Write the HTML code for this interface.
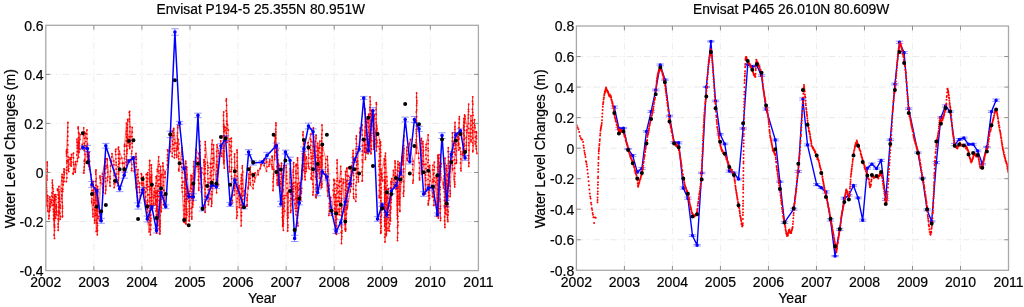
<!DOCTYPE html>
<html><head><meta charset="utf-8"><title>Envisat water level changes</title>
<style>html,body{margin:0;padding:0;background:#fff;overflow:hidden}svg{display:block}text{stroke:#000;stroke-width:0.2px}</style>
</head><body>
<svg width="1024" height="307" viewBox="0 0 1024 307" font-family='"Liberation Sans", Arial, Helvetica, sans-serif' font-size="14" fill="#000">
<rect width="1024" height="307" fill="#fff"/>
<clipPath id="c1"><rect x="45.80" y="25.30" width="432.60" height="245.30"/></clipPath>
<path d="M93.87 25.30V270.60M141.93 25.30V270.60M190.00 25.30V270.60M238.07 25.30V270.60M286.13 25.30V270.60M334.20 25.30V270.60M382.27 25.30V270.60M430.33 25.30V270.60" stroke="#ececec" stroke-width="0.9" stroke-dasharray="6.8 3.5 1.2 1.6 1.2 2.5" fill="none"/>
<path d="M45.80 221.54H478.40M45.80 172.48H478.40M45.80 123.42H478.40M45.80 74.36H478.40" stroke="#e6e6e6" stroke-width="0.9" stroke-dasharray="6.8 3.5 1.2 1.6 1.2 2.5" fill="none"/>
<g clip-path="url(#c1)"><path d="M45.7 195.6 L46.0 192.5 L46.0 190.4 L46.4 187.4 L46.4 185.0 L46.3 205.5 L46.5 200.5 L46.4 198.4 L46.7 194.9 L46.7 191.7 L46.4 187.8 L46.4 182.8 L46.6 177.9 L46.7 175.9 L47.3 171.3 L47.0 169.2 L47.3 165.5 L47.1 162.9 L47.1 162.0 L47.0 179.9 L46.4 182.9 L46.5 187.4 L46.6 189.8 L46.6 192.0 L46.5 196.5 L46.3 198.0 L47.8 211.2 L47.5 206.1 L47.4 201.0 L47.6 198.3 L47.7 195.7 L49.4 209.0 L49.0 211.8 L49.1 215.7 L48.9 218.7 L49.8 196.9 L50.1 199.4 L50.0 203.8 L49.7 206.4 L49.7 210.7 L50.8 201.5 L50.0 206.6 L50.1 207.0 L52.2 205.3 L51.8 202.8 L51.9 199.9 L51.9 196.1 L52.0 192.9 L52.4 187.5 L52.6 185.2 L52.2 182.8 L52.4 180.1 L53.0 188.8 L53.2 191.4 L52.9 193.8 L52.9 197.2 L53.4 200.6 L53.3 205.0 L53.3 209.2 L53.5 211.7 L53.6 215.1 L53.5 218.8 L54.5 238.4 L54.1 234.9 L54.6 230.4 L54.5 225.7 L54.5 220.7 L54.3 216.5 L54.5 213.4 L54.3 211.0 L54.5 206.3 L54.2 202.1 L54.4 198.6 L54.4 195.4 L54.6 227.4 L54.4 224.8 L54.3 220.1 L54.7 216.4 L54.5 214.2 L54.7 211.7 L54.5 206.4 L54.6 204.0 L54.7 200.1 L54.7 196.3 L54.6 194.9 L56.2 206.0 L56.0 208.7 L56.0 212.1 L56.1 214.5 L55.4 217.8 L55.7 218.2 L56.5 214.4 L56.5 211.0 L56.1 207.7 L56.3 204.9 L55.9 199.6 L56.0 196.9 L55.6 194.6 L58.3 195.0 L57.6 190.2 L57.4 189.1 L59.0 186.5 L58.8 189.7 L58.8 194.6 L58.4 198.2 L58.3 202.2 L58.4 207.1 L58.2 212.1 L58.2 215.4 L58.1 218.9 L58.5 220.9 L58.1 223.9 L58.2 226.9 L58.2 230.3 L59.1 191.8 L59.5 197.1 L59.6 199.3 L59.6 204.4 L59.7 206.9 L59.1 211.1 L59.8 213.2 L59.5 213.6 L60.1 219.2 L60.4 216.4 L59.9 213.2 L60.1 208.0 L60.1 205.5 L59.9 201.3 L59.6 198.1 L62.1 174.3 L62.1 177.0 L62.1 180.9 L62.3 184.4 L61.9 188.3 L61.8 191.2 L61.8 194.9 L61.9 198.5 L62.2 202.2 L62.5 206.1 L62.5 208.2 L62.4 211.8 L62.6 216.1 L62.4 216.9 L62.1 195.7 L62.7 191.4 L62.8 189.3 L63.2 184.9 L63.4 181.8 L63.2 178.0 L63.2 177.6 L63.7 178.0 L64.0 174.8 L63.9 171.5 L64.0 168.9 L64.5 169.2 L64.4 172.7 L64.1 177.6 L64.0 181.5 L66.4 181.6 L66.9 177.8 L66.8 173.5 L66.5 170.4 L66.7 167.3 L66.8 163.1 L66.8 161.0 L66.6 155.9 L66.5 153.7 L66.4 151.7 L66.6 150.0 L67.9 122.4 L67.8 127.6 L67.8 131.7 L67.8 136.2 L67.6 140.6 L67.8 144.9 L67.6 149.6 L67.6 152.2 L68.2 156.9 L67.8 161.2 L68.2 166.1 L68.0 169.9 L68.8 171.6 L68.7 168.5 L69.0 164.2 L68.6 162.0 L68.3 159.9 L68.5 159.6 L70.1 157.7 L70.2 159.8 L71.0 163.8 L70.8 165.6 L71.3 166.1 L71.3 161.9 L71.1 159.3 L71.6 157.3 L71.8 154.9 L71.4 154.5 L73.5 153.2 L73.5 157.7 L73.4 162.3 L73.7 164.5 L73.6 169.0 L72.9 173.5 L73.2 174.1 L75.6 161.6 L75.6 164.5 L74.9 169.0 L75.3 171.1 L75.2 172.2 L77.4 161.2 L77.5 158.6 L76.9 154.9 L77.2 151.6 L77.2 148.1 L77.2 145.6 L77.1 142.3 L76.9 139.4 L78.6 157.2 L78.6 151.9 L78.2 147.9 L78.7 145.7 L78.5 141.2 L78.3 138.1 L78.5 132.7 L78.1 128.6 L78.2 127.0 L78.9 133.2 L79.0 137.3 L78.5 142.1 L78.4 144.1 L78.6 147.6 L78.5 152.4 L80.1 134.6 L79.9 139.4 L79.3 143.4 L79.4 148.4 L79.0 152.5 L82.3 144.3 L82.5 148.2 L82.3 148.3 L83.7 127.8 L84.1 131.9 L83.9 135.6 L84.3 138.4 L84.2 143.2 L84.5 145.5 L84.2 150.2 L84.8 154.3 L84.7 159.4 L84.7 160.5 L84.2 161.0 L84.5 163.6 L84.2 166.9 L84.0 170.3 L83.6 172.8 L83.9 173.1 L86.4 146.4 L85.9 141.6 L85.8 137.5 L85.3 133.7 L85.6 133.1 L87.0 130.0 L86.9 134.0 L87.1 138.7 L87.5 144.0 L87.7 148.9 L87.1 151.8 L87.3 154.5 L87.2 156.8 L87.9 160.7 L87.7 163.3 L87.8 155.0 L88.3 159.1 L88.8 161.5 L88.8 164.4 L88.8 166.0 L89.2 152.4 L89.1 155.9 L89.7 161.3 L89.1 164.1 L89.4 167.0 L89.5 169.3 L90.9 174.5 L91.5 179.3 L91.8 183.5 L91.2 185.7 L91.9 190.4 L91.5 194.7 L91.9 198.8 L91.7 201.2 L91.8 202.8 L93.0 216.7 L93.0 213.8 L92.9 209.5 L93.1 205.0 L93.6 202.8 L93.6 200.1 L93.5 195.0 L93.2 192.5 L93.6 190.2 L93.3 185.2 L93.1 181.7 L93.2 181.5 L94.6 222.9 L94.5 220.1 L94.9 215.6 L95.1 213.1 L94.8 210.2 L94.8 207.6 L94.8 202.7 L95.0 200.1 L95.3 197.0 L95.3 194.6 L95.3 192.4 L94.8 188.1 L95.0 188.0 L96.2 231.5 L96.8 228.2 L96.7 222.7 L96.2 220.4 L96.0 215.3 L96.2 210.7 L95.9 205.3 L96.1 200.5 L95.9 198.0 L96.2 193.1 L96.1 190.4 L95.9 185.2 L95.8 181.2 L96.3 178.6 L95.8 174.1 L95.7 171.8 L96.0 170.0 L97.3 234.7 L97.6 230.6 L97.5 225.7 L97.1 223.0 L97.3 218.4 L97.0 213.9 L97.2 209.1 L97.5 204.1 L96.9 200.4 L97.1 195.2 L96.9 190.2 L97.1 188.9 L97.6 186.4 L97.8 189.7 L97.8 191.7 L97.7 195.2 L97.9 197.7 L97.9 202.5 L97.8 205.6 L97.8 209.0 L97.9 211.2 L97.6 215.8 L99.4 220.5 L99.0 216.6 L99.4 212.8 L100.3 182.8 L100.5 179.9 L99.9 177.8 L100.0 175.9 L103.3 192.2 L103.0 188.2 L102.5 183.8 L102.7 178.7 L102.2 176.6 L102.4 174.0 L105.5 158.7 L105.5 162.1 L105.9 166.2 L105.7 168.7 L105.4 173.3 L105.8 178.2 L105.4 181.6 L105.5 186.5 L105.7 189.9 L105.4 193.5 L107.4 180.5 L107.7 176.9 L107.6 172.1 L107.4 167.3 L107.2 165.1 L107.3 159.7 L107.0 158.7 L110.1 186.0 L109.9 182.2 L110.3 178.7 L110.0 176.6 L110.5 171.2 L110.5 165.9 L110.7 161.1 L110.4 160.3 L111.6 161.4 L111.8 157.0 L112.0 153.6 L113.8 160.9 L113.9 164.7 L113.9 170.0 L114.1 173.1 L114.1 175.5 L114.1 180.8 L114.1 183.8 L114.1 187.6 L116.1 182.4 L116.2 179.3 L116.1 176.3 L116.2 174.0 L116.2 169.1 L116.1 165.1 L116.1 162.4 L115.9 158.8 L115.8 154.6 L115.6 151.5 L115.7 149.4 L118.6 147.2 L118.4 149.2 L118.3 154.2 L118.5 158.2 L118.8 161.2 L118.6 164.2 L118.1 166.8 L118.4 171.8 L118.3 174.0 L118.5 177.6 L118.2 180.0 L118.5 185.3 L118.3 185.7 L119.8 163.1 L119.9 158.9 L119.5 154.1 L119.4 151.2 L121.9 158.1 L122.5 162.8 L122.4 163.4 L123.5 175.6 L124.1 171.0 L124.4 167.2 L124.1 163.2 L124.5 158.5 L124.3 154.3 L124.4 150.8 L124.4 146.2 L124.6 144.5 L126.4 123.1 L126.8 127.9 L126.5 131.6 L126.4 134.3 L126.6 136.8 L126.2 140.8 L126.3 146.0 L126.7 151.0 L126.2 156.4 L126.7 159.8 L126.1 161.9 L126.4 165.2 L127.0 153.3 L127.2 149.4 L127.0 145.6 L127.0 141.2 L127.2 137.9 L127.5 134.7 L127.3 130.3 L127.3 128.0 L127.5 124.6 L127.8 120.6 L127.6 119.3 L128.0 143.1 L127.8 138.7 L129.7 148.5 L129.4 145.9 L129.7 140.5 L129.2 136.7 L129.7 131.6 L129.9 126.7 L129.5 121.6 L129.4 119.0 L129.6 115.2 L129.3 112.6 L129.6 111.5 L130.4 136.6 L129.7 140.8 L130.1 144.3 L129.8 147.1 L132.2 127.3 L132.3 132.2 L132.0 136.6 L132.1 140.3 L132.1 143.2 L132.3 147.1 L131.8 151.1 L131.6 153.5 L131.5 158.2 L131.4 160.6 L131.8 164.4 L131.7 168.5 L131.5 170.6 L134.3 171.2 L134.6 166.7 L134.6 164.1 L134.9 162.4 L136.0 153.5 L136.0 157.0 L136.4 159.2 L136.4 163.3 L136.2 166.8 L135.8 169.7 L136.4 174.9 L136.5 178.0 L136.1 182.9 L136.5 187.0 L136.2 187.8 L138.0 169.6 L137.8 174.1 L138.2 177.2 L138.1 180.9 L137.6 183.8 L137.6 187.0 L137.5 192.4 L137.4 196.4 L137.5 200.3 L137.6 200.3 L140.3 195.6 L139.7 192.4 L139.6 189.7 L139.2 186.9 L139.4 182.7 L142.1 185.5 L141.6 183.2 L141.3 178.2 L141.6 174.7 L141.3 173.7 L143.8 193.3 L143.9 190.0 L143.8 187.3 L143.3 183.5 L143.1 179.9 L143.3 176.7 L145.8 204.3 L145.7 201.0 L145.7 196.9 L145.8 191.9 L146.2 188.1 L146.4 185.1 L146.4 181.8 L146.3 177.8 L146.2 174.4 L146.5 174.2 L147.8 172.6 L147.7 175.0 L147.6 178.3 L147.3 181.3 L147.4 184.4 L147.7 186.8 L147.5 189.8 L147.7 195.0 L147.7 200.1 L147.3 202.5 L147.6 204.7 L147.3 209.0 L147.5 212.4 L147.2 216.9 L147.4 219.5 L149.1 231.9 L149.6 229.5 L149.5 225.0 L149.0 222.8 L149.2 220.2 L149.3 217.2 L149.3 215.0 L149.2 210.8 L149.5 205.9 L149.3 201.4 L149.6 197.8 L149.1 194.6 L149.7 189.7 L149.2 186.7 L149.6 181.7 L149.3 179.5 L149.7 177.2 L149.8 174.4 L149.2 169.8 L149.5 165.4 L149.8 160.7 L149.6 160.5 L150.4 234.7 L150.7 229.4 L150.9 224.9 L150.7 220.7 L150.9 218.5 L150.8 215.0 L150.6 209.7 L150.6 205.1 L151.2 200.6 L151.1 197.7 L151.2 192.3 L151.0 188.4 L151.1 186.2 L151.1 182.7 L151.3 180.3 L151.0 184.9 L150.8 182.1 L151.1 178.3 L151.2 176.5 L152.0 206.4 L151.8 203.9 L151.9 200.7 L151.9 196.8 L151.8 194.2 L151.6 190.1 L151.8 185.5 L151.4 183.1 L151.3 179.8 L151.4 177.6 L151.6 174.9 L151.2 171.3 L151.4 168.2 L151.2 164.9 L151.4 164.8 L153.7 205.4 L153.8 203.1 L153.9 197.7 L154.0 195.3 L154.0 191.8 L154.4 188.1 L155.5 204.2 L155.8 200.0 L155.4 195.7 L155.4 192.9 L155.9 190.8 L155.7 185.8 L156.1 183.2 L156.4 178.2 L156.1 176.6 L156.2 193.5 L155.8 196.6 L156.0 201.5 L156.2 204.8 L156.5 208.1 L155.9 210.9 L156.4 214.9 L156.5 219.8 L156.8 225.0 L156.5 228.7 L156.4 231.2 L156.6 233.0 L156.6 215.1 L157.2 211.5 L156.6 209.2 L156.8 205.7 L156.7 201.2 L157.4 196.2 L157.2 192.5 L157.8 225.7 L157.6 221.9 L157.6 218.7 L157.8 214.4 L157.3 209.2 L157.5 206.2 L157.4 202.2 L157.2 199.6 L157.5 196.4 L157.7 191.0 L157.7 186.0 L157.5 180.6 L157.0 175.8 L157.4 171.4 L157.3 169.4 L158.7 156.8 L158.6 161.1 L159.1 164.3 L158.6 166.4 L158.8 170.8 L159.0 173.1 L159.0 176.4 L159.0 179.8 L158.9 183.8 L158.8 186.2 L159.1 191.3 L159.4 193.7 L158.9 196.6 L159.0 200.4 L159.3 204.2 L159.3 206.9 L159.3 209.3 L159.1 213.4 L159.1 216.8 L159.7 220.4 L159.6 224.3 L159.3 228.9 L159.5 229.6 L160.8 175.2 L160.3 178.5 L160.5 183.9 L160.2 188.6 L160.1 193.3 L160.3 196.1 L160.4 198.2 L160.1 200.9 L160.2 205.4 L160.3 210.5 L160.2 215.6 L160.3 220.8 L160.2 223.4 L160.2 226.6 L160.1 231.0 L159.8 233.4 L159.9 234.0 L160.6 166.4 L160.6 170.5 L161.2 174.4 L161.3 176.8 L160.8 181.1 L161.0 183.8 L161.1 188.8 L160.8 191.2 L161.3 193.5 L161.2 196.2 L161.3 199.2 L160.9 202.5 L161.3 207.6 L161.3 211.7 L162.9 163.0 L163.0 166.2 L163.6 169.9 L163.1 174.7 L163.7 177.4 L163.5 181.8 L163.4 185.4 L163.7 190.4 L163.9 195.4 L163.8 197.7 L164.2 200.5 L163.7 204.5 L164.0 205.2 L165.2 177.4 L165.0 174.0 L165.1 172.0 L165.0 171.9 L167.9 167.1 L167.3 165.0 L167.4 160.6 L167.5 157.7 L167.6 154.7 L167.8 150.9 L167.5 149.8 L170.5 151.6 L170.6 146.6 L170.4 146.3 L172.3 131.1 L172.7 135.9 L172.5 141.2 L172.5 144.3 L172.3 148.9 L172.2 153.1 L172.2 156.4 L174.4 157.8 L174.8 154.7 L174.2 151.0 L174.1 148.2 L173.9 144.9 L174.4 142.9 L174.0 139.3 L173.8 135.3 L173.5 132.8 L173.6 129.7 L173.7 128.4 L175.8 143.3 L176.2 148.5 L176.1 150.8 L176.8 154.8 L176.7 157.4 L178.0 125.5 L177.7 127.7 L177.5 132.9 L177.3 135.8 L177.5 138.4 L177.4 142.8 L177.4 146.2 L177.6 149.6 L178.4 139.5 L179.0 144.1 L178.4 148.2 L179.0 153.0 L178.5 156.2 L178.8 158.9 L178.9 164.0 L178.7 169.2 L178.9 170.9 L182.0 147.6 L182.0 151.9 L182.0 154.1 L182.2 156.3 L182.1 159.5 L182.0 163.6 L181.8 167.2 L182.2 172.4 L181.9 177.9 L182.4 182.0 L182.0 185.2 L182.0 187.7 L182.3 191.9 L183.9 222.0 L184.1 218.1 L184.2 214.2 L184.0 210.1 L184.0 205.5 L184.4 201.0 L184.2 196.3 L184.7 191.6 L184.2 188.0 L184.7 184.1 L184.1 181.7 L184.6 178.0 L184.4 173.3 L184.6 171.6 L184.9 222.5 L185.0 220.4 L185.2 218.2 L185.0 214.2 L185.2 208.9 L185.1 206.4 L185.6 201.8 L185.0 199.3 L185.2 194.5 L185.4 189.1 L185.4 184.9 L185.5 180.1 L185.8 176.9 L185.7 174.6 L185.7 172.3 L185.9 168.9 L185.7 166.7 L185.9 163.3 L185.7 161.2 L186.3 182.8 L186.4 185.7 L186.2 188.5 L186.5 193.2 L186.7 196.2 L186.4 199.0 L186.5 201.5 L186.1 206.6 L186.4 211.2 L186.0 214.2 L186.4 217.9 L186.2 220.5 L186.0 224.0 L186.9 215.0 L186.9 212.3 L186.8 209.0 L186.4 204.0 L187.0 199.0 L186.3 195.9 L187.0 193.5 L187.0 191.5 L186.9 189.0 L186.5 186.6 L186.4 182.3 L187.0 179.1 L187.0 174.6 L186.4 169.1 L186.8 167.3 L188.7 194.0 L188.9 197.8 L188.8 201.3 L189.5 203.4 L189.4 206.5 L189.2 208.9 L189.2 211.4 L189.4 214.0 L189.5 216.5 L189.1 220.3 L189.3 221.0 L189.2 216.5 L189.7 213.7 L189.7 208.7 L189.4 205.7 L189.4 202.8 L189.8 200.6 L189.9 197.2 L189.6 193.9 L190.0 191.2 L190.9 175.2 L191.2 179.6 L191.1 184.7 L190.8 188.1 L190.9 188.7 L191.9 176.0 L191.7 179.4 L191.6 184.9 L192.2 189.0 L192.0 191.9 L191.7 195.2 L191.6 197.9 L192.1 202.9 L191.5 208.1 L191.7 212.5 L191.8 216.8 L191.8 219.0 L193.8 161.6 L193.5 166.6 L193.8 170.6 L193.4 173.5 L193.2 178.1 L193.1 182.6 L193.2 186.4 L192.9 190.8 L193.0 195.0 L193.0 197.7 L193.1 200.7 L192.9 204.3 L192.7 207.1 L196.2 166.6 L196.3 161.4 L196.2 157.5 L195.9 152.7 L196.2 150.1 L196.0 149.5 L198.5 153.5 L198.0 158.5 L198.6 161.8 L198.1 166.7 L198.3 169.2 L198.4 171.6 L198.6 176.4 L198.3 180.0 L199.0 183.4 L198.7 187.8 L198.8 190.2 L199.8 141.2 L200.0 145.6 L199.9 149.4 L200.0 152.7 L199.9 156.1 L200.3 158.8 L200.0 161.0 L200.2 165.5 L200.2 168.6 L200.1 173.5 L200.5 177.0 L201.8 167.9 L201.8 172.7 L201.3 176.0 L201.5 179.5 L201.3 184.0 L201.5 187.5 L201.3 191.9 L204.3 179.4 L204.0 174.2 L204.3 168.8 L204.2 165.5 L203.8 162.3 L204.0 159.7 L205.1 212.3 L205.3 207.2 L205.2 205.1 L205.1 201.4 L205.1 196.5 L205.4 192.9 L205.1 189.3 L205.4 185.5 L205.3 181.2 L204.8 177.8 L205.2 173.4 L205.3 168.7 L204.9 166.3 L205.4 164.0 L204.9 161.7 L205.2 157.0 L205.3 154.8 L205.1 150.3 L205.3 148.1 L205.2 144.7 L205.2 141.7 L207.5 162.5 L207.8 165.6 L208.1 167.7 L207.7 170.6 L207.7 173.7 L208.0 178.7 L208.0 182.5 L207.9 184.7 L208.3 189.7 L208.0 194.7 L207.9 197.4 L208.2 201.3 L208.4 204.7 L210.0 198.4 L209.9 193.6 L210.2 188.4 L210.1 186.2 L210.1 182.4 L210.1 178.4 L210.4 175.4 L210.4 172.4 L210.3 167.6 L210.6 164.0 L210.3 163.5 L212.3 140.1 L211.9 144.3 L211.9 149.4 L211.9 153.4 L212.1 158.7 L212.0 163.5 L212.1 167.8 L211.7 170.9 L211.6 175.8 L211.6 181.0 L211.5 183.4 L212.1 188.1 L211.8 191.6 L211.9 194.5 L211.4 198.9 L211.7 201.1 L211.8 203.2 L211.3 206.2 L211.5 206.3 L213.2 184.7 L213.4 179.5 L213.3 174.6 L213.9 169.8 L213.2 166.4 L213.6 163.1 L213.6 160.3 L213.5 158.0 L213.5 153.4 L213.3 149.0 L213.6 144.9 L216.6 192.7 L216.4 187.4 L216.3 184.4 L216.5 179.8 L216.3 174.5 L216.9 170.9 L216.7 166.8 L216.5 164.5 L217.0 161.5 L216.6 156.5 L216.6 151.3 L217.3 147.2 L217.0 144.8 L217.2 164.9 L217.5 168.1 L217.7 171.0 L217.8 173.6 L217.3 176.6 L217.4 180.6 L217.9 184.5 L217.8 185.9 L219.3 161.3 L219.2 159.0 L219.0 156.5 L218.6 153.3 L218.4 150.3 L221.6 156.3 L221.4 153.1 L221.0 148.1 L220.6 145.5 L220.7 140.9 L223.7 162.2 L223.7 159.8 L223.7 157.2 L223.6 153.4 L223.6 150.7 L223.4 148.0 L224.0 145.2 L224.0 141.4 L224.0 139.4 L223.9 135.7 L223.8 131.7 L223.9 128.9 L223.5 126.3 L223.6 124.2 L223.5 120.4 L223.4 115.3 L223.7 112.0 L224.3 168.1 L223.8 163.6 L224.2 160.8 L223.8 155.3 L224.3 151.2 L224.1 146.3 L224.2 141.5 L223.9 136.3 L224.2 131.0 L224.0 127.5 L224.2 126.1 L225.6 127.3 L225.8 130.5 L226.2 132.8 L227.0 142.4 L226.9 136.9 L226.6 133.3 L226.9 128.5 L226.7 123.9 L226.6 121.2 L226.7 116.2 L226.7 113.9 L226.2 110.7 L226.6 105.3 L226.2 100.7 L226.4 99.0 L227.6 125.0 L228.3 129.9 L228.2 130.3 L229.6 171.7 L229.4 166.7 L229.6 161.3 L229.5 156.0 L230.0 150.6 L230.1 147.7 L229.7 144.9 L229.8 141.3 L230.0 138.9 L231.4 138.1 L231.5 141.5 L231.4 146.2 L231.6 151.5 L231.1 154.9 L231.6 159.2 L231.5 162.4 L231.7 167.3 L231.5 169.4 L231.2 171.4 L231.5 176.3 L231.6 178.8 L232.0 203.8 L232.3 200.6 L231.8 196.4 L231.9 196.1 L234.2 194.9 L234.5 190.6 L234.5 188.2 L234.6 186.1 L234.2 183.4 L234.3 178.1 L234.7 175.3 L234.8 171.1 L234.5 167.8 L234.6 162.4 L234.4 157.0 L234.6 154.0 L236.6 218.2 L237.3 215.6 L237.2 212.0 L236.9 209.1 L237.0 206.8 L237.0 201.8 L237.3 198.4 L237.1 193.3 L237.1 191.0 L237.3 187.5 L237.1 184.2 L236.9 180.0 L237.1 176.2 L237.0 171.0 L237.3 167.7 L237.2 165.5 L237.0 161.1 L237.2 157.6 L237.2 152.5 L237.0 150.0 L239.2 207.6 L239.6 202.3 L239.4 199.8 L239.0 195.8 L239.4 192.4 L239.0 188.1 L239.1 185.7 L241.2 225.9 L241.4 220.5 L241.4 215.7 L241.6 212.3 L241.5 207.8 L241.1 204.9 L241.6 200.9 L241.2 196.1 L241.4 193.6 L241.1 188.5 L241.1 183.9 L241.1 180.8 L241.3 177.8 L241.4 174.5 L241.4 189.1 L241.0 194.4 L241.0 197.5 L241.0 198.3 L242.5 207.4 L242.4 202.1 L242.8 199.3 L242.7 195.8 L242.7 191.5 L242.2 188.4 L242.4 183.8 L242.5 179.8 L242.3 175.2 L242.7 171.9 L242.2 168.1 L242.4 165.8 L243.9 195.4 L244.7 190.6 L247.5 195.0 L246.9 197.9 L247.1 200.2 L247.1 204.8 L246.9 206.3 L248.8 174.1 L249.0 178.3 L248.6 182.6 L248.2 187.3 L248.2 188.7 L250.4 167.1 L250.3 171.9 L250.6 174.6 L250.3 178.4 L250.5 182.8 L250.2 184.8 L253.1 188.5 L253.2 184.7 L252.7 180.4 L252.6 177.0 L252.6 174.0 L252.3 173.7 L255.2 172.9 L254.8 177.6 L254.5 181.9 L257.9 170.5 L258.1 174.7 L261.0 164.4 L260.2 168.7 L264.2 159.2 L264.5 163.3 L264.1 165.4 L266.5 171.1 L267.0 166.8 L266.3 162.0 L266.3 159.1 L269.0 166.3 L269.4 164.3 L269.4 161.8 L269.8 159.8 L272.3 169.1 L272.3 167.0 L271.9 164.6 L272.0 160.4 L272.2 157.2 L272.1 156.2 L273.8 169.3 L273.5 174.2 L273.6 176.3 L273.3 178.4 L273.0 181.9 L273.3 186.1 L273.0 190.1 L273.0 190.5 L275.1 136.6 L274.8 142.1 L274.4 146.2 L274.7 159.5 L274.8 155.8 L275.3 152.2 L275.2 147.7 L275.1 144.5 L275.3 141.1 L275.7 138.5 L275.6 134.7 L275.8 132.0 L275.6 129.3 L276.0 125.3 L275.9 123.0 L276.8 166.6 L276.8 171.1 L276.6 173.3 L277.1 175.4 L277.1 179.9 L277.1 182.8 L277.3 185.1 L277.4 144.8 L277.4 146.9 L277.9 150.1 L277.7 155.0 L277.5 157.3 L278.1 159.9 L278.3 163.5 L278.3 168.7 L278.4 172.4 L277.9 174.8 L278.3 178.8 L278.2 181.5 L278.7 183.6 L278.4 185.4 L279.1 165.2 L279.2 169.7 L279.7 174.6 L279.2 177.1 L279.7 179.8 L279.4 183.1 L280.1 188.0 L280.0 191.6 L280.8 183.9 L280.8 181.6 L281.3 177.4 L281.3 173.7 L281.1 171.0 L281.3 165.8 L281.6 163.5 L281.5 163.1 L282.7 225.1 L282.8 220.9 L282.3 217.3 L282.3 212.8 L282.5 209.1 L282.7 204.8 L282.7 201.9 L282.6 201.3 L283.4 230.3 L282.7 226.2 L283.4 223.4 L282.9 220.6 L283.2 215.8 L283.0 211.6 L282.6 209.5 L283.0 204.0 L282.4 201.9 L283.0 199.1 L282.8 196.3 L282.7 191.0 L282.4 185.8 L282.2 183.3 L282.2 178.6 L282.5 175.9 L283.7 165.6 L283.4 168.2 L283.6 170.5 L283.7 175.6 L283.6 177.7 L283.5 181.6 L283.4 185.4 L283.4 189.4 L282.9 191.7 L283.0 195.6 L282.8 199.0 L282.8 203.6 L283.3 208.5 L282.8 212.1 L282.8 216.4 L282.7 219.9 L282.9 225.3 L282.9 226.3 L284.8 211.1 L284.4 206.1 L284.6 202.9 L284.7 198.2 L285.0 195.6 L286.1 165.3 L286.2 167.6 L286.6 172.0 L286.6 175.8 L286.7 179.2 L287.0 183.5 L287.0 188.1 L287.1 193.3 L286.9 195.5 L287.7 231.0 L287.8 227.5 L287.9 224.9 L287.7 221.3 L287.5 218.4 L287.5 215.2 L287.6 212.9 L287.8 207.4 L287.9 202.2 L288.1 197.3 L287.7 192.6 L287.8 192.5 L288.1 217.7 L288.1 212.6 L287.7 209.4 L287.5 209.2 L290.0 168.8 L290.3 171.1 L290.2 174.2 L290.2 177.5 L290.0 182.9 L290.4 186.8 L290.6 190.6 L290.6 194.1 L290.7 198.5 L290.2 200.8 L290.7 203.8 L290.3 205.8 L290.9 210.4 L290.6 212.5 L292.2 199.0 L292.4 194.4 L292.1 191.5 L292.5 189.4 L292.2 186.7 L292.4 184.0 L293.7 162.6 L293.8 166.7 L293.3 169.8 L293.3 172.0 L293.4 175.3 L293.7 177.6 L293.8 183.0 L293.9 186.0 L293.5 188.6 L293.7 191.7 L293.7 196.1 L293.8 200.0 L295.3 208.6 L295.1 203.7 L295.4 198.8 L295.8 193.8 L295.6 189.4 L295.5 187.4 L295.6 182.2 L296.0 177.9 L295.8 173.6 L295.8 171.1 L296.0 165.7 L296.2 164.2 L296.2 198.0 L296.7 200.1 L296.7 202.5 L296.4 205.8 L296.4 208.3 L296.0 211.2 L296.0 214.6 L298.0 225.9 L297.7 222.9 L297.5 218.2 L297.5 215.5 L297.6 212.2 L297.6 208.0 L297.2 202.9 L297.7 198.6 L297.1 195.8 L297.2 192.2 L297.5 188.6 L297.1 186.3 L297.3 183.9 L298.1 201.2 L297.8 198.8 L298.0 195.6 L298.0 190.3 L297.8 188.0 L298.0 183.4 L298.2 178.4 L297.5 173.4 L297.8 168.1 L297.5 165.2 L297.5 160.2 L297.5 157.9 L297.6 157.9 L299.4 189.5 L299.8 185.9 L300.2 183.2 L300.1 182.6 L300.8 200.1 L300.7 197.4 L301.4 193.2 L301.5 191.1 L301.7 188.3 L302.4 153.6 L302.5 157.7 L302.5 160.2 L302.4 165.5 L302.0 170.5 L301.8 175.7 L302.0 178.5 L302.0 179.4 L303.3 170.0 L303.3 166.5 L303.7 163.8 L303.8 159.8 L303.5 156.4 L303.7 154.3 L303.3 151.5 L303.6 147.7 L303.6 144.0 L303.0 139.8 L302.9 134.9 L303.1 131.8 L305.2 179.7 L304.8 176.5 L305.0 173.3 L304.7 171.3 L305.0 168.7 L304.8 166.7 L304.7 163.8 L304.8 159.8 L304.4 157.3 L304.9 154.9 L304.3 152.4 L304.6 148.6 L304.1 143.5 L304.4 143.1 L306.2 171.6 L306.5 168.2 L306.6 163.8 L306.2 158.5 L306.4 156.8 L309.2 168.8 L308.5 166.5 L308.6 163.5 L308.8 158.1 L308.5 154.6 L308.5 149.6 L308.2 145.3 L307.9 142.9 L308.1 142.6 L311.0 133.8 L310.6 139.2 L311.1 141.5 L310.7 145.4 L310.8 149.9 L310.9 152.7 L311.2 156.5 L311.2 158.8 L311.1 163.0 L311.4 167.3 L311.2 169.4 L311.4 173.7 L311.1 178.0 L311.3 179.3 L313.4 128.0 L313.2 133.4 L313.7 136.8 L313.1 141.9 L313.2 146.5 L313.5 150.8 L313.1 153.3 L313.1 156.0 L313.0 158.2 L313.1 161.6 L313.2 163.8 L313.2 169.1 L313.3 172.4 L312.9 175.9 L312.7 179.6 L312.8 184.0 L313.3 187.3 L313.2 192.0 L312.9 195.0 L316.1 135.5 L316.0 138.2 L315.6 141.2 L315.9 146.1 L316.1 151.1 L315.7 155.1 L315.9 157.2 L315.8 161.7 L315.6 164.0 L316.1 166.6 L315.8 168.6 L316.1 171.5 L315.7 177.0 L316.3 179.4 L315.8 184.8 L316.1 187.9 L316.1 191.1 L316.0 194.7 L315.9 196.9 L316.1 197.8 L317.5 192.6 L317.6 189.7 L317.3 185.1 L317.2 181.4 L317.5 176.1 L317.2 174.0 L317.4 169.5 L317.3 165.0 L317.8 160.2 L317.6 157.9 L317.7 155.2 L317.8 150.4 L317.3 147.6 L317.7 143.3 L317.6 143.1 L318.0 171.2 L318.1 167.0 L318.3 164.1 L318.5 160.2 L318.5 158.1 L318.3 155.3 L318.6 151.1 L318.4 148.1 L319.8 141.1 L319.7 145.5 L319.7 148.0 L320.0 152.7 L320.1 157.2 L319.5 162.0 L319.8 165.1 L319.7 167.3 L319.3 169.6 L319.3 173.4 L319.4 178.3 L321.1 156.3 L321.3 158.7 L321.2 162.6 L321.3 167.1 L321.0 171.8 L321.2 174.0 L321.1 177.7 L321.0 182.1 L321.2 185.2 L321.2 187.8 L322.0 125.0 L322.3 130.2 L321.7 134.4 L322.0 138.0 L321.6 141.0 L322.2 146.4 L321.9 148.9 L321.8 153.0 L322.1 155.3 L321.8 160.0 L321.8 162.3 L322.2 164.6 L321.7 166.8 L321.6 171.5 L321.5 173.8 L321.8 176.4 L321.6 181.3 L322.0 183.9 L321.8 187.2 L322.7 155.8 L322.3 150.4 L322.5 147.5 L322.2 145.3 L325.9 159.4 L325.5 163.6 L325.7 167.2 L325.3 171.8 L325.9 174.4 L325.8 176.8 L325.6 177.9 L327.9 196.2 L327.6 190.7 L327.6 185.7 L327.9 183.1 L327.5 179.9 L327.9 176.5 L327.7 171.4 L327.8 169.4 L327.8 165.3 L327.4 159.9 L327.4 156.3 L329.3 185.5 L329.2 188.8 L329.0 192.1 L329.5 194.9 L329.3 198.4 L329.3 203.5 L329.4 206.3 L329.3 211.1 L328.9 215.4 L330.8 197.3 L331.0 201.6 L331.0 206.6 L331.3 210.5 L331.5 215.2 L333.5 195.3 L333.2 190.2 L333.8 184.9 L333.9 180.5 L333.8 179.3 L334.6 180.5 L334.8 183.7 L334.9 188.5 L334.5 191.2 L334.3 194.1 L334.3 197.2 L334.5 202.0 L334.4 204.3 L334.5 208.9 L334.7 211.5 L335.5 233.3 L335.3 230.2 L335.3 225.1 L335.6 219.9 L335.7 216.8 L335.2 212.8 L335.8 208.8 L335.6 205.0 L335.9 201.5 L335.5 197.2 L335.7 194.7 L336.4 234.2 L336.6 231.7 L336.4 229.6 L336.5 226.1 L336.1 222.6 L336.7 218.8 L336.4 214.0 L336.7 211.2 L336.4 206.4 L337.0 201.3 L336.6 197.8 L337.0 193.3 L336.6 190.6 L337.0 187.5 L336.9 184.8 L337.0 181.0 L337.2 178.5 L337.0 173.0 L336.8 168.3 L337.1 163.1 L337.1 160.0 L338.4 185.6 L337.7 188.3 L338.3 192.0 L338.3 197.2 L338.3 201.0 L337.7 204.9 L338.1 209.2 L337.9 212.6 L337.8 214.5 L339.7 214.8 L339.4 211.2 L339.6 209.1 L339.8 204.6 L339.5 201.8 L339.4 198.0 L339.9 193.9 L339.7 191.2 L339.8 186.7 L339.7 182.2 L339.6 180.9 L340.7 166.3 L341.1 171.6 L340.8 173.9 L341.3 178.7 L341.2 181.2 L341.6 185.4 L341.5 188.6 L341.1 191.4 L341.3 194.0 L341.3 198.2 L341.3 200.7 L341.3 203.0 L341.5 206.1 L341.5 208.8 L341.9 212.3 L341.9 216.0 L341.5 219.7 L341.5 223.7 L341.4 226.3 L342.1 230.8 L341.8 233.2 L341.5 243.5 L341.5 239.1 L341.8 236.5 L341.2 232.5 L341.7 227.6 L341.6 224.3 L341.5 219.1 L341.4 215.6 L341.6 211.7 L341.8 207.1 L341.4 204.6 L341.5 200.4 L343.2 179.1 L343.5 182.3 L343.2 183.3 L345.0 229.4 L345.3 224.3 L344.9 222.2 L344.9 218.5 L345.1 215.2 L344.8 212.0 L344.7 209.6 L345.5 171.4 L345.7 174.8 L345.4 179.6 L345.5 182.8 L345.9 186.1 L345.4 190.0 L345.8 193.2 L345.7 195.7 L345.4 197.8 L345.8 200.0 L345.4 202.5 L345.4 204.7 L345.7 209.3 L345.9 214.5 L345.9 218.4 L345.9 220.7 L345.3 224.2 L345.8 228.9 L345.6 231.0 L346.5 213.6 L346.7 209.5 L346.1 207.3 L346.1 204.9 L346.6 200.4 L346.3 198.0 L346.6 195.4 L346.9 191.0 L347.0 187.8 L346.6 184.3 L346.6 181.4 L347.2 176.0 L346.7 171.5 L346.7 168.9 L347.0 167.9 L348.1 176.0 L347.6 180.4 L348.1 183.9 L347.8 187.9 L347.7 193.0 L347.5 196.2 L347.7 201.5 L347.4 206.7 L347.3 208.0 L350.2 191.7 L350.2 189.7 L349.9 184.9 L350.1 182.9 L350.0 179.4 L349.8 177.3 L351.6 165.7 L351.5 171.0 L351.1 175.2 L351.0 178.5 L351.3 183.7 L351.1 186.5 L353.1 150.3 L353.2 153.4 L353.1 156.4 L353.4 158.9 L353.0 162.6 L353.0 167.8 L353.5 173.1 L353.6 175.6 L353.8 179.6 L353.5 183.7 L353.4 189.0 L353.5 193.7 L353.5 196.6 L353.8 198.2 L355.8 201.3 L356.1 196.8 L356.0 194.4 L355.9 189.9 L355.9 185.6 L356.4 182.3 L356.5 177.0 L356.2 173.5 L356.4 168.7 L356.5 165.1 L356.5 161.7 L356.0 158.0 L356.0 153.4 L356.0 149.0 L356.4 143.6 L356.1 139.0 L356.4 136.0 L358.5 181.8 L358.2 179.6 L358.4 177.3 L357.7 172.2 L357.9 168.6 L358.0 164.1 L357.8 161.0 L360.2 127.9 L359.7 132.8 L359.9 132.9 L362.2 124.9 L362.4 130.2 L362.2 134.9 L362.2 140.1 L362.4 145.3 L362.5 150.7 L362.3 154.9 L362.2 159.9 L362.5 162.2 L362.3 167.1 L362.0 171.7 L362.4 175.3 L362.4 180.7 L362.1 181.1 L364.3 138.9 L364.2 141.5 L364.4 145.1 L364.4 148.1 L364.5 152.0 L365.0 108.6 L365.2 113.7 L365.7 119.0 L365.4 121.5 L365.3 126.9 L365.2 130.8 L365.2 132.9 L365.2 135.4 L365.4 139.6 L365.5 144.9 L365.7 148.2 L365.5 152.4 L365.6 157.4 L365.4 159.4 L367.4 116.8 L367.4 119.6 L366.7 121.9 L366.8 125.8 L366.7 129.6 L367.1 134.5 L367.2 138.9 L367.0 144.4 L366.4 148.9 L366.7 151.0 L366.8 152.9 L368.1 153.8 L368.7 150.3 L368.7 146.3 L368.3 144.2 L368.7 141.6 L368.8 139.2 L368.8 136.3 L368.4 132.5 L368.5 127.1 L368.2 122.7 L368.9 117.8 L368.7 115.4 L368.6 114.2 L369.9 151.3 L370.0 145.9 L369.6 144.7 L370.0 96.8 L370.3 101.3 L370.5 104.6 L370.0 107.5 L370.0 110.0 L370.5 114.1 L370.3 116.7 L370.4 120.7 L370.4 124.1 L370.1 126.2 L370.2 129.7 L370.2 134.3 L370.3 139.2 L370.5 141.5 L370.5 142.5 L371.0 153.7 L371.5 149.3 L371.3 145.7 L371.5 140.5 L371.1 137.9 L371.3 135.6 L371.6 133.3 L371.4 129.8 L371.8 126.0 L371.3 123.1 L371.5 120.1 L371.8 114.9 L371.5 111.4 L371.7 110.3 L373.7 149.1 L373.8 146.6 L373.7 144.4 L373.5 141.2 L374.0 136.6 L373.7 132.8 L374.0 128.5 L373.8 124.2 L373.8 119.0 L374.2 116.2 L374.3 115.0 L376.3 147.0 L375.9 143.8 L375.9 139.5 L376.2 136.1 L375.9 132.5 L376.2 130.3 L376.5 124.8 L376.2 122.5 L376.0 118.8 L376.2 114.4 L376.1 109.6 L376.5 104.3 L376.3 102.7 L376.4 150.9 L376.8 146.5 L377.0 142.5 L376.8 140.3 L376.4 135.5 L376.4 132.4 L376.8 128.4 L376.7 125.8 L379.6 140.0 L379.7 143.0 L379.0 146.5 L379.5 148.9 L379.4 153.9 L379.6 156.4 L379.0 160.9 L379.4 164.3 L379.0 166.3 L379.5 169.5 L379.1 175.0 L379.4 180.2 L379.3 185.2 L379.3 190.6 L379.2 195.9 L379.2 197.8 L380.6 142.0 L380.7 145.3 L380.5 149.4 L380.7 152.3 L380.7 156.1 L380.5 160.4 L380.6 164.3 L380.9 169.0 L380.7 173.7 L381.0 176.6 L380.6 180.4 L380.7 183.4 L380.9 187.9 L380.9 191.5 L380.7 194.3 L380.6 197.5 L380.9 200.8 L380.5 205.4 L380.9 208.2 L380.8 212.5 L380.8 216.7 L380.4 219.7 L380.4 222.9 L380.7 228.3 L381.0 232.6 L380.7 233.2 L380.9 231.0 L381.3 226.2 L381.1 222.5 L381.1 219.6 L381.4 215.1 L381.4 210.1 L381.0 206.6 L381.4 203.5 L380.8 200.8 L381.3 197.8 L380.9 192.9 L381.3 187.9 L380.8 184.4 L380.9 179.7 L381.2 177.3 L380.9 173.7 L380.9 170.1 L382.5 181.1 L381.9 177.7 L382.0 174.4 L381.7 173.4 L384.3 158.7 L384.6 160.8 L384.3 164.9 L384.8 167.6 L384.3 172.8 L384.6 176.8 L384.2 180.0 L384.7 183.1 L384.6 187.2 L384.4 189.6 L384.5 192.7 L384.9 196.0 L384.9 198.4 L384.9 201.2 L384.7 204.1 L384.3 207.4 L384.9 212.2 L384.9 215.1 L385.0 218.8 L384.6 221.0 L384.8 223.8 L384.7 225.9 L384.8 181.2 L384.6 186.0 L385.1 189.0 L385.3 192.5 L384.9 194.8 L384.6 197.6 L384.6 199.9 L384.9 203.2 L384.8 207.0 L385.0 211.4 L384.7 216.9 L385.0 220.6 L385.2 223.9 L385.2 226.7 L384.9 229.9 L385.0 234.1 L384.7 237.1 L385.0 242.0 L386.3 231.4 L386.0 227.6 L386.3 224.4 L386.0 221.2 L385.9 215.9 L385.8 212.5 L386.1 208.2 L385.9 204.6 L386.1 201.8 L386.1 198.2 L386.0 194.9 L385.6 192.8 L385.9 187.4 L385.7 183.0 L385.5 179.4 L385.8 176.8 L385.5 172.4 L385.4 168.1 L385.3 164.0 L385.4 160.2 L385.2 156.2 L385.5 153.1 L386.9 176.8 L387.0 181.1 L387.1 185.3 L386.7 189.3 L387.1 192.8 L387.0 196.8 L386.7 200.1 L386.9 205.5 L386.4 209.8 L386.3 213.9 L386.9 219.2 L386.3 223.7 L386.2 228.7 L386.4 233.6 L386.3 235.5 L388.4 189.0 L388.1 193.4 L387.9 198.4 L388.0 203.5 L388.0 205.6 L387.8 207.9 L387.8 212.0 L387.9 214.6 L388.3 217.6 L388.3 222.7 L388.0 228.2 L388.0 230.5 L389.6 230.9 L389.3 226.3 L389.9 224.0 L389.7 220.0 L389.5 215.0 L389.8 210.6 L389.9 205.8 L390.4 203.1 L390.3 200.2 L390.2 197.0 L390.6 220.9 L390.5 218.1 L390.6 212.8 L390.8 209.0 L390.9 206.9 L391.1 202.3 L390.6 199.0 L391.0 195.8 L390.8 191.5 L390.7 187.7 L391.0 182.5 L391.0 181.6 L391.7 178.6 L391.7 181.9 L391.3 184.2 L391.3 188.4 L391.3 191.8 L391.1 194.5 L391.3 196.5 L391.3 199.4 L391.0 199.9 L393.4 170.4 L393.6 175.1 L394.0 180.1 L394.1 184.5 L393.9 186.9 L395.0 160.9 L395.3 163.2 L395.2 167.0 L395.8 169.8 L395.4 173.1 L395.7 175.8 L395.7 178.5 L395.8 182.3 L396.2 186.1 L396.3 188.2 L396.1 189.2 L397.5 218.8 L397.3 214.9 L397.4 210.1 L397.3 205.6 L397.7 201.6 L397.6 198.3 L397.7 196.1 L397.4 191.6 L397.8 187.7 L397.9 185.4 L397.4 180.3 L397.5 177.4 L397.5 174.6 L397.6 170.8 L397.8 167.8 L398.1 164.5 L397.9 161.3 L397.5 240.6 L397.5 237.4 L397.9 233.0 L397.5 227.5 L397.9 225.4 L398.0 222.0 L397.5 218.6 L397.9 216.3 L397.5 212.5 L397.7 209.0 L397.5 204.1 L397.4 201.5 L397.4 196.4 L397.5 192.0 L397.4 188.4 L397.4 185.6 L397.0 180.5 L397.3 178.7 L398.1 187.2 L398.7 191.4 L398.8 196.4 L398.8 198.8 L399.4 203.3 L399.3 204.7 L399.8 163.0 L399.6 165.1 L399.7 168.2 L399.4 171.4 L399.6 175.8 L399.6 180.5 L400.0 184.4 L400.0 186.8 L400.1 189.1 L400.0 191.2 L399.6 194.5 L399.9 197.8 L399.6 201.3 L399.8 205.1 L399.8 210.5 L399.9 211.4 L401.1 182.4 L401.6 178.2 L401.6 174.8 L401.3 171.8 L401.6 169.7 L401.6 164.6 L402.1 161.1 L401.7 158.1 L402.0 156.5 L403.0 164.8 L403.1 162.0 L403.0 158.5 L403.6 156.0 L404.0 135.9 L403.6 140.4 L403.6 145.6 L404.0 148.7 L403.7 150.8 L403.8 153.2 L403.5 155.3 L403.5 158.0 L403.5 160.4 L403.5 164.2 L403.7 169.0 L403.5 171.9 L403.3 176.9 L403.4 181.5 L403.5 186.8 L403.8 190.9 L403.3 193.2 L403.6 196.3 L406.8 147.1 L406.9 150.8 L407.0 154.4 L407.2 158.4 L407.4 160.6 L410.5 139.5 L409.5 143.3 L409.5 144.2 L413.1 161.2 L412.8 164.5 L412.8 169.6 L413.2 175.0 L413.2 180.5 L412.9 183.1 L416.1 142.2 L416.5 147.7 L416.5 152.5 L416.5 153.4 L416.6 93.0 L416.5 97.2 L416.9 100.8 L416.8 103.1 L416.6 105.5 L416.7 109.8 L416.3 111.9 L416.4 117.3 L416.4 120.7 L416.6 125.2 L416.3 129.5 L416.3 133.5 L416.6 136.1 L416.2 139.7 L418.7 153.3 L418.7 158.2 L419.2 162.8 L419.5 168.1 L419.2 173.2 L419.5 178.0 L419.6 179.9 L421.2 154.9 L421.3 149.9 L421.0 147.3 L421.2 143.3 L421.2 140.2 L421.5 138.3 L422.5 161.1 L422.4 164.2 L421.8 167.3 L421.5 170.7 L421.7 173.9 L424.0 164.6 L423.3 161.3 L423.2 155.9 L423.0 153.1 L423.4 150.7 L423.1 146.7 L422.8 143.8 L422.9 141.5 L425.6 193.8 L425.6 191.3 L425.5 189.3 L425.6 184.4 L425.8 180.5 L425.6 178.0 L425.6 175.0 L425.8 172.4 L426.0 168.4 L425.9 164.2 L426.2 158.9 L425.9 154.9 L426.0 149.7 L426.0 147.3 L426.2 144.4 L428.2 134.9 L428.3 140.2 L428.1 143.7 L428.0 148.4 L428.2 150.8 L428.0 155.6 L428.4 160.0 L427.9 162.5 L428.1 166.2 L428.5 171.5 L428.4 175.1 L428.0 179.3 L428.0 184.7 L428.2 186.9 L428.2 189.0 L428.6 192.5 L428.5 195.9 L428.4 200.6 L428.2 203.5 L428.3 204.9 L429.5 198.5 L429.6 195.3 L429.4 189.8 L429.3 186.7 L429.3 184.3 L429.9 180.9 L430.0 176.4 L429.8 171.5 L429.4 167.5 L429.8 165.3 L432.4 196.7 L432.7 192.8 L432.7 189.1 L432.9 186.7 L432.9 181.9 L432.9 179.5 L433.2 174.5 L432.6 169.8 L432.9 165.3 L434.4 162.1 L434.4 167.0 L434.1 169.9 L433.9 173.2 L434.1 177.8 L434.0 181.0 L434.0 186.3 L433.9 191.5 L433.5 196.9 L433.8 200.5 L434.1 205.1 L433.7 205.4 L435.9 182.1 L436.3 177.7 L436.1 175.8 L436.8 216.3 L436.9 211.5 L437.5 207.2 L437.2 204.4 L437.4 201.6 L437.4 197.8 L437.4 194.6 L437.6 189.3 L437.3 183.9 L437.5 180.1 L437.8 176.9 L437.6 174.3 L438.0 169.6 L437.5 167.5 L438.0 163.8 L438.0 161.2 L437.8 157.9 L437.8 155.5 L438.3 218.1 L438.4 215.6 L438.5 211.1 L438.7 208.7 L438.2 204.9 L438.7 200.1 L438.7 197.3 L438.2 192.5 L438.6 190.5 L438.1 185.6 L438.5 180.9 L438.6 176.7 L438.2 171.2 L438.6 166.3 L438.4 163.2 L438.5 158.8 L438.2 155.0 L440.5 220.6 L440.7 218.1 L440.2 213.0 L440.5 208.6 L440.5 206.2 L440.2 201.5 L440.1 199.1 L440.2 194.4 L440.0 189.6 L440.1 187.2 L439.9 182.1 L440.3 179.9 L440.3 177.5 L440.0 175.3 L440.4 170.9 L440.0 167.5 L440.0 165.4 L440.2 162.5 L440.2 158.0 L440.0 154.6 L441.3 163.7 L441.0 166.7 L440.6 171.3 L440.7 173.6 L443.5 187.8 L443.5 184.1 L444.2 178.9 L444.1 175.8 L444.0 182.4 L444.0 185.3 L444.5 189.1 L444.3 191.7 L444.4 197.1 L444.7 200.5 L444.4 205.6 L444.7 208.0 L444.9 212.6 L444.6 216.9 L444.6 220.7 L444.8 224.3 L444.9 227.4 L445.1 158.2 L445.0 163.6 L445.4 168.8 L445.3 173.8 L445.1 179.3 L445.7 184.3 L445.8 187.6 L445.8 190.3 L445.6 194.0 L445.9 196.7 L445.5 201.2 L445.6 206.6 L445.8 210.0 L445.9 213.9 L446.8 165.3 L446.5 168.6 L446.8 170.9 L446.8 174.9 L446.9 180.3 L446.9 183.6 L447.3 186.2 L447.1 190.2 L447.0 193.7 L447.2 196.8 L447.6 200.4 L447.1 204.4 L447.1 206.5 L447.6 209.8 L447.3 214.9 L447.5 217.3 L447.9 221.5 L447.6 219.4 L448.0 215.0 L448.2 211.7 L447.8 206.8 L448.0 204.6 L447.7 200.3 L447.9 198.1 L448.1 196.0 L447.8 191.8 L447.8 188.3 L447.7 185.6 L447.9 180.8 L447.9 176.3 L448.0 174.2 L448.3 147.7 L448.2 151.6 L448.6 157.1 L448.6 160.9 L448.4 163.3 L448.8 166.1 L448.5 168.1 L448.8 173.2 L448.5 177.7 L448.8 180.5 L448.8 183.5 L448.7 184.4 L450.2 166.1 L449.9 171.6 L449.7 177.1 L449.7 182.1 L450.0 186.0 L450.0 190.7 L450.3 193.5 L450.1 196.5 L452.4 132.9 L452.5 137.6 L452.4 141.3 L452.8 144.2 L452.8 148.9 L452.9 152.4 L452.5 156.8 L452.8 160.6 L452.5 165.2 L452.6 168.3 L452.7 169.8 L454.7 186.9 L454.8 184.2 L454.8 181.8 L454.4 179.3 L454.7 176.4 L455.0 173.5 L454.6 168.2 L454.9 163.6 L454.6 159.6 L455.2 154.3 L454.7 152.3 L454.7 149.1 L455.2 145.6 L455.1 143.5 L454.6 140.5 L454.8 135.3 L454.7 132.6 L454.7 129.3 L454.8 126.7 L455.0 122.6 L455.0 122.5 L455.9 136.7 L456.1 139.9 L456.0 144.7 L455.9 148.3 L456.3 150.8 L455.9 154.9 L456.5 160.2 L456.4 162.3 L456.3 163.2 L457.6 133.3 L458.0 137.0 L458.1 139.7 L458.6 143.2 L458.3 145.6 L459.4 116.6 L459.3 119.0 L459.2 122.9 L459.0 127.6 L459.5 131.8 L459.0 134.3 L459.0 138.9 L458.8 144.2 L459.2 147.6 L458.8 150.0 L460.1 147.9 L460.8 151.8 L460.8 154.2 L460.9 158.9 L460.5 163.0 L460.7 168.4 L461.0 170.8 L463.2 148.8 L463.0 152.2 L462.7 153.8 L463.9 118.5 L463.9 122.2 L463.7 125.2 L463.6 127.3 L463.9 129.6 L463.6 133.9 L463.9 139.4 L463.3 144.7 L463.7 149.2 L463.2 153.3 L463.5 155.8 L464.7 154.3 L464.1 151.3 L464.3 146.1 L464.2 144.0 L464.7 138.5 L464.3 135.7 L464.7 130.6 L464.3 126.6 L464.9 123.1 L464.5 121.1 L465.0 118.9 L464.9 116.5 L464.6 115.0 L467.1 126.3 L466.9 130.0 L466.8 132.5 L466.4 137.3 L466.4 142.4 L466.2 145.3 L466.3 148.9 L466.2 150.8 L468.7 104.1 L468.5 109.5 L468.6 111.6 L468.5 114.7 L468.4 118.1 L468.7 123.4 L468.9 128.4 L468.9 133.0 L468.9 136.0 L468.8 138.8 L468.9 142.9 L468.6 145.4 L468.9 150.3 L468.5 155.7 L468.5 158.5 L468.9 163.0 L468.7 166.4 L471.0 115.7 L471.0 120.9 L471.0 125.2 L471.1 129.0 L470.7 133.0 L470.9 136.5 L471.0 140.0 L471.0 141.8 L472.7 138.1 L472.5 132.7 L472.9 130.7 L472.7 127.3 L472.7 123.2 L472.4 120.4 L473.0 115.3 L472.7 112.3 L472.4 109.2 L472.9 104.1 L472.5 101.2 L472.7 96.8 L472.7 142.8 L473.0 145.6 L473.0 150.6 L472.8 151.7 L474.6 119.7 L474.3 123.3 L474.8 125.5 L475.0 127.7 L474.9 132.1 L475.4 137.2 L475.0 141.3 L475.3 143.9 L477.0 153.5 L476.3 149.0 L476.4 146.2 L476.3 142.1 L476.6 138.6 L476.5 136.0 L476.6 132.8 L476.2 131.7" stroke="#ff0000" stroke-width="0.7" stroke-opacity="0.8" fill="none" stroke-linejoin="round"/>
<path d="M45.7 195.6h0M46.0 192.5h0M46.0 190.4h0M46.4 187.4h0M46.4 185.0h0M46.3 205.5h0M46.5 200.5h0M46.4 198.4h0M46.7 194.9h0M46.7 191.7h0M46.4 187.8h0M46.4 182.8h0M46.6 177.9h0M46.7 175.9h0M47.3 171.3h0M47.0 169.2h0M47.3 165.5h0M47.1 162.9h0M47.1 162.0h0M47.0 179.9h0M46.4 182.9h0M46.5 187.4h0M46.6 189.8h0M46.6 192.0h0M46.5 196.5h0M46.3 198.0h0M47.8 211.2h0M47.5 206.1h0M47.4 201.0h0M47.6 198.3h0M47.7 195.7h0M49.4 209.0h0M49.0 211.8h0M49.1 215.7h0M48.9 218.7h0M49.8 196.9h0M50.1 199.4h0M50.0 203.8h0M49.7 206.4h0M49.7 210.7h0M50.8 201.5h0M50.0 206.6h0M50.1 207.0h0M52.2 205.3h0M51.8 202.8h0M51.9 199.9h0M51.9 196.1h0M52.0 192.9h0M52.4 187.5h0M52.6 185.2h0M52.2 182.8h0M52.4 180.1h0M53.0 188.8h0M53.2 191.4h0M52.9 193.8h0M52.9 197.2h0M53.4 200.6h0M53.3 205.0h0M53.3 209.2h0M53.5 211.7h0M53.6 215.1h0M53.5 218.8h0M54.5 238.4h0M54.1 234.9h0M54.6 230.4h0M54.5 225.7h0M54.5 220.7h0M54.3 216.5h0M54.5 213.4h0M54.3 211.0h0M54.5 206.3h0M54.2 202.1h0M54.4 198.6h0M54.4 195.4h0M54.6 227.4h0M54.4 224.8h0M54.3 220.1h0M54.7 216.4h0M54.5 214.2h0M54.7 211.7h0M54.5 206.4h0M54.6 204.0h0M54.7 200.1h0M54.7 196.3h0M54.6 194.9h0M56.2 206.0h0M56.0 208.7h0M56.0 212.1h0M56.1 214.5h0M55.4 217.8h0M55.7 218.2h0M56.5 214.4h0M56.5 211.0h0M56.1 207.7h0M56.3 204.9h0M55.9 199.6h0M56.0 196.9h0M55.6 194.6h0M58.3 195.0h0M57.6 190.2h0M57.4 189.1h0M59.0 186.5h0M58.8 189.7h0M58.8 194.6h0M58.4 198.2h0M58.3 202.2h0M58.4 207.1h0M58.2 212.1h0M58.2 215.4h0M58.1 218.9h0M58.5 220.9h0M58.1 223.9h0M58.2 226.9h0M58.2 230.3h0M59.1 191.8h0M59.5 197.1h0M59.6 199.3h0M59.6 204.4h0M59.7 206.9h0M59.1 211.1h0M59.8 213.2h0M59.5 213.6h0M60.1 219.2h0M60.4 216.4h0M59.9 213.2h0M60.1 208.0h0M60.1 205.5h0M59.9 201.3h0M59.6 198.1h0M62.1 174.3h0M62.1 177.0h0M62.1 180.9h0M62.3 184.4h0M61.9 188.3h0M61.8 191.2h0M61.8 194.9h0M61.9 198.5h0M62.2 202.2h0M62.5 206.1h0M62.5 208.2h0M62.4 211.8h0M62.6 216.1h0M62.4 216.9h0M62.1 195.7h0M62.7 191.4h0M62.8 189.3h0M63.2 184.9h0M63.4 181.8h0M63.2 178.0h0M63.2 177.6h0M63.7 178.0h0M64.0 174.8h0M63.9 171.5h0M64.0 168.9h0M64.5 169.2h0M64.4 172.7h0M64.1 177.6h0M64.0 181.5h0M66.4 181.6h0M66.9 177.8h0M66.8 173.5h0M66.5 170.4h0M66.7 167.3h0M66.8 163.1h0M66.8 161.0h0M66.6 155.9h0M66.5 153.7h0M66.4 151.7h0M66.6 150.0h0M67.9 122.4h0M67.8 127.6h0M67.8 131.7h0M67.8 136.2h0M67.6 140.6h0M67.8 144.9h0M67.6 149.6h0M67.6 152.2h0M68.2 156.9h0M67.8 161.2h0M68.2 166.1h0M68.0 169.9h0M68.8 171.6h0M68.7 168.5h0M69.0 164.2h0M68.6 162.0h0M68.3 159.9h0M68.5 159.6h0M70.1 157.7h0M70.2 159.8h0M71.0 163.8h0M70.8 165.6h0M71.3 166.1h0M71.3 161.9h0M71.1 159.3h0M71.6 157.3h0M71.8 154.9h0M71.4 154.5h0M73.5 153.2h0M73.5 157.7h0M73.4 162.3h0M73.7 164.5h0M73.6 169.0h0M72.9 173.5h0M73.2 174.1h0M75.6 161.6h0M75.6 164.5h0M74.9 169.0h0M75.3 171.1h0M75.2 172.2h0M77.4 161.2h0M77.5 158.6h0M76.9 154.9h0M77.2 151.6h0M77.2 148.1h0M77.2 145.6h0M77.1 142.3h0M76.9 139.4h0M78.6 157.2h0M78.6 151.9h0M78.2 147.9h0M78.7 145.7h0M78.5 141.2h0M78.3 138.1h0M78.5 132.7h0M78.1 128.6h0M78.2 127.0h0M78.9 133.2h0M79.0 137.3h0M78.5 142.1h0M78.4 144.1h0M78.6 147.6h0M78.5 152.4h0M80.1 134.6h0M79.9 139.4h0M79.3 143.4h0M79.4 148.4h0M79.0 152.5h0M82.3 144.3h0M82.5 148.2h0M82.3 148.3h0M83.7 127.8h0M84.1 131.9h0M83.9 135.6h0M84.3 138.4h0M84.2 143.2h0M84.5 145.5h0M84.2 150.2h0M84.8 154.3h0M84.7 159.4h0M84.7 160.5h0M84.2 161.0h0M84.5 163.6h0M84.2 166.9h0M84.0 170.3h0M83.6 172.8h0M83.9 173.1h0M86.4 146.4h0M85.9 141.6h0M85.8 137.5h0M85.3 133.7h0M85.6 133.1h0M87.0 130.0h0M86.9 134.0h0M87.1 138.7h0M87.5 144.0h0M87.7 148.9h0M87.1 151.8h0M87.3 154.5h0M87.2 156.8h0M87.9 160.7h0M87.7 163.3h0M87.8 155.0h0M88.3 159.1h0M88.8 161.5h0M88.8 164.4h0M88.8 166.0h0M89.2 152.4h0M89.1 155.9h0M89.7 161.3h0M89.1 164.1h0M89.4 167.0h0M89.5 169.3h0M90.9 174.5h0M91.5 179.3h0M91.8 183.5h0M91.2 185.7h0M91.9 190.4h0M91.5 194.7h0M91.9 198.8h0M91.7 201.2h0M91.8 202.8h0M93.0 216.7h0M93.0 213.8h0M92.9 209.5h0M93.1 205.0h0M93.6 202.8h0M93.6 200.1h0M93.5 195.0h0M93.2 192.5h0M93.6 190.2h0M93.3 185.2h0M93.1 181.7h0M93.2 181.5h0M94.6 222.9h0M94.5 220.1h0M94.9 215.6h0M95.1 213.1h0M94.8 210.2h0M94.8 207.6h0M94.8 202.7h0M95.0 200.1h0M95.3 197.0h0M95.3 194.6h0M95.3 192.4h0M94.8 188.1h0M95.0 188.0h0M96.2 231.5h0M96.8 228.2h0M96.7 222.7h0M96.2 220.4h0M96.0 215.3h0M96.2 210.7h0M95.9 205.3h0M96.1 200.5h0M95.9 198.0h0M96.2 193.1h0M96.1 190.4h0M95.9 185.2h0M95.8 181.2h0M96.3 178.6h0M95.8 174.1h0M95.7 171.8h0M96.0 170.0h0M97.3 234.7h0M97.6 230.6h0M97.5 225.7h0M97.1 223.0h0M97.3 218.4h0M97.0 213.9h0M97.2 209.1h0M97.5 204.1h0M96.9 200.4h0M97.1 195.2h0M96.9 190.2h0M97.1 188.9h0M97.6 186.4h0M97.8 189.7h0M97.8 191.7h0M97.7 195.2h0M97.9 197.7h0M97.9 202.5h0M97.8 205.6h0M97.8 209.0h0M97.9 211.2h0M97.6 215.8h0M99.4 220.5h0M99.0 216.6h0M99.4 212.8h0M100.3 182.8h0M100.5 179.9h0M99.9 177.8h0M100.0 175.9h0M103.3 192.2h0M103.0 188.2h0M102.5 183.8h0M102.7 178.7h0M102.2 176.6h0M102.4 174.0h0M105.5 158.7h0M105.5 162.1h0M105.9 166.2h0M105.7 168.7h0M105.4 173.3h0M105.8 178.2h0M105.4 181.6h0M105.5 186.5h0M105.7 189.9h0M105.4 193.5h0M107.4 180.5h0M107.7 176.9h0M107.6 172.1h0M107.4 167.3h0M107.2 165.1h0M107.3 159.7h0M107.0 158.7h0M110.1 186.0h0M109.9 182.2h0M110.3 178.7h0M110.0 176.6h0M110.5 171.2h0M110.5 165.9h0M110.7 161.1h0M110.4 160.3h0M111.6 161.4h0M111.8 157.0h0M112.0 153.6h0M113.8 160.9h0M113.9 164.7h0M113.9 170.0h0M114.1 173.1h0M114.1 175.5h0M114.1 180.8h0M114.1 183.8h0M114.1 187.6h0M116.1 182.4h0M116.2 179.3h0M116.1 176.3h0M116.2 174.0h0M116.2 169.1h0M116.1 165.1h0M116.1 162.4h0M115.9 158.8h0M115.8 154.6h0M115.6 151.5h0M115.7 149.4h0M118.6 147.2h0M118.4 149.2h0M118.3 154.2h0M118.5 158.2h0M118.8 161.2h0M118.6 164.2h0M118.1 166.8h0M118.4 171.8h0M118.3 174.0h0M118.5 177.6h0M118.2 180.0h0M118.5 185.3h0M118.3 185.7h0M119.8 163.1h0M119.9 158.9h0M119.5 154.1h0M119.4 151.2h0M121.9 158.1h0M122.5 162.8h0M122.4 163.4h0M123.5 175.6h0M124.1 171.0h0M124.4 167.2h0M124.1 163.2h0M124.5 158.5h0M124.3 154.3h0M124.4 150.8h0M124.4 146.2h0M124.6 144.5h0M126.4 123.1h0M126.8 127.9h0M126.5 131.6h0M126.4 134.3h0M126.6 136.8h0M126.2 140.8h0M126.3 146.0h0M126.7 151.0h0M126.2 156.4h0M126.7 159.8h0M126.1 161.9h0M126.4 165.2h0M127.0 153.3h0M127.2 149.4h0M127.0 145.6h0M127.0 141.2h0M127.2 137.9h0M127.5 134.7h0M127.3 130.3h0M127.3 128.0h0M127.5 124.6h0M127.8 120.6h0M127.6 119.3h0M128.0 143.1h0M127.8 138.7h0M129.7 148.5h0M129.4 145.9h0M129.7 140.5h0M129.2 136.7h0M129.7 131.6h0M129.9 126.7h0M129.5 121.6h0M129.4 119.0h0M129.6 115.2h0M129.3 112.6h0M129.6 111.5h0M130.4 136.6h0M129.7 140.8h0M130.1 144.3h0M129.8 147.1h0M132.2 127.3h0M132.3 132.2h0M132.0 136.6h0M132.1 140.3h0M132.1 143.2h0M132.3 147.1h0M131.8 151.1h0M131.6 153.5h0M131.5 158.2h0M131.4 160.6h0M131.8 164.4h0M131.7 168.5h0M131.5 170.6h0M134.3 171.2h0M134.6 166.7h0M134.6 164.1h0M134.9 162.4h0M136.0 153.5h0M136.0 157.0h0M136.4 159.2h0M136.4 163.3h0M136.2 166.8h0M135.8 169.7h0M136.4 174.9h0M136.5 178.0h0M136.1 182.9h0M136.5 187.0h0M136.2 187.8h0M138.0 169.6h0M137.8 174.1h0M138.2 177.2h0M138.1 180.9h0M137.6 183.8h0M137.6 187.0h0M137.5 192.4h0M137.4 196.4h0M137.5 200.3h0M137.6 200.3h0M140.3 195.6h0M139.7 192.4h0M139.6 189.7h0M139.2 186.9h0M139.4 182.7h0M142.1 185.5h0M141.6 183.2h0M141.3 178.2h0M141.6 174.7h0M141.3 173.7h0M143.8 193.3h0M143.9 190.0h0M143.8 187.3h0M143.3 183.5h0M143.1 179.9h0M143.3 176.7h0M145.8 204.3h0M145.7 201.0h0M145.7 196.9h0M145.8 191.9h0M146.2 188.1h0M146.4 185.1h0M146.4 181.8h0M146.3 177.8h0M146.2 174.4h0M146.5 174.2h0M147.8 172.6h0M147.7 175.0h0M147.6 178.3h0M147.3 181.3h0M147.4 184.4h0M147.7 186.8h0M147.5 189.8h0M147.7 195.0h0M147.7 200.1h0M147.3 202.5h0M147.6 204.7h0M147.3 209.0h0M147.5 212.4h0M147.2 216.9h0M147.4 219.5h0M149.1 231.9h0M149.6 229.5h0M149.5 225.0h0M149.0 222.8h0M149.2 220.2h0M149.3 217.2h0M149.3 215.0h0M149.2 210.8h0M149.5 205.9h0M149.3 201.4h0M149.6 197.8h0M149.1 194.6h0M149.7 189.7h0M149.2 186.7h0M149.6 181.7h0M149.3 179.5h0M149.7 177.2h0M149.8 174.4h0M149.2 169.8h0M149.5 165.4h0M149.8 160.7h0M149.6 160.5h0M150.4 234.7h0M150.7 229.4h0M150.9 224.9h0M150.7 220.7h0M150.9 218.5h0M150.8 215.0h0M150.6 209.7h0M150.6 205.1h0M151.2 200.6h0M151.1 197.7h0M151.2 192.3h0M151.0 188.4h0M151.1 186.2h0M151.1 182.7h0M151.3 180.3h0M151.0 184.9h0M150.8 182.1h0M151.1 178.3h0M151.2 176.5h0M152.0 206.4h0M151.8 203.9h0M151.9 200.7h0M151.9 196.8h0M151.8 194.2h0M151.6 190.1h0M151.8 185.5h0M151.4 183.1h0M151.3 179.8h0M151.4 177.6h0M151.6 174.9h0M151.2 171.3h0M151.4 168.2h0M151.2 164.9h0M151.4 164.8h0M153.7 205.4h0M153.8 203.1h0M153.9 197.7h0M154.0 195.3h0M154.0 191.8h0M154.4 188.1h0M155.5 204.2h0M155.8 200.0h0M155.4 195.7h0M155.4 192.9h0M155.9 190.8h0M155.7 185.8h0M156.1 183.2h0M156.4 178.2h0M156.1 176.6h0M156.2 193.5h0M155.8 196.6h0M156.0 201.5h0M156.2 204.8h0M156.5 208.1h0M155.9 210.9h0M156.4 214.9h0M156.5 219.8h0M156.8 225.0h0M156.5 228.7h0M156.4 231.2h0M156.6 233.0h0M156.6 215.1h0M157.2 211.5h0M156.6 209.2h0M156.8 205.7h0M156.7 201.2h0M157.4 196.2h0M157.2 192.5h0M157.8 225.7h0M157.6 221.9h0M157.6 218.7h0M157.8 214.4h0M157.3 209.2h0M157.5 206.2h0M157.4 202.2h0M157.2 199.6h0M157.5 196.4h0M157.7 191.0h0M157.7 186.0h0M157.5 180.6h0M157.0 175.8h0M157.4 171.4h0M157.3 169.4h0M158.7 156.8h0M158.6 161.1h0M159.1 164.3h0M158.6 166.4h0M158.8 170.8h0M159.0 173.1h0M159.0 176.4h0M159.0 179.8h0M158.9 183.8h0M158.8 186.2h0M159.1 191.3h0M159.4 193.7h0M158.9 196.6h0M159.0 200.4h0M159.3 204.2h0M159.3 206.9h0M159.3 209.3h0M159.1 213.4h0M159.1 216.8h0M159.7 220.4h0M159.6 224.3h0M159.3 228.9h0M159.5 229.6h0M160.8 175.2h0M160.3 178.5h0M160.5 183.9h0M160.2 188.6h0M160.1 193.3h0M160.3 196.1h0M160.4 198.2h0M160.1 200.9h0M160.2 205.4h0M160.3 210.5h0M160.2 215.6h0M160.3 220.8h0M160.2 223.4h0M160.2 226.6h0M160.1 231.0h0M159.8 233.4h0M159.9 234.0h0M160.6 166.4h0M160.6 170.5h0M161.2 174.4h0M161.3 176.8h0M160.8 181.1h0M161.0 183.8h0M161.1 188.8h0M160.8 191.2h0M161.3 193.5h0M161.2 196.2h0M161.3 199.2h0M160.9 202.5h0M161.3 207.6h0M161.3 211.7h0M162.9 163.0h0M163.0 166.2h0M163.6 169.9h0M163.1 174.7h0M163.7 177.4h0M163.5 181.8h0M163.4 185.4h0M163.7 190.4h0M163.9 195.4h0M163.8 197.7h0M164.2 200.5h0M163.7 204.5h0M164.0 205.2h0M165.2 177.4h0M165.0 174.0h0M165.1 172.0h0M165.0 171.9h0M167.9 167.1h0M167.3 165.0h0M167.4 160.6h0M167.5 157.7h0M167.6 154.7h0M167.8 150.9h0M167.5 149.8h0M170.5 151.6h0M170.6 146.6h0M170.4 146.3h0M172.3 131.1h0M172.7 135.9h0M172.5 141.2h0M172.5 144.3h0M172.3 148.9h0M172.2 153.1h0M172.2 156.4h0M174.4 157.8h0M174.8 154.7h0M174.2 151.0h0M174.1 148.2h0M173.9 144.9h0M174.4 142.9h0M174.0 139.3h0M173.8 135.3h0M173.5 132.8h0M173.6 129.7h0M173.7 128.4h0M175.8 143.3h0M176.2 148.5h0M176.1 150.8h0M176.8 154.8h0M176.7 157.4h0M178.0 125.5h0M177.7 127.7h0M177.5 132.9h0M177.3 135.8h0M177.5 138.4h0M177.4 142.8h0M177.4 146.2h0M177.6 149.6h0M178.4 139.5h0M179.0 144.1h0M178.4 148.2h0M179.0 153.0h0M178.5 156.2h0M178.8 158.9h0M178.9 164.0h0M178.7 169.2h0M178.9 170.9h0M182.0 147.6h0M182.0 151.9h0M182.0 154.1h0M182.2 156.3h0M182.1 159.5h0M182.0 163.6h0M181.8 167.2h0M182.2 172.4h0M181.9 177.9h0M182.4 182.0h0M182.0 185.2h0M182.0 187.7h0M182.3 191.9h0M183.9 222.0h0M184.1 218.1h0M184.2 214.2h0M184.0 210.1h0M184.0 205.5h0M184.4 201.0h0M184.2 196.3h0M184.7 191.6h0M184.2 188.0h0M184.7 184.1h0M184.1 181.7h0M184.6 178.0h0M184.4 173.3h0M184.6 171.6h0M184.9 222.5h0M185.0 220.4h0M185.2 218.2h0M185.0 214.2h0M185.2 208.9h0M185.1 206.4h0M185.6 201.8h0M185.0 199.3h0M185.2 194.5h0M185.4 189.1h0M185.4 184.9h0M185.5 180.1h0M185.8 176.9h0M185.7 174.6h0M185.7 172.3h0M185.9 168.9h0M185.7 166.7h0M185.9 163.3h0M185.7 161.2h0M186.3 182.8h0M186.4 185.7h0M186.2 188.5h0M186.5 193.2h0M186.7 196.2h0M186.4 199.0h0M186.5 201.5h0M186.1 206.6h0M186.4 211.2h0M186.0 214.2h0M186.4 217.9h0M186.2 220.5h0M186.0 224.0h0M186.9 215.0h0M186.9 212.3h0M186.8 209.0h0M186.4 204.0h0M187.0 199.0h0M186.3 195.9h0M187.0 193.5h0M187.0 191.5h0M186.9 189.0h0M186.5 186.6h0M186.4 182.3h0M187.0 179.1h0M187.0 174.6h0M186.4 169.1h0M186.8 167.3h0M188.7 194.0h0M188.9 197.8h0M188.8 201.3h0M189.5 203.4h0M189.4 206.5h0M189.2 208.9h0M189.2 211.4h0M189.4 214.0h0M189.5 216.5h0M189.1 220.3h0M189.3 221.0h0M189.2 216.5h0M189.7 213.7h0M189.7 208.7h0M189.4 205.7h0M189.4 202.8h0M189.8 200.6h0M189.9 197.2h0M189.6 193.9h0M190.0 191.2h0M190.9 175.2h0M191.2 179.6h0M191.1 184.7h0M190.8 188.1h0M190.9 188.7h0M191.9 176.0h0M191.7 179.4h0M191.6 184.9h0M192.2 189.0h0M192.0 191.9h0M191.7 195.2h0M191.6 197.9h0M192.1 202.9h0M191.5 208.1h0M191.7 212.5h0M191.8 216.8h0M191.8 219.0h0M193.8 161.6h0M193.5 166.6h0M193.8 170.6h0M193.4 173.5h0M193.2 178.1h0M193.1 182.6h0M193.2 186.4h0M192.9 190.8h0M193.0 195.0h0M193.0 197.7h0M193.1 200.7h0M192.9 204.3h0M192.7 207.1h0M196.2 166.6h0M196.3 161.4h0M196.2 157.5h0M195.9 152.7h0M196.2 150.1h0M196.0 149.5h0M198.5 153.5h0M198.0 158.5h0M198.6 161.8h0M198.1 166.7h0M198.3 169.2h0M198.4 171.6h0M198.6 176.4h0M198.3 180.0h0M199.0 183.4h0M198.7 187.8h0M198.8 190.2h0M199.8 141.2h0M200.0 145.6h0M199.9 149.4h0M200.0 152.7h0M199.9 156.1h0M200.3 158.8h0M200.0 161.0h0M200.2 165.5h0M200.2 168.6h0M200.1 173.5h0M200.5 177.0h0M201.8 167.9h0M201.8 172.7h0M201.3 176.0h0M201.5 179.5h0M201.3 184.0h0M201.5 187.5h0M201.3 191.9h0M204.3 179.4h0M204.0 174.2h0M204.3 168.8h0M204.2 165.5h0M203.8 162.3h0M204.0 159.7h0M205.1 212.3h0M205.3 207.2h0M205.2 205.1h0M205.1 201.4h0M205.1 196.5h0M205.4 192.9h0M205.1 189.3h0M205.4 185.5h0M205.3 181.2h0M204.8 177.8h0M205.2 173.4h0M205.3 168.7h0M204.9 166.3h0M205.4 164.0h0M204.9 161.7h0M205.2 157.0h0M205.3 154.8h0M205.1 150.3h0M205.3 148.1h0M205.2 144.7h0M205.2 141.7h0M207.5 162.5h0M207.8 165.6h0M208.1 167.7h0M207.7 170.6h0M207.7 173.7h0M208.0 178.7h0M208.0 182.5h0M207.9 184.7h0M208.3 189.7h0M208.0 194.7h0M207.9 197.4h0M208.2 201.3h0M208.4 204.7h0M210.0 198.4h0M209.9 193.6h0M210.2 188.4h0M210.1 186.2h0M210.1 182.4h0M210.1 178.4h0M210.4 175.4h0M210.4 172.4h0M210.3 167.6h0M210.6 164.0h0M210.3 163.5h0M212.3 140.1h0M211.9 144.3h0M211.9 149.4h0M211.9 153.4h0M212.1 158.7h0M212.0 163.5h0M212.1 167.8h0M211.7 170.9h0M211.6 175.8h0M211.6 181.0h0M211.5 183.4h0M212.1 188.1h0M211.8 191.6h0M211.9 194.5h0M211.4 198.9h0M211.7 201.1h0M211.8 203.2h0M211.3 206.2h0M211.5 206.3h0M213.2 184.7h0M213.4 179.5h0M213.3 174.6h0M213.9 169.8h0M213.2 166.4h0M213.6 163.1h0M213.6 160.3h0M213.5 158.0h0M213.5 153.4h0M213.3 149.0h0M213.6 144.9h0M216.6 192.7h0M216.4 187.4h0M216.3 184.4h0M216.5 179.8h0M216.3 174.5h0M216.9 170.9h0M216.7 166.8h0M216.5 164.5h0M217.0 161.5h0M216.6 156.5h0M216.6 151.3h0M217.3 147.2h0M217.0 144.8h0M217.2 164.9h0M217.5 168.1h0M217.7 171.0h0M217.8 173.6h0M217.3 176.6h0M217.4 180.6h0M217.9 184.5h0M217.8 185.9h0M219.3 161.3h0M219.2 159.0h0M219.0 156.5h0M218.6 153.3h0M218.4 150.3h0M221.6 156.3h0M221.4 153.1h0M221.0 148.1h0M220.6 145.5h0M220.7 140.9h0M223.7 162.2h0M223.7 159.8h0M223.7 157.2h0M223.6 153.4h0M223.6 150.7h0M223.4 148.0h0M224.0 145.2h0M224.0 141.4h0M224.0 139.4h0M223.9 135.7h0M223.8 131.7h0M223.9 128.9h0M223.5 126.3h0M223.6 124.2h0M223.5 120.4h0M223.4 115.3h0M223.7 112.0h0M224.3 168.1h0M223.8 163.6h0M224.2 160.8h0M223.8 155.3h0M224.3 151.2h0M224.1 146.3h0M224.2 141.5h0M223.9 136.3h0M224.2 131.0h0M224.0 127.5h0M224.2 126.1h0M225.6 127.3h0M225.8 130.5h0M226.2 132.8h0M227.0 142.4h0M226.9 136.9h0M226.6 133.3h0M226.9 128.5h0M226.7 123.9h0M226.6 121.2h0M226.7 116.2h0M226.7 113.9h0M226.2 110.7h0M226.6 105.3h0M226.2 100.7h0M226.4 99.0h0M227.6 125.0h0M228.3 129.9h0M228.2 130.3h0M229.6 171.7h0M229.4 166.7h0M229.6 161.3h0M229.5 156.0h0M230.0 150.6h0M230.1 147.7h0M229.7 144.9h0M229.8 141.3h0M230.0 138.9h0M231.4 138.1h0M231.5 141.5h0M231.4 146.2h0M231.6 151.5h0M231.1 154.9h0M231.6 159.2h0M231.5 162.4h0M231.7 167.3h0M231.5 169.4h0M231.2 171.4h0M231.5 176.3h0M231.6 178.8h0M232.0 203.8h0M232.3 200.6h0M231.8 196.4h0M231.9 196.1h0M234.2 194.9h0M234.5 190.6h0M234.5 188.2h0M234.6 186.1h0M234.2 183.4h0M234.3 178.1h0M234.7 175.3h0M234.8 171.1h0M234.5 167.8h0M234.6 162.4h0M234.4 157.0h0M234.6 154.0h0M236.6 218.2h0M237.3 215.6h0M237.2 212.0h0M236.9 209.1h0M237.0 206.8h0M237.0 201.8h0M237.3 198.4h0M237.1 193.3h0M237.1 191.0h0M237.3 187.5h0M237.1 184.2h0M236.9 180.0h0M237.1 176.2h0M237.0 171.0h0M237.3 167.7h0M237.2 165.5h0M237.0 161.1h0M237.2 157.6h0M237.2 152.5h0M237.0 150.0h0M239.2 207.6h0M239.6 202.3h0M239.4 199.8h0M239.0 195.8h0M239.4 192.4h0M239.0 188.1h0M239.1 185.7h0M241.2 225.9h0M241.4 220.5h0M241.4 215.7h0M241.6 212.3h0M241.5 207.8h0M241.1 204.9h0M241.6 200.9h0M241.2 196.1h0M241.4 193.6h0M241.1 188.5h0M241.1 183.9h0M241.1 180.8h0M241.3 177.8h0M241.4 174.5h0M241.4 189.1h0M241.0 194.4h0M241.0 197.5h0M241.0 198.3h0M242.5 207.4h0M242.4 202.1h0M242.8 199.3h0M242.7 195.8h0M242.7 191.5h0M242.2 188.4h0M242.4 183.8h0M242.5 179.8h0M242.3 175.2h0M242.7 171.9h0M242.2 168.1h0M242.4 165.8h0M243.9 195.4h0M244.7 190.6h0M247.5 195.0h0M246.9 197.9h0M247.1 200.2h0M247.1 204.8h0M246.9 206.3h0M248.8 174.1h0M249.0 178.3h0M248.6 182.6h0M248.2 187.3h0M248.2 188.7h0M250.4 167.1h0M250.3 171.9h0M250.6 174.6h0M250.3 178.4h0M250.5 182.8h0M250.2 184.8h0M253.1 188.5h0M253.2 184.7h0M252.7 180.4h0M252.6 177.0h0M252.6 174.0h0M252.3 173.7h0M255.2 172.9h0M254.8 177.6h0M254.5 181.9h0M257.9 170.5h0M258.1 174.7h0M261.0 164.4h0M260.2 168.7h0M264.2 159.2h0M264.5 163.3h0M264.1 165.4h0M266.5 171.1h0M267.0 166.8h0M266.3 162.0h0M266.3 159.1h0M269.0 166.3h0M269.4 164.3h0M269.4 161.8h0M269.8 159.8h0M272.3 169.1h0M272.3 167.0h0M271.9 164.6h0M272.0 160.4h0M272.2 157.2h0M272.1 156.2h0M273.8 169.3h0M273.5 174.2h0M273.6 176.3h0M273.3 178.4h0M273.0 181.9h0M273.3 186.1h0M273.0 190.1h0M273.0 190.5h0M275.1 136.6h0M274.8 142.1h0M274.4 146.2h0M274.7 159.5h0M274.8 155.8h0M275.3 152.2h0M275.2 147.7h0M275.1 144.5h0M275.3 141.1h0M275.7 138.5h0M275.6 134.7h0M275.8 132.0h0M275.6 129.3h0M276.0 125.3h0M275.9 123.0h0M276.8 166.6h0M276.8 171.1h0M276.6 173.3h0M277.1 175.4h0M277.1 179.9h0M277.1 182.8h0M277.3 185.1h0M277.4 144.8h0M277.4 146.9h0M277.9 150.1h0M277.7 155.0h0M277.5 157.3h0M278.1 159.9h0M278.3 163.5h0M278.3 168.7h0M278.4 172.4h0M277.9 174.8h0M278.3 178.8h0M278.2 181.5h0M278.7 183.6h0M278.4 185.4h0M279.1 165.2h0M279.2 169.7h0M279.7 174.6h0M279.2 177.1h0M279.7 179.8h0M279.4 183.1h0M280.1 188.0h0M280.0 191.6h0M280.8 183.9h0M280.8 181.6h0M281.3 177.4h0M281.3 173.7h0M281.1 171.0h0M281.3 165.8h0M281.6 163.5h0M281.5 163.1h0M282.7 225.1h0M282.8 220.9h0M282.3 217.3h0M282.3 212.8h0M282.5 209.1h0M282.7 204.8h0M282.7 201.9h0M282.6 201.3h0M283.4 230.3h0M282.7 226.2h0M283.4 223.4h0M282.9 220.6h0M283.2 215.8h0M283.0 211.6h0M282.6 209.5h0M283.0 204.0h0M282.4 201.9h0M283.0 199.1h0M282.8 196.3h0M282.7 191.0h0M282.4 185.8h0M282.2 183.3h0M282.2 178.6h0M282.5 175.9h0M283.7 165.6h0M283.4 168.2h0M283.6 170.5h0M283.7 175.6h0M283.6 177.7h0M283.5 181.6h0M283.4 185.4h0M283.4 189.4h0M282.9 191.7h0M283.0 195.6h0M282.8 199.0h0M282.8 203.6h0M283.3 208.5h0M282.8 212.1h0M282.8 216.4h0M282.7 219.9h0M282.9 225.3h0M282.9 226.3h0M284.8 211.1h0M284.4 206.1h0M284.6 202.9h0M284.7 198.2h0M285.0 195.6h0M286.1 165.3h0M286.2 167.6h0M286.6 172.0h0M286.6 175.8h0M286.7 179.2h0M287.0 183.5h0M287.0 188.1h0M287.1 193.3h0M286.9 195.5h0M287.7 231.0h0M287.8 227.5h0M287.9 224.9h0M287.7 221.3h0M287.5 218.4h0M287.5 215.2h0M287.6 212.9h0M287.8 207.4h0M287.9 202.2h0M288.1 197.3h0M287.7 192.6h0M287.8 192.5h0M288.1 217.7h0M288.1 212.6h0M287.7 209.4h0M287.5 209.2h0M290.0 168.8h0M290.3 171.1h0M290.2 174.2h0M290.2 177.5h0M290.0 182.9h0M290.4 186.8h0M290.6 190.6h0M290.6 194.1h0M290.7 198.5h0M290.2 200.8h0M290.7 203.8h0M290.3 205.8h0M290.9 210.4h0M290.6 212.5h0M292.2 199.0h0M292.4 194.4h0M292.1 191.5h0M292.5 189.4h0M292.2 186.7h0M292.4 184.0h0M293.7 162.6h0M293.8 166.7h0M293.3 169.8h0M293.3 172.0h0M293.4 175.3h0M293.7 177.6h0M293.8 183.0h0M293.9 186.0h0M293.5 188.6h0M293.7 191.7h0M293.7 196.1h0M293.8 200.0h0M295.3 208.6h0M295.1 203.7h0M295.4 198.8h0M295.8 193.8h0M295.6 189.4h0M295.5 187.4h0M295.6 182.2h0M296.0 177.9h0M295.8 173.6h0M295.8 171.1h0M296.0 165.7h0M296.2 164.2h0M296.2 198.0h0M296.7 200.1h0M296.7 202.5h0M296.4 205.8h0M296.4 208.3h0M296.0 211.2h0M296.0 214.6h0M298.0 225.9h0M297.7 222.9h0M297.5 218.2h0M297.5 215.5h0M297.6 212.2h0M297.6 208.0h0M297.2 202.9h0M297.7 198.6h0M297.1 195.8h0M297.2 192.2h0M297.5 188.6h0M297.1 186.3h0M297.3 183.9h0M298.1 201.2h0M297.8 198.8h0M298.0 195.6h0M298.0 190.3h0M297.8 188.0h0M298.0 183.4h0M298.2 178.4h0M297.5 173.4h0M297.8 168.1h0M297.5 165.2h0M297.5 160.2h0M297.5 157.9h0M297.6 157.9h0M299.4 189.5h0M299.8 185.9h0M300.2 183.2h0M300.1 182.6h0M300.8 200.1h0M300.7 197.4h0M301.4 193.2h0M301.5 191.1h0M301.7 188.3h0M302.4 153.6h0M302.5 157.7h0M302.5 160.2h0M302.4 165.5h0M302.0 170.5h0M301.8 175.7h0M302.0 178.5h0M302.0 179.4h0M303.3 170.0h0M303.3 166.5h0M303.7 163.8h0M303.8 159.8h0M303.5 156.4h0M303.7 154.3h0M303.3 151.5h0M303.6 147.7h0M303.6 144.0h0M303.0 139.8h0M302.9 134.9h0M303.1 131.8h0M305.2 179.7h0M304.8 176.5h0M305.0 173.3h0M304.7 171.3h0M305.0 168.7h0M304.8 166.7h0M304.7 163.8h0M304.8 159.8h0M304.4 157.3h0M304.9 154.9h0M304.3 152.4h0M304.6 148.6h0M304.1 143.5h0M304.4 143.1h0M306.2 171.6h0M306.5 168.2h0M306.6 163.8h0M306.2 158.5h0M306.4 156.8h0M309.2 168.8h0M308.5 166.5h0M308.6 163.5h0M308.8 158.1h0M308.5 154.6h0M308.5 149.6h0M308.2 145.3h0M307.9 142.9h0M308.1 142.6h0M311.0 133.8h0M310.6 139.2h0M311.1 141.5h0M310.7 145.4h0M310.8 149.9h0M310.9 152.7h0M311.2 156.5h0M311.2 158.8h0M311.1 163.0h0M311.4 167.3h0M311.2 169.4h0M311.4 173.7h0M311.1 178.0h0M311.3 179.3h0M313.4 128.0h0M313.2 133.4h0M313.7 136.8h0M313.1 141.9h0M313.2 146.5h0M313.5 150.8h0M313.1 153.3h0M313.1 156.0h0M313.0 158.2h0M313.1 161.6h0M313.2 163.8h0M313.2 169.1h0M313.3 172.4h0M312.9 175.9h0M312.7 179.6h0M312.8 184.0h0M313.3 187.3h0M313.2 192.0h0M312.9 195.0h0M316.1 135.5h0M316.0 138.2h0M315.6 141.2h0M315.9 146.1h0M316.1 151.1h0M315.7 155.1h0M315.9 157.2h0M315.8 161.7h0M315.6 164.0h0M316.1 166.6h0M315.8 168.6h0M316.1 171.5h0M315.7 177.0h0M316.3 179.4h0M315.8 184.8h0M316.1 187.9h0M316.1 191.1h0M316.0 194.7h0M315.9 196.9h0M316.1 197.8h0M317.5 192.6h0M317.6 189.7h0M317.3 185.1h0M317.2 181.4h0M317.5 176.1h0M317.2 174.0h0M317.4 169.5h0M317.3 165.0h0M317.8 160.2h0M317.6 157.9h0M317.7 155.2h0M317.8 150.4h0M317.3 147.6h0M317.7 143.3h0M317.6 143.1h0M318.0 171.2h0M318.1 167.0h0M318.3 164.1h0M318.5 160.2h0M318.5 158.1h0M318.3 155.3h0M318.6 151.1h0M318.4 148.1h0M319.8 141.1h0M319.7 145.5h0M319.7 148.0h0M320.0 152.7h0M320.1 157.2h0M319.5 162.0h0M319.8 165.1h0M319.7 167.3h0M319.3 169.6h0M319.3 173.4h0M319.4 178.3h0M321.1 156.3h0M321.3 158.7h0M321.2 162.6h0M321.3 167.1h0M321.0 171.8h0M321.2 174.0h0M321.1 177.7h0M321.0 182.1h0M321.2 185.2h0M321.2 187.8h0M322.0 125.0h0M322.3 130.2h0M321.7 134.4h0M322.0 138.0h0M321.6 141.0h0M322.2 146.4h0M321.9 148.9h0M321.8 153.0h0M322.1 155.3h0M321.8 160.0h0M321.8 162.3h0M322.2 164.6h0M321.7 166.8h0M321.6 171.5h0M321.5 173.8h0M321.8 176.4h0M321.6 181.3h0M322.0 183.9h0M321.8 187.2h0M322.7 155.8h0M322.3 150.4h0M322.5 147.5h0M322.2 145.3h0M325.9 159.4h0M325.5 163.6h0M325.7 167.2h0M325.3 171.8h0M325.9 174.4h0M325.8 176.8h0M325.6 177.9h0M327.9 196.2h0M327.6 190.7h0M327.6 185.7h0M327.9 183.1h0M327.5 179.9h0M327.9 176.5h0M327.7 171.4h0M327.8 169.4h0M327.8 165.3h0M327.4 159.9h0M327.4 156.3h0M329.3 185.5h0M329.2 188.8h0M329.0 192.1h0M329.5 194.9h0M329.3 198.4h0M329.3 203.5h0M329.4 206.3h0M329.3 211.1h0M328.9 215.4h0M330.8 197.3h0M331.0 201.6h0M331.0 206.6h0M331.3 210.5h0M331.5 215.2h0M333.5 195.3h0M333.2 190.2h0M333.8 184.9h0M333.9 180.5h0M333.8 179.3h0M334.6 180.5h0M334.8 183.7h0M334.9 188.5h0M334.5 191.2h0M334.3 194.1h0M334.3 197.2h0M334.5 202.0h0M334.4 204.3h0M334.5 208.9h0M334.7 211.5h0M335.5 233.3h0M335.3 230.2h0M335.3 225.1h0M335.6 219.9h0M335.7 216.8h0M335.2 212.8h0M335.8 208.8h0M335.6 205.0h0M335.9 201.5h0M335.5 197.2h0M335.7 194.7h0M336.4 234.2h0M336.6 231.7h0M336.4 229.6h0M336.5 226.1h0M336.1 222.6h0M336.7 218.8h0M336.4 214.0h0M336.7 211.2h0M336.4 206.4h0M337.0 201.3h0M336.6 197.8h0M337.0 193.3h0M336.6 190.6h0M337.0 187.5h0M336.9 184.8h0M337.0 181.0h0M337.2 178.5h0M337.0 173.0h0M336.8 168.3h0M337.1 163.1h0M337.1 160.0h0M338.4 185.6h0M337.7 188.3h0M338.3 192.0h0M338.3 197.2h0M338.3 201.0h0M337.7 204.9h0M338.1 209.2h0M337.9 212.6h0M337.8 214.5h0M339.7 214.8h0M339.4 211.2h0M339.6 209.1h0M339.8 204.6h0M339.5 201.8h0M339.4 198.0h0M339.9 193.9h0M339.7 191.2h0M339.8 186.7h0M339.7 182.2h0M339.6 180.9h0M340.7 166.3h0M341.1 171.6h0M340.8 173.9h0M341.3 178.7h0M341.2 181.2h0M341.6 185.4h0M341.5 188.6h0M341.1 191.4h0M341.3 194.0h0M341.3 198.2h0M341.3 200.7h0M341.3 203.0h0M341.5 206.1h0M341.5 208.8h0M341.9 212.3h0M341.9 216.0h0M341.5 219.7h0M341.5 223.7h0M341.4 226.3h0M342.1 230.8h0M341.8 233.2h0M341.5 243.5h0M341.5 239.1h0M341.8 236.5h0M341.2 232.5h0M341.7 227.6h0M341.6 224.3h0M341.5 219.1h0M341.4 215.6h0M341.6 211.7h0M341.8 207.1h0M341.4 204.6h0M341.5 200.4h0M343.2 179.1h0M343.5 182.3h0M343.2 183.3h0M345.0 229.4h0M345.3 224.3h0M344.9 222.2h0M344.9 218.5h0M345.1 215.2h0M344.8 212.0h0M344.7 209.6h0M345.5 171.4h0M345.7 174.8h0M345.4 179.6h0M345.5 182.8h0M345.9 186.1h0M345.4 190.0h0M345.8 193.2h0M345.7 195.7h0M345.4 197.8h0M345.8 200.0h0M345.4 202.5h0M345.4 204.7h0M345.7 209.3h0M345.9 214.5h0M345.9 218.4h0M345.9 220.7h0M345.3 224.2h0M345.8 228.9h0M345.6 231.0h0M346.5 213.6h0M346.7 209.5h0M346.1 207.3h0M346.1 204.9h0M346.6 200.4h0M346.3 198.0h0M346.6 195.4h0M346.9 191.0h0M347.0 187.8h0M346.6 184.3h0M346.6 181.4h0M347.2 176.0h0M346.7 171.5h0M346.7 168.9h0M347.0 167.9h0M348.1 176.0h0M347.6 180.4h0M348.1 183.9h0M347.8 187.9h0M347.7 193.0h0M347.5 196.2h0M347.7 201.5h0M347.4 206.7h0M347.3 208.0h0M350.2 191.7h0M350.2 189.7h0M349.9 184.9h0M350.1 182.9h0M350.0 179.4h0M349.8 177.3h0M351.6 165.7h0M351.5 171.0h0M351.1 175.2h0M351.0 178.5h0M351.3 183.7h0M351.1 186.5h0M353.1 150.3h0M353.2 153.4h0M353.1 156.4h0M353.4 158.9h0M353.0 162.6h0M353.0 167.8h0M353.5 173.1h0M353.6 175.6h0M353.8 179.6h0M353.5 183.7h0M353.4 189.0h0M353.5 193.7h0M353.5 196.6h0M353.8 198.2h0M355.8 201.3h0M356.1 196.8h0M356.0 194.4h0M355.9 189.9h0M355.9 185.6h0M356.4 182.3h0M356.5 177.0h0M356.2 173.5h0M356.4 168.7h0M356.5 165.1h0M356.5 161.7h0M356.0 158.0h0M356.0 153.4h0M356.0 149.0h0M356.4 143.6h0M356.1 139.0h0M356.4 136.0h0M358.5 181.8h0M358.2 179.6h0M358.4 177.3h0M357.7 172.2h0M357.9 168.6h0M358.0 164.1h0M357.8 161.0h0M360.2 127.9h0M359.7 132.8h0M359.9 132.9h0M362.2 124.9h0M362.4 130.2h0M362.2 134.9h0M362.2 140.1h0M362.4 145.3h0M362.5 150.7h0M362.3 154.9h0M362.2 159.9h0M362.5 162.2h0M362.3 167.1h0M362.0 171.7h0M362.4 175.3h0M362.4 180.7h0M362.1 181.1h0M364.3 138.9h0M364.2 141.5h0M364.4 145.1h0M364.4 148.1h0M364.5 152.0h0M365.0 108.6h0M365.2 113.7h0M365.7 119.0h0M365.4 121.5h0M365.3 126.9h0M365.2 130.8h0M365.2 132.9h0M365.2 135.4h0M365.4 139.6h0M365.5 144.9h0M365.7 148.2h0M365.5 152.4h0M365.6 157.4h0M365.4 159.4h0M367.4 116.8h0M367.4 119.6h0M366.7 121.9h0M366.8 125.8h0M366.7 129.6h0M367.1 134.5h0M367.2 138.9h0M367.0 144.4h0M366.4 148.9h0M366.7 151.0h0M366.8 152.9h0M368.1 153.8h0M368.7 150.3h0M368.7 146.3h0M368.3 144.2h0M368.7 141.6h0M368.8 139.2h0M368.8 136.3h0M368.4 132.5h0M368.5 127.1h0M368.2 122.7h0M368.9 117.8h0M368.7 115.4h0M368.6 114.2h0M369.9 151.3h0M370.0 145.9h0M369.6 144.7h0M370.0 96.8h0M370.3 101.3h0M370.5 104.6h0M370.0 107.5h0M370.0 110.0h0M370.5 114.1h0M370.3 116.7h0M370.4 120.7h0M370.4 124.1h0M370.1 126.2h0M370.2 129.7h0M370.2 134.3h0M370.3 139.2h0M370.5 141.5h0M370.5 142.5h0M371.0 153.7h0M371.5 149.3h0M371.3 145.7h0M371.5 140.5h0M371.1 137.9h0M371.3 135.6h0M371.6 133.3h0M371.4 129.8h0M371.8 126.0h0M371.3 123.1h0M371.5 120.1h0M371.8 114.9h0M371.5 111.4h0M371.7 110.3h0M373.7 149.1h0M373.8 146.6h0M373.7 144.4h0M373.5 141.2h0M374.0 136.6h0M373.7 132.8h0M374.0 128.5h0M373.8 124.2h0M373.8 119.0h0M374.2 116.2h0M374.3 115.0h0M376.3 147.0h0M375.9 143.8h0M375.9 139.5h0M376.2 136.1h0M375.9 132.5h0M376.2 130.3h0M376.5 124.8h0M376.2 122.5h0M376.0 118.8h0M376.2 114.4h0M376.1 109.6h0M376.5 104.3h0M376.3 102.7h0M376.4 150.9h0M376.8 146.5h0M377.0 142.5h0M376.8 140.3h0M376.4 135.5h0M376.4 132.4h0M376.8 128.4h0M376.7 125.8h0M379.6 140.0h0M379.7 143.0h0M379.0 146.5h0M379.5 148.9h0M379.4 153.9h0M379.6 156.4h0M379.0 160.9h0M379.4 164.3h0M379.0 166.3h0M379.5 169.5h0M379.1 175.0h0M379.4 180.2h0M379.3 185.2h0M379.3 190.6h0M379.2 195.9h0M379.2 197.8h0M380.6 142.0h0M380.7 145.3h0M380.5 149.4h0M380.7 152.3h0M380.7 156.1h0M380.5 160.4h0M380.6 164.3h0M380.9 169.0h0M380.7 173.7h0M381.0 176.6h0M380.6 180.4h0M380.7 183.4h0M380.9 187.9h0M380.9 191.5h0M380.7 194.3h0M380.6 197.5h0M380.9 200.8h0M380.5 205.4h0M380.9 208.2h0M380.8 212.5h0M380.8 216.7h0M380.4 219.7h0M380.4 222.9h0M380.7 228.3h0M381.0 232.6h0M380.7 233.2h0M380.9 231.0h0M381.3 226.2h0M381.1 222.5h0M381.1 219.6h0M381.4 215.1h0M381.4 210.1h0M381.0 206.6h0M381.4 203.5h0M380.8 200.8h0M381.3 197.8h0M380.9 192.9h0M381.3 187.9h0M380.8 184.4h0M380.9 179.7h0M381.2 177.3h0M380.9 173.7h0M380.9 170.1h0M382.5 181.1h0M381.9 177.7h0M382.0 174.4h0M381.7 173.4h0M384.3 158.7h0M384.6 160.8h0M384.3 164.9h0M384.8 167.6h0M384.3 172.8h0M384.6 176.8h0M384.2 180.0h0M384.7 183.1h0M384.6 187.2h0M384.4 189.6h0M384.5 192.7h0M384.9 196.0h0M384.9 198.4h0M384.9 201.2h0M384.7 204.1h0M384.3 207.4h0M384.9 212.2h0M384.9 215.1h0M385.0 218.8h0M384.6 221.0h0M384.8 223.8h0M384.7 225.9h0M384.8 181.2h0M384.6 186.0h0M385.1 189.0h0M385.3 192.5h0M384.9 194.8h0M384.6 197.6h0M384.6 199.9h0M384.9 203.2h0M384.8 207.0h0M385.0 211.4h0M384.7 216.9h0M385.0 220.6h0M385.2 223.9h0M385.2 226.7h0M384.9 229.9h0M385.0 234.1h0M384.7 237.1h0M385.0 242.0h0M386.3 231.4h0M386.0 227.6h0M386.3 224.4h0M386.0 221.2h0M385.9 215.9h0M385.8 212.5h0M386.1 208.2h0M385.9 204.6h0M386.1 201.8h0M386.1 198.2h0M386.0 194.9h0M385.6 192.8h0M385.9 187.4h0M385.7 183.0h0M385.5 179.4h0M385.8 176.8h0M385.5 172.4h0M385.4 168.1h0M385.3 164.0h0M385.4 160.2h0M385.2 156.2h0M385.5 153.1h0M386.9 176.8h0M387.0 181.1h0M387.1 185.3h0M386.7 189.3h0M387.1 192.8h0M387.0 196.8h0M386.7 200.1h0M386.9 205.5h0M386.4 209.8h0M386.3 213.9h0M386.9 219.2h0M386.3 223.7h0M386.2 228.7h0M386.4 233.6h0M386.3 235.5h0M388.4 189.0h0M388.1 193.4h0M387.9 198.4h0M388.0 203.5h0M388.0 205.6h0M387.8 207.9h0M387.8 212.0h0M387.9 214.6h0M388.3 217.6h0M388.3 222.7h0M388.0 228.2h0M388.0 230.5h0M389.6 230.9h0M389.3 226.3h0M389.9 224.0h0M389.7 220.0h0M389.5 215.0h0M389.8 210.6h0M389.9 205.8h0M390.4 203.1h0M390.3 200.2h0M390.2 197.0h0M390.6 220.9h0M390.5 218.1h0M390.6 212.8h0M390.8 209.0h0M390.9 206.9h0M391.1 202.3h0M390.6 199.0h0M391.0 195.8h0M390.8 191.5h0M390.7 187.7h0M391.0 182.5h0M391.0 181.6h0M391.7 178.6h0M391.7 181.9h0M391.3 184.2h0M391.3 188.4h0M391.3 191.8h0M391.1 194.5h0M391.3 196.5h0M391.3 199.4h0M391.0 199.9h0M393.4 170.4h0M393.6 175.1h0M394.0 180.1h0M394.1 184.5h0M393.9 186.9h0M395.0 160.9h0M395.3 163.2h0M395.2 167.0h0M395.8 169.8h0M395.4 173.1h0M395.7 175.8h0M395.7 178.5h0M395.8 182.3h0M396.2 186.1h0M396.3 188.2h0M396.1 189.2h0M397.5 218.8h0M397.3 214.9h0M397.4 210.1h0M397.3 205.6h0M397.7 201.6h0M397.6 198.3h0M397.7 196.1h0M397.4 191.6h0M397.8 187.7h0M397.9 185.4h0M397.4 180.3h0M397.5 177.4h0M397.5 174.6h0M397.6 170.8h0M397.8 167.8h0M398.1 164.5h0M397.9 161.3h0M397.5 240.6h0M397.5 237.4h0M397.9 233.0h0M397.5 227.5h0M397.9 225.4h0M398.0 222.0h0M397.5 218.6h0M397.9 216.3h0M397.5 212.5h0M397.7 209.0h0M397.5 204.1h0M397.4 201.5h0M397.4 196.4h0M397.5 192.0h0M397.4 188.4h0M397.4 185.6h0M397.0 180.5h0M397.3 178.7h0M398.1 187.2h0M398.7 191.4h0M398.8 196.4h0M398.8 198.8h0M399.4 203.3h0M399.3 204.7h0M399.8 163.0h0M399.6 165.1h0M399.7 168.2h0M399.4 171.4h0M399.6 175.8h0M399.6 180.5h0M400.0 184.4h0M400.0 186.8h0M400.1 189.1h0M400.0 191.2h0M399.6 194.5h0M399.9 197.8h0M399.6 201.3h0M399.8 205.1h0M399.8 210.5h0M399.9 211.4h0M401.1 182.4h0M401.6 178.2h0M401.6 174.8h0M401.3 171.8h0M401.6 169.7h0M401.6 164.6h0M402.1 161.1h0M401.7 158.1h0M402.0 156.5h0M403.0 164.8h0M403.1 162.0h0M403.0 158.5h0M403.6 156.0h0M404.0 135.9h0M403.6 140.4h0M403.6 145.6h0M404.0 148.7h0M403.7 150.8h0M403.8 153.2h0M403.5 155.3h0M403.5 158.0h0M403.5 160.4h0M403.5 164.2h0M403.7 169.0h0M403.5 171.9h0M403.3 176.9h0M403.4 181.5h0M403.5 186.8h0M403.8 190.9h0M403.3 193.2h0M403.6 196.3h0M406.8 147.1h0M406.9 150.8h0M407.0 154.4h0M407.2 158.4h0M407.4 160.6h0M410.5 139.5h0M409.5 143.3h0M409.5 144.2h0M413.1 161.2h0M412.8 164.5h0M412.8 169.6h0M413.2 175.0h0M413.2 180.5h0M412.9 183.1h0M416.1 142.2h0M416.5 147.7h0M416.5 152.5h0M416.5 153.4h0M416.6 93.0h0M416.5 97.2h0M416.9 100.8h0M416.8 103.1h0M416.6 105.5h0M416.7 109.8h0M416.3 111.9h0M416.4 117.3h0M416.4 120.7h0M416.6 125.2h0M416.3 129.5h0M416.3 133.5h0M416.6 136.1h0M416.2 139.7h0M418.7 153.3h0M418.7 158.2h0M419.2 162.8h0M419.5 168.1h0M419.2 173.2h0M419.5 178.0h0M419.6 179.9h0M421.2 154.9h0M421.3 149.9h0M421.0 147.3h0M421.2 143.3h0M421.2 140.2h0M421.5 138.3h0M422.5 161.1h0M422.4 164.2h0M421.8 167.3h0M421.5 170.7h0M421.7 173.9h0M424.0 164.6h0M423.3 161.3h0M423.2 155.9h0M423.0 153.1h0M423.4 150.7h0M423.1 146.7h0M422.8 143.8h0M422.9 141.5h0M425.6 193.8h0M425.6 191.3h0M425.5 189.3h0M425.6 184.4h0M425.8 180.5h0M425.6 178.0h0M425.6 175.0h0M425.8 172.4h0M426.0 168.4h0M425.9 164.2h0M426.2 158.9h0M425.9 154.9h0M426.0 149.7h0M426.0 147.3h0M426.2 144.4h0M428.2 134.9h0M428.3 140.2h0M428.1 143.7h0M428.0 148.4h0M428.2 150.8h0M428.0 155.6h0M428.4 160.0h0M427.9 162.5h0M428.1 166.2h0M428.5 171.5h0M428.4 175.1h0M428.0 179.3h0M428.0 184.7h0M428.2 186.9h0M428.2 189.0h0M428.6 192.5h0M428.5 195.9h0M428.4 200.6h0M428.2 203.5h0M428.3 204.9h0M429.5 198.5h0M429.6 195.3h0M429.4 189.8h0M429.3 186.7h0M429.3 184.3h0M429.9 180.9h0M430.0 176.4h0M429.8 171.5h0M429.4 167.5h0M429.8 165.3h0M432.4 196.7h0M432.7 192.8h0M432.7 189.1h0M432.9 186.7h0M432.9 181.9h0M432.9 179.5h0M433.2 174.5h0M432.6 169.8h0M432.9 165.3h0M434.4 162.1h0M434.4 167.0h0M434.1 169.9h0M433.9 173.2h0M434.1 177.8h0M434.0 181.0h0M434.0 186.3h0M433.9 191.5h0M433.5 196.9h0M433.8 200.5h0M434.1 205.1h0M433.7 205.4h0M435.9 182.1h0M436.3 177.7h0M436.1 175.8h0M436.8 216.3h0M436.9 211.5h0M437.5 207.2h0M437.2 204.4h0M437.4 201.6h0M437.4 197.8h0M437.4 194.6h0M437.6 189.3h0M437.3 183.9h0M437.5 180.1h0M437.8 176.9h0M437.6 174.3h0M438.0 169.6h0M437.5 167.5h0M438.0 163.8h0M438.0 161.2h0M437.8 157.9h0M437.8 155.5h0M438.3 218.1h0M438.4 215.6h0M438.5 211.1h0M438.7 208.7h0M438.2 204.9h0M438.7 200.1h0M438.7 197.3h0M438.2 192.5h0M438.6 190.5h0M438.1 185.6h0M438.5 180.9h0M438.6 176.7h0M438.2 171.2h0M438.6 166.3h0M438.4 163.2h0M438.5 158.8h0M438.2 155.0h0M440.5 220.6h0M440.7 218.1h0M440.2 213.0h0M440.5 208.6h0M440.5 206.2h0M440.2 201.5h0M440.1 199.1h0M440.2 194.4h0M440.0 189.6h0M440.1 187.2h0M439.9 182.1h0M440.3 179.9h0M440.3 177.5h0M440.0 175.3h0M440.4 170.9h0M440.0 167.5h0M440.0 165.4h0M440.2 162.5h0M440.2 158.0h0M440.0 154.6h0M441.3 163.7h0M441.0 166.7h0M440.6 171.3h0M440.7 173.6h0M443.5 187.8h0M443.5 184.1h0M444.2 178.9h0M444.1 175.8h0M444.0 182.4h0M444.0 185.3h0M444.5 189.1h0M444.3 191.7h0M444.4 197.1h0M444.7 200.5h0M444.4 205.6h0M444.7 208.0h0M444.9 212.6h0M444.6 216.9h0M444.6 220.7h0M444.8 224.3h0M444.9 227.4h0M445.1 158.2h0M445.0 163.6h0M445.4 168.8h0M445.3 173.8h0M445.1 179.3h0M445.7 184.3h0M445.8 187.6h0M445.8 190.3h0M445.6 194.0h0M445.9 196.7h0M445.5 201.2h0M445.6 206.6h0M445.8 210.0h0M445.9 213.9h0M446.8 165.3h0M446.5 168.6h0M446.8 170.9h0M446.8 174.9h0M446.9 180.3h0M446.9 183.6h0M447.3 186.2h0M447.1 190.2h0M447.0 193.7h0M447.2 196.8h0M447.6 200.4h0M447.1 204.4h0M447.1 206.5h0M447.6 209.8h0M447.3 214.9h0M447.5 217.3h0M447.9 221.5h0M447.6 219.4h0M448.0 215.0h0M448.2 211.7h0M447.8 206.8h0M448.0 204.6h0M447.7 200.3h0M447.9 198.1h0M448.1 196.0h0M447.8 191.8h0M447.8 188.3h0M447.7 185.6h0M447.9 180.8h0M447.9 176.3h0M448.0 174.2h0M448.3 147.7h0M448.2 151.6h0M448.6 157.1h0M448.6 160.9h0M448.4 163.3h0M448.8 166.1h0M448.5 168.1h0M448.8 173.2h0M448.5 177.7h0M448.8 180.5h0M448.8 183.5h0M448.7 184.4h0M450.2 166.1h0M449.9 171.6h0M449.7 177.1h0M449.7 182.1h0M450.0 186.0h0M450.0 190.7h0M450.3 193.5h0M450.1 196.5h0M452.4 132.9h0M452.5 137.6h0M452.4 141.3h0M452.8 144.2h0M452.8 148.9h0M452.9 152.4h0M452.5 156.8h0M452.8 160.6h0M452.5 165.2h0M452.6 168.3h0M452.7 169.8h0M454.7 186.9h0M454.8 184.2h0M454.8 181.8h0M454.4 179.3h0M454.7 176.4h0M455.0 173.5h0M454.6 168.2h0M454.9 163.6h0M454.6 159.6h0M455.2 154.3h0M454.7 152.3h0M454.7 149.1h0M455.2 145.6h0M455.1 143.5h0M454.6 140.5h0M454.8 135.3h0M454.7 132.6h0M454.7 129.3h0M454.8 126.7h0M455.0 122.6h0M455.0 122.5h0M455.9 136.7h0M456.1 139.9h0M456.0 144.7h0M455.9 148.3h0M456.3 150.8h0M455.9 154.9h0M456.5 160.2h0M456.4 162.3h0M456.3 163.2h0M457.6 133.3h0M458.0 137.0h0M458.1 139.7h0M458.6 143.2h0M458.3 145.6h0M459.4 116.6h0M459.3 119.0h0M459.2 122.9h0M459.0 127.6h0M459.5 131.8h0M459.0 134.3h0M459.0 138.9h0M458.8 144.2h0M459.2 147.6h0M458.8 150.0h0M460.1 147.9h0M460.8 151.8h0M460.8 154.2h0M460.9 158.9h0M460.5 163.0h0M460.7 168.4h0M461.0 170.8h0M463.2 148.8h0M463.0 152.2h0M462.7 153.8h0M463.9 118.5h0M463.9 122.2h0M463.7 125.2h0M463.6 127.3h0M463.9 129.6h0M463.6 133.9h0M463.9 139.4h0M463.3 144.7h0M463.7 149.2h0M463.2 153.3h0M463.5 155.8h0M464.7 154.3h0M464.1 151.3h0M464.3 146.1h0M464.2 144.0h0M464.7 138.5h0M464.3 135.7h0M464.7 130.6h0M464.3 126.6h0M464.9 123.1h0M464.5 121.1h0M465.0 118.9h0M464.9 116.5h0M464.6 115.0h0M467.1 126.3h0M466.9 130.0h0M466.8 132.5h0M466.4 137.3h0M466.4 142.4h0M466.2 145.3h0M466.3 148.9h0M466.2 150.8h0M468.7 104.1h0M468.5 109.5h0M468.6 111.6h0M468.5 114.7h0M468.4 118.1h0M468.7 123.4h0M468.9 128.4h0M468.9 133.0h0M468.9 136.0h0M468.8 138.8h0M468.9 142.9h0M468.6 145.4h0M468.9 150.3h0M468.5 155.7h0M468.5 158.5h0M468.9 163.0h0M468.7 166.4h0M471.0 115.7h0M471.0 120.9h0M471.0 125.2h0M471.1 129.0h0M470.7 133.0h0M470.9 136.5h0M471.0 140.0h0M471.0 141.8h0M472.7 138.1h0M472.5 132.7h0M472.9 130.7h0M472.7 127.3h0M472.7 123.2h0M472.4 120.4h0M473.0 115.3h0M472.7 112.3h0M472.4 109.2h0M472.9 104.1h0M472.5 101.2h0M472.7 96.8h0M472.7 142.8h0M473.0 145.6h0M473.0 150.6h0M472.8 151.7h0M474.6 119.7h0M474.3 123.3h0M474.8 125.5h0M475.0 127.7h0M474.9 132.1h0M475.4 137.2h0M475.0 141.3h0M475.3 143.9h0M477.0 153.5h0M476.3 149.0h0M476.4 146.2h0M476.3 142.1h0M476.6 138.6h0M476.5 136.0h0M476.6 132.8h0M476.2 131.7h0" stroke="#ff0000" stroke-width="1.85" stroke-linecap="round" fill="none"/>
<path d="M82.80 147.60 L87.41 148.50 L92.01 184.50 L96.62 191.10 L101.22 220.80 L105.83 145.80 L119.64 188.90 L124.25 175.20 L128.85 161.10 L133.46 157.90 L138.07 206.00 L142.67 189.80 L147.28 219.00 L151.88 207.00 L156.49 230.60 L161.09 192.60 L165.70 206.70 L170.30 134.40 L174.91 32.00 L179.52 123.00 L184.12 168.50 L188.73 196.40 L193.33 197.00 L197.94 115.40 L202.54 209.00 L207.15 197.30 L211.75 185.00 L216.36 186.70 L220.96 146.10 L225.57 138.10 L230.18 204.40 L234.78 180.20 L243.99 207.00 L248.60 152.10 L253.20 163.00 L262.41 162.00 L267.02 155.40 L276.23 145.70 L280.84 204.00 L285.44 152.00 L290.05 160.50 L294.65 238.40 L299.26 203.10 L303.86 149.10 L308.47 126.00 L313.07 131.80 L317.68 192.60 L322.29 171.70 L326.89 177.00 L331.50 210.80 L336.10 231.30 L340.71 222.50 L345.31 202.00 L349.92 183.70 L354.52 160.10 L359.13 149.10 L363.74 98.00 L368.34 150.50 L372.95 110.70 L377.55 219.00 L382.16 204.70 L386.76 215.00 L391.37 191.10 L395.97 185.50 L400.58 173.20 L405.19 119.50 L409.79 161.50 L414.40 119.50 L419.00 128.90 L423.61 194.00 L428.21 188.40 L432.82 186.70 L437.42 214.50 L442.03 135.60 L446.63 203.50 L451.24 154.20 L455.85 134.70 L460.45 130.70 L465.06 157.90" stroke="#0000ff" stroke-width="1.5" fill="none" stroke-linejoin="round"/>
<path d="M82.80 145.80V149.40M79.10 145.80h7.4M79.10 149.40h7.4M87.41 145.40V151.60M83.71 145.40h7.4M83.71 151.60h7.4M92.01 181.55V187.45M88.31 181.55h7.4M88.31 187.45h7.4M96.62 189.08V193.12M92.92 189.08h7.4M92.92 193.12h7.4M101.22 218.34V223.26M97.52 218.34h7.4M97.52 223.26h7.4M105.83 143.42V148.18M102.13 143.42h7.4M102.13 148.18h7.4M119.64 186.15V191.65M115.94 186.15h7.4M115.94 191.65h7.4M124.25 172.20V178.20M120.55 172.20h7.4M120.55 178.20h7.4M128.85 159.37V162.83M125.15 159.37h7.4M125.15 162.83h7.4M133.46 156.29V159.51M129.76 156.29h7.4M129.76 159.51h7.4M138.07 202.92V209.08M134.37 202.92h7.4M134.37 209.08h7.4M142.67 187.45V192.15M138.97 187.45h7.4M138.97 192.15h7.4M147.28 216.05V221.95M143.58 216.05h7.4M143.58 221.95h7.4M151.88 205.44V208.56M148.18 205.44h7.4M148.18 208.56h7.4M156.49 228.23V232.97M152.79 228.23h7.4M152.79 232.97h7.4M161.09 189.73V195.47M157.39 189.73h7.4M157.39 195.47h7.4M165.70 204.72V208.68M162.00 204.72h7.4M162.00 208.68h7.4M170.30 131.12V137.68M166.60 131.12h7.4M166.60 137.68h7.4M174.91 28.80V35.20M171.21 28.80h7.4M171.21 35.20h7.4M179.52 121.38V124.62M175.82 121.38h7.4M175.82 124.62h7.4M184.12 166.89V170.11M180.42 166.89h7.4M180.42 170.11h7.4M188.73 193.85V198.95M185.03 193.85h7.4M185.03 198.95h7.4M193.33 193.73V200.27M189.63 193.73h7.4M189.63 200.27h7.4M197.94 113.15V117.65M194.24 113.15h7.4M194.24 117.65h7.4M202.54 207.05V210.95M198.84 207.05h7.4M198.84 210.95h7.4M207.15 194.97V199.63M203.45 194.97h7.4M203.45 199.63h7.4M211.75 183.39V186.61M208.05 183.39h7.4M208.05 186.61h7.4M216.36 184.74V188.66M212.66 184.74h7.4M212.66 188.66h7.4M220.96 143.74V148.46M217.26 143.74h7.4M217.26 148.46h7.4M225.57 135.64V140.56M221.87 135.64h7.4M221.87 140.56h7.4M230.18 202.42V206.38M226.48 202.42h7.4M226.48 206.38h7.4M234.78 178.22V182.18M231.08 178.22h7.4M231.08 182.18h7.4M243.99 205.04V208.96M240.29 205.04h7.4M240.29 208.96h7.4M248.60 149.70V154.50M244.90 149.70h7.4M244.90 154.50h7.4M253.20 160.91V165.09M249.50 160.91h7.4M249.50 165.09h7.4M262.41 160.40V163.60M258.71 160.40h7.4M258.71 163.60h7.4M267.02 152.32V158.48M263.32 152.32h7.4M263.32 158.48h7.4M276.23 143.13V148.27M272.53 143.13h7.4M272.53 148.27h7.4M280.84 201.27V206.73M277.14 201.27h7.4M277.14 206.73h7.4M285.44 150.10V153.90M281.74 150.10h7.4M281.74 153.90h7.4M290.05 157.13V163.87M286.35 157.13h7.4M286.35 163.87h7.4M294.65 235.27V241.53M290.95 235.27h7.4M290.95 241.53h7.4M299.26 201.32V204.88M295.56 201.32h7.4M295.56 204.88h7.4M303.86 146.93V151.27M300.16 146.93h7.4M300.16 151.27h7.4M308.47 123.13V128.87M304.77 123.13h7.4M304.77 128.87h7.4M313.07 128.95V134.65M309.38 128.95h7.4M309.38 134.65h7.4M317.68 189.34V195.86M313.98 189.34h7.4M313.98 195.86h7.4M322.29 169.37V174.03M318.59 169.37h7.4M318.59 174.03h7.4M326.89 173.93V180.07M323.19 173.93h7.4M323.19 180.07h7.4M331.50 208.02V213.58M327.80 208.02h7.4M327.80 213.58h7.4M336.10 229.19V233.41M332.40 229.19h7.4M332.40 233.41h7.4M340.71 219.87V225.13M337.01 219.87h7.4M337.01 225.13h7.4M345.31 198.83V205.17M341.61 198.83h7.4M341.61 205.17h7.4M349.92 180.60V186.80M346.22 180.60h7.4M346.22 186.80h7.4M354.52 157.62V162.58M350.82 157.62h7.4M350.82 162.58h7.4M359.13 146.47V151.73M355.43 146.47h7.4M355.43 151.73h7.4M363.74 96.38V99.62M360.04 96.38h7.4M360.04 99.62h7.4M368.34 148.50V152.50M364.64 148.50h7.4M364.64 152.50h7.4M372.95 107.69V113.71M369.25 107.69h7.4M369.25 113.71h7.4M377.55 216.69V221.31M373.85 216.69h7.4M373.85 221.31h7.4M382.16 202.83V206.57M378.46 202.83h7.4M378.46 206.57h7.4M386.76 212.44V217.56M383.06 212.44h7.4M383.06 217.56h7.4M391.37 188.26V193.94M387.67 188.26h7.4M387.67 193.94h7.4M395.97 182.71V188.29M392.27 182.71h7.4M392.27 188.29h7.4M400.58 170.96V175.44M396.88 170.96h7.4M396.88 175.44h7.4M405.19 117.14V121.86M401.49 117.14h7.4M401.49 121.86h7.4M409.79 159.01V163.99M406.09 159.01h7.4M406.09 163.99h7.4M414.40 116.52V122.48M410.70 116.52h7.4M410.70 122.48h7.4M419.00 126.39V131.41M415.30 126.39h7.4M415.30 131.41h7.4M423.61 191.72V196.28M419.91 191.72h7.4M419.91 196.28h7.4M428.21 185.95V190.85M424.51 185.95h7.4M424.51 190.85h7.4M432.82 185.09V188.31M429.12 185.09h7.4M429.12 188.31h7.4M437.42 212.86V216.14M433.72 212.86h7.4M433.72 216.14h7.4M442.03 132.76V138.44M438.33 132.76h7.4M438.33 138.44h7.4M446.63 200.15V206.85M442.93 200.15h7.4M442.93 206.85h7.4M451.24 151.56V156.84M447.54 151.56h7.4M447.54 156.84h7.4M455.85 132.42V136.98M452.15 132.42h7.4M452.15 136.98h7.4M460.45 128.83V132.57M456.75 128.83h7.4M456.75 132.57h7.4M465.06 155.43V160.37M461.36 155.43h7.4M461.36 160.37h7.4" stroke="#0000ff" stroke-width="0.75" stroke-opacity="0.55" fill="none"/>
<path d="M82.80 147.60h0M87.41 148.50h0M92.01 184.50h0M96.62 191.10h0M101.22 220.80h0M105.83 145.80h0M119.64 188.90h0M124.25 175.20h0M128.85 161.10h0M133.46 157.90h0M138.07 206.00h0M142.67 189.80h0M147.28 219.00h0M151.88 207.00h0M156.49 230.60h0M161.09 192.60h0M165.70 206.70h0M170.30 134.40h0M174.91 32.00h0M179.52 123.00h0M184.12 168.50h0M188.73 196.40h0M193.33 197.00h0M197.94 115.40h0M202.54 209.00h0M207.15 197.30h0M211.75 185.00h0M216.36 186.70h0M220.96 146.10h0M225.57 138.10h0M230.18 204.40h0M234.78 180.20h0M243.99 207.00h0M248.60 152.10h0M253.20 163.00h0M262.41 162.00h0M267.02 155.40h0M276.23 145.70h0M280.84 204.00h0M285.44 152.00h0M290.05 160.50h0M294.65 238.40h0M299.26 203.10h0M303.86 149.10h0M308.47 126.00h0M313.07 131.80h0M317.68 192.60h0M322.29 171.70h0M326.89 177.00h0M331.50 210.80h0M336.10 231.30h0M340.71 222.50h0M345.31 202.00h0M349.92 183.70h0M354.52 160.10h0M359.13 149.10h0M363.74 98.00h0M368.34 150.50h0M372.95 110.70h0M377.55 219.00h0M382.16 204.70h0M386.76 215.00h0M391.37 191.10h0M395.97 185.50h0M400.58 173.20h0M405.19 119.50h0M409.79 161.50h0M414.40 119.50h0M419.00 128.90h0M423.61 194.00h0M428.21 188.40h0M432.82 186.70h0M437.42 214.50h0M442.03 135.60h0M446.63 203.50h0M451.24 154.20h0M455.85 134.70h0M460.45 130.70h0M465.06 157.90h0" stroke="#0000ff" stroke-width="3.6" stroke-linecap="round" fill="none"/>
<path d="M82.80 133.20h0M87.41 162.30h0M92.01 194.00h0M96.62 206.80h0M101.22 211.30h0M105.83 205.00h0M115.04 181.10h0M119.64 169.30h0M124.25 169.30h0M128.85 141.00h0M133.46 140.30h0M138.07 219.00h0M142.67 179.00h0M147.28 206.50h0M151.88 184.80h0M156.49 218.00h0M161.09 188.30h0M165.70 194.00h0M170.30 134.40h0M174.91 80.30h0M179.52 163.30h0M184.12 220.00h0M188.73 225.20h0M193.33 183.40h0M197.94 163.80h0M202.54 208.80h0M207.15 186.10h0M211.75 182.70h0M216.36 183.40h0M220.96 137.00h0M225.57 138.50h0M230.18 184.70h0M234.78 171.30h0M243.99 207.30h0M248.60 169.30h0M253.20 162.30h0M276.23 172.10h0M280.84 169.60h0M285.44 160.40h0M290.05 191.10h0M294.65 229.90h0M299.26 198.40h0M303.86 140.00h0M308.47 147.50h0M313.07 169.30h0M317.68 163.90h0M322.29 144.40h0M326.89 134.80h0M331.50 210.80h0M336.10 213.40h0M340.71 204.70h0M345.31 221.60h0M349.92 167.80h0M354.52 169.30h0M359.13 173.40h0M363.74 139.50h0M368.34 117.80h0M372.95 166.00h0M377.55 134.10h0M382.16 208.60h0M386.76 192.30h0M391.37 193.90h0M395.97 178.10h0M400.58 179.40h0M405.19 104.10h0M409.79 173.50h0M414.40 146.10h0M419.00 124.20h0M423.61 172.20h0M428.21 170.80h0M432.82 186.70h0M437.42 175.20h0M442.03 139.50h0M446.63 203.50h0M451.24 162.30h0M455.85 140.60h0M460.45 134.10h0M465.06 152.00h0M253.30 175.10h0M273.60 134.70h0" stroke="#000" stroke-width="4.0" stroke-linecap="round" fill="none"/></g>
<rect x="45.80" y="25.30" width="432.60" height="245.30" fill="none" stroke="#a8a8a8" stroke-width="1.3"/>
<path d="M93.87 270.60v-4.3M93.87 25.30v4.3M141.93 270.60v-4.3M141.93 25.30v4.3M190.00 270.60v-4.3M190.00 25.30v4.3M238.07 270.60v-4.3M238.07 25.30v4.3M286.13 270.60v-4.3M286.13 25.30v4.3M334.20 270.60v-4.3M334.20 25.30v4.3M382.27 270.60v-4.3M382.27 25.30v4.3M430.33 270.60v-4.3M430.33 25.30v4.3M45.80 221.54h4.3M478.40 221.54h-4.3M45.80 172.48h4.3M478.40 172.48h-4.3M45.80 123.42h4.3M478.40 123.42h-4.3M45.80 74.36h4.3M478.40 74.36h-4.3" stroke="#8c8c8c" stroke-width="1" fill="none"/>
<text x="45.80" y="286.8" text-anchor="middle">2002</text>
<text x="93.87" y="286.8" text-anchor="middle">2003</text>
<text x="141.93" y="286.8" text-anchor="middle">2004</text>
<text x="190.00" y="286.8" text-anchor="middle">2005</text>
<text x="238.07" y="286.8" text-anchor="middle">2006</text>
<text x="286.13" y="286.8" text-anchor="middle">2007</text>
<text x="334.20" y="286.8" text-anchor="middle">2008</text>
<text x="382.27" y="286.8" text-anchor="middle">2009</text>
<text x="430.33" y="286.8" text-anchor="middle">2010</text>
<text x="478.40" y="286.8" text-anchor="middle">2011</text>
<text x="43.60" y="276.07" text-anchor="end">-0.4</text>
<text x="43.60" y="227.01" text-anchor="end">-0.2</text>
<text x="43.60" y="177.95" text-anchor="end">0</text>
<text x="43.60" y="128.89" text-anchor="end">0.2</text>
<text x="43.60" y="79.83" text-anchor="end">0.4</text>
<text x="43.60" y="30.77" text-anchor="end">0.6</text>
<text x="260.80" y="13.6" text-anchor="middle" font-size="13.8">Envisat P194-5 25.355N 80.951W</text>
<text x="262.10" y="302.5" text-anchor="middle">Year</text>
<text transform="translate(14.80 148.65) rotate(-90)" x="0" y="0" text-anchor="middle">Water Level Changes (m)</text>
<clipPath id="c2"><rect x="576.40" y="26.00" width="432.10" height="244.30"/></clipPath>
<path d="M624.41 26.00V270.30M672.42 26.00V270.30M720.43 26.00V270.30M768.44 26.00V270.30M816.46 26.00V270.30M864.47 26.00V270.30M912.48 26.00V270.30M960.49 26.00V270.30" stroke="#ececec" stroke-width="0.9" stroke-dasharray="6.8 3.5 1.2 1.6 1.2 2.5" fill="none"/>
<path d="M576.40 239.76H1008.50M576.40 209.23H1008.50M576.40 178.69H1008.50M576.40 148.15H1008.50M576.40 117.61H1008.50M576.40 87.07H1008.50M576.40 56.54H1008.50" stroke="#e6e6e6" stroke-width="0.9" stroke-dasharray="6.8 3.5 1.2 1.6 1.2 2.5" fill="none"/>
<g clip-path="url(#c2)"><path d="M614.30 107.10 L618.90 128.50 L623.50 128.20 L628.10 149.00 L632.70 155.60 L637.30 172.10 L641.90 168.50 L646.50 131.40 L651.10 111.60 L655.70 89.90 L660.30 64.90 L664.90 79.70 L669.50 116.00 L674.10 142.40 L678.70 142.80 L683.30 188.00 L687.90 198.20 L692.50 235.60 L697.10 245.20 L701.70 172.90 L706.30 87.00 L710.90 41.40 L715.50 100.90 L720.10 134.30 L724.70 143.90 L729.30 171.10 L733.90 172.90 L738.50 179.00 L743.10 128.50 L747.70 64.60 L752.30 66.60 L756.90 65.60 L761.50 75.60 L766.10 109.00 L775.30 139.90 L779.90 181.70 L784.50 222.40 L793.70 209.20 L798.30 171.40 L802.90 99.00 L807.50 144.90 L816.70 184.60 L821.30 187.70 L825.90 192.00 L830.50 219.90 L835.10 256.10 L839.70 229.40 L844.30 198.20 L848.90 195.30 L853.50 185.50 L858.10 197.90 L862.70 220.20 L867.30 168.30 L871.90 164.10 L876.50 168.50 L881.10 160.40 L885.70 199.40 L890.30 139.80 L894.90 84.10 L899.50 42.30 L904.10 52.60 L908.70 108.70 L917.90 152.60 L922.50 178.00 L927.10 209.90 L931.70 221.40 L936.30 162.60 L940.90 117.50 L945.50 106.00 L950.10 111.60 L954.70 144.60 L959.30 139.50 L963.90 138.00 L968.50 144.30 L973.10 144.30 L977.70 150.90 L982.30 164.10 L986.90 147.00 L991.50 111.60 L996.10 100.20" stroke="#0000ff" stroke-width="1.4" fill="none" stroke-linejoin="round"/>
<path d="M614.30 105.96V108.24M610.60 105.96h7.4M610.60 108.24h7.4M618.90 127.36V129.64M615.20 127.36h7.4M615.20 129.64h7.4M623.50 127.62V128.78M619.80 127.62h7.4M619.80 128.78h7.4M628.10 148.41V149.59M624.40 148.41h7.4M624.40 149.59h7.4M632.70 154.53V156.67M629.00 154.53h7.4M629.00 156.67h7.4M637.30 171.10V173.10M633.60 171.10h7.4M633.60 173.10h7.4M641.90 167.54V169.46M638.20 167.54h7.4M638.20 169.46h7.4M646.50 130.67V132.13M642.80 130.67h7.4M642.80 132.13h7.4M651.10 110.68V112.52M647.40 110.68h7.4M647.40 112.52h7.4M655.70 88.98V90.82M652.00 88.98h7.4M652.00 90.82h7.4M660.30 63.99V65.81M656.60 63.99h7.4M656.60 65.81h7.4M664.90 79.06V80.34M661.20 79.06h7.4M661.20 80.34h7.4M669.50 115.19V116.81M665.80 115.19h7.4M665.80 116.81h7.4M674.10 141.61V143.19M670.40 141.61h7.4M670.40 143.19h7.4M678.70 141.80V143.80M675.00 141.80h7.4M675.00 143.80h7.4M683.30 186.83V189.17M679.60 186.83h7.4M679.60 189.17h7.4M687.90 197.06V199.34M684.20 197.06h7.4M684.20 199.34h7.4M692.50 234.72V236.48M688.80 234.72h7.4M688.80 236.48h7.4M697.10 244.38V246.02M693.40 244.38h7.4M693.40 246.02h7.4M701.70 172.19V173.61M698.00 172.19h7.4M698.00 173.61h7.4M706.30 86.44V87.56M702.60 86.44h7.4M702.60 87.56h7.4M710.90 40.84V41.96M707.20 40.84h7.4M707.20 41.96h7.4M715.50 100.07V101.73M711.80 100.07h7.4M711.80 101.73h7.4M720.10 133.56V135.04M716.40 133.56h7.4M716.40 135.04h7.4M724.70 143.12V144.68M721.00 143.12h7.4M721.00 144.68h7.4M729.30 170.00V172.20M725.60 170.00h7.4M725.60 172.20h7.4M733.90 172.03V173.77M730.20 172.03h7.4M730.20 173.77h7.4M738.50 178.11V179.89M734.80 178.11h7.4M734.80 179.89h7.4M743.10 127.81V129.19M739.40 127.81h7.4M739.40 129.19h7.4M747.70 64.04V65.16M744.00 64.04h7.4M744.00 65.16h7.4M752.30 65.86V67.34M748.60 65.86h7.4M748.60 67.34h7.4M756.90 64.97V66.23M753.20 64.97h7.4M753.20 66.23h7.4M761.50 74.74V76.46M757.80 74.74h7.4M757.80 76.46h7.4M766.10 107.83V110.17M762.40 107.83h7.4M762.40 110.17h7.4M775.30 138.94V140.86M771.60 138.94h7.4M771.60 140.86h7.4M779.90 181.05V182.35M776.20 181.05h7.4M776.20 182.35h7.4M784.50 221.30V223.50M780.80 221.30h7.4M780.80 223.50h7.4M793.70 208.16V210.24M790.00 208.16h7.4M790.00 210.24h7.4M798.30 170.40V172.40M794.60 170.40h7.4M794.60 172.40h7.4M802.90 97.89V100.11M799.20 97.89h7.4M799.20 100.11h7.4M807.50 143.88V145.92M803.80 143.88h7.4M803.80 145.92h7.4M816.70 183.56V185.64M813.00 183.56h7.4M813.00 185.64h7.4M821.30 186.94V188.46M817.60 186.94h7.4M817.60 188.46h7.4M825.90 190.84V193.16M822.20 190.84h7.4M822.20 193.16h7.4M830.50 218.75V221.05M826.80 218.75h7.4M826.80 221.05h7.4M835.10 255.46V256.74M831.40 255.46h7.4M831.40 256.74h7.4M839.70 228.38V230.42M836.00 228.38h7.4M836.00 230.42h7.4M844.30 197.21V199.19M840.60 197.21h7.4M840.60 199.19h7.4M848.90 194.47V196.13M845.20 194.47h7.4M845.20 196.13h7.4M853.50 184.63V186.37M849.80 184.63h7.4M849.80 186.37h7.4M858.10 197.05V198.75M854.40 197.05h7.4M854.40 198.75h7.4M862.70 219.08V221.32M859.00 219.08h7.4M859.00 221.32h7.4M867.30 167.44V169.16M863.60 167.44h7.4M863.60 169.16h7.4M871.90 163.04V165.16M868.20 163.04h7.4M868.20 165.16h7.4M876.50 167.74V169.26M872.80 167.74h7.4M872.80 169.26h7.4M881.10 159.30V161.50M877.40 159.30h7.4M877.40 161.50h7.4M885.70 198.29V200.51M882.00 198.29h7.4M882.00 200.51h7.4M890.30 138.97V140.63M886.60 138.97h7.4M886.60 140.63h7.4M894.90 83.20V85.00M891.20 83.20h7.4M891.20 85.00h7.4M899.50 41.18V43.42M895.80 41.18h7.4M895.80 43.42h7.4M904.10 51.60V53.60M900.40 51.60h7.4M900.40 53.60h7.4M908.70 107.85V109.55M905.00 107.85h7.4M905.00 109.55h7.4M917.90 151.92V153.28M914.20 151.92h7.4M914.20 153.28h7.4M922.50 177.26V178.74M918.80 177.26h7.4M918.80 178.74h7.4M927.10 208.92V210.88M923.40 208.92h7.4M923.40 210.88h7.4M931.70 220.76V222.04M928.00 220.76h7.4M928.00 222.04h7.4M936.30 161.49V163.71M932.60 161.49h7.4M932.60 163.71h7.4M940.90 116.79V118.21M937.20 116.79h7.4M937.20 118.21h7.4M945.50 104.89V107.11M941.80 104.89h7.4M941.80 107.11h7.4M950.10 110.86V112.34M946.40 110.86h7.4M946.40 112.34h7.4M954.70 143.46V145.74M951.00 143.46h7.4M951.00 145.74h7.4M959.30 138.52V140.48M955.60 138.52h7.4M955.60 140.48h7.4M963.90 137.14V138.86M960.20 137.14h7.4M960.20 138.86h7.4M968.50 143.43V145.17M964.80 143.43h7.4M964.80 145.17h7.4M973.10 143.35V145.25M969.40 143.35h7.4M969.40 145.25h7.4M977.70 149.99V151.81M974.00 149.99h7.4M974.00 151.81h7.4M982.30 163.36V164.84M978.60 163.36h7.4M978.60 164.84h7.4M986.90 146.33V147.67M983.20 146.33h7.4M983.20 147.67h7.4M991.50 110.74V112.46M987.80 110.74h7.4M987.80 112.46h7.4M996.10 99.07V101.33M992.40 99.07h7.4M992.40 101.33h7.4" stroke="#0000ff" stroke-width="0.75" stroke-opacity="0.55" fill="none"/>
<path d="M614.30 107.10h0M618.90 128.50h0M623.50 128.20h0M628.10 149.00h0M632.70 155.60h0M637.30 172.10h0M641.90 168.50h0M646.50 131.40h0M651.10 111.60h0M655.70 89.90h0M660.30 64.90h0M664.90 79.70h0M669.50 116.00h0M674.10 142.40h0M678.70 142.80h0M683.30 188.00h0M687.90 198.20h0M692.50 235.60h0M697.10 245.20h0M701.70 172.90h0M706.30 87.00h0M710.90 41.40h0M715.50 100.90h0M720.10 134.30h0M724.70 143.90h0M729.30 171.10h0M733.90 172.90h0M738.50 179.00h0M743.10 128.50h0M747.70 64.60h0M752.30 66.60h0M756.90 65.60h0M761.50 75.60h0M766.10 109.00h0M775.30 139.90h0M779.90 181.70h0M784.50 222.40h0M793.70 209.20h0M798.30 171.40h0M802.90 99.00h0M807.50 144.90h0M816.70 184.60h0M821.30 187.70h0M825.90 192.00h0M830.50 219.90h0M835.10 256.10h0M839.70 229.40h0M844.30 198.20h0M848.90 195.30h0M853.50 185.50h0M858.10 197.90h0M862.70 220.20h0M867.30 168.30h0M871.90 164.10h0M876.50 168.50h0M881.10 160.40h0M885.70 199.40h0M890.30 139.80h0M894.90 84.10h0M899.50 42.30h0M904.10 52.60h0M908.70 108.70h0M917.90 152.60h0M922.50 178.00h0M927.10 209.90h0M931.70 221.40h0M936.30 162.60h0M940.90 117.50h0M945.50 106.00h0M950.10 111.60h0M954.70 144.60h0M959.30 139.50h0M963.90 138.00h0M968.50 144.30h0M973.10 144.30h0M977.70 150.90h0M982.30 164.10h0M986.90 147.00h0M991.50 111.60h0M996.10 100.20h0" stroke="#0000ff" stroke-width="3.4" stroke-linecap="round" fill="none"/>
<path d="M576.0 122.8h0M576.8 125.5h0M577.6 127.6h0M578.4 129.2h0M579.2 132.0h0M579.9 135.9h0M580.7 138.1h0M581.5 139.6h0M582.3 139.6h0M583.1 142.1h0M583.5 145.5h0M583.9 147.8h0M584.3 150.7h0M584.7 152.9h0M585.1 154.8h0M585.5 157.1h0M585.9 161.2h0M586.3 162.0h0M586.6 164.2h0M587.0 166.5h0M587.4 169.7h0M587.8 173.4h0M588.2 177.1h0M588.6 181.2h0M589.0 185.3h0M589.4 189.5h0M589.8 193.6h0M590.2 196.6h0M590.6 198.4h0M591.0 202.8h0M591.4 204.6h0M591.8 208.2h0M592.2 210.1h0M592.6 213.0h0M593.0 214.7h0M593.4 217.3h0M594.1 223.0h0M594.9 217.5h0M595.7 217.7h0M597.5 202.3h0M597.6 199.9h0M597.6 197.4h0M597.7 194.1h0M597.8 191.4h0M597.8 188.3h0M597.9 184.7h0M598.0 182.3h0M598.0 178.3h0M598.1 176.5h0M598.2 171.9h0M598.2 169.2h0M598.3 165.6h0M598.4 162.9h0M598.5 159.1h0M598.6 157.0h0M598.7 153.4h0M598.8 151.2h0M598.9 149.7h0M599.1 148.0h0M599.3 145.6h0M599.5 143.9h0M599.7 141.1h0M599.9 139.2h0M600.1 135.5h0M600.3 133.4h0M600.5 130.8h0M600.7 129.5h0M600.9 128.6h0M601.0 127.8h0M601.2 126.6h0M601.4 125.5h0M601.6 125.0h0M601.8 123.0h0M602.0 120.3h0M602.2 116.7h0M602.4 113.4h0M602.6 110.0h0M602.8 106.7h0M603.0 104.2h0M603.2 103.0h0M603.4 102.1h0M603.6 99.5h0M603.8 97.8h0M604.0 97.8h0M604.2 95.4h0M604.4 94.3h0M604.6 93.2h0M604.8 91.4h0M605.0 92.7h0M605.2 91.7h0M605.4 90.1h0M605.6 89.8h0M605.8 88.8h0M606.0 87.6h0M606.2 88.3h0M606.4 89.0h0M606.6 89.8h0M606.8 90.0h0M607.0 90.1h0M607.2 91.2h0M607.4 90.5h0M607.6 91.7h0M607.8 92.4h0M607.9 92.1h0M608.1 91.8h0M608.3 92.8h0M608.5 94.0h0M608.7 94.6h0M608.9 95.7h0M609.1 94.5h0M609.3 95.2h0M609.5 95.7h0M609.7 95.4h0M609.9 94.4h0M610.1 96.3h0M610.3 97.2h0M610.5 96.6h0M610.7 95.7h0M610.9 96.5h0M611.1 97.7h0M611.3 99.8h0M611.5 99.6h0M611.7 100.2h0M611.9 101.8h0M612.1 101.7h0M612.3 103.6h0M612.5 103.1h0M612.7 104.0h0M612.9 105.5h0M613.1 106.7h0M613.3 107.1h0M613.5 108.2h0M613.7 108.3h0M613.9 110.2h0M614.1 111.6h0M614.3 113.0h0M614.5 114.9h0M614.7 115.7h0M614.9 117.6h0M615.0 118.1h0M615.2 118.5h0M615.4 119.5h0M615.6 120.4h0M615.8 121.3h0M616.0 121.3h0M616.2 122.1h0M616.4 122.2h0M616.6 124.5h0M616.8 125.1h0M617.0 124.9h0M617.2 125.5h0M617.4 125.8h0M617.6 127.2h0M617.8 127.9h0M618.0 129.7h0M618.2 129.4h0M618.4 129.5h0M618.6 129.3h0M618.8 131.8h0M619.0 131.1h0M619.2 130.1h0M619.4 131.1h0M619.6 130.1h0M619.8 132.9h0M620.0 131.6h0M620.2 131.3h0M620.4 130.9h0M620.6 129.8h0M620.8 130.9h0M621.0 130.1h0M621.2 131.4h0M621.4 129.9h0M621.6 130.6h0M621.8 131.8h0M621.9 132.1h0M622.1 130.5h0M622.3 130.4h0M622.5 131.7h0M622.7 131.8h0M622.9 130.8h0M623.1 131.0h0M623.3 131.0h0M623.5 131.2h0M623.7 132.2h0M623.9 134.0h0M624.1 134.4h0M624.3 135.9h0M624.5 135.4h0M624.7 136.1h0M624.9 136.4h0M625.1 137.5h0M625.3 137.6h0M625.5 138.1h0M625.7 140.2h0M625.9 141.3h0M626.1 141.7h0M626.3 142.7h0M626.5 142.8h0M626.7 143.0h0M626.9 144.1h0M627.1 144.6h0M627.3 144.9h0M627.5 145.3h0M627.7 146.1h0M627.9 147.7h0M628.1 148.5h0M628.3 148.9h0M628.5 150.6h0M628.7 150.6h0M628.8 151.4h0M629.0 152.4h0M629.2 151.9h0M629.4 151.9h0M629.6 154.1h0M629.8 153.9h0M630.0 155.6h0M630.2 155.7h0M630.4 156.7h0M630.6 157.2h0M630.8 156.3h0M631.0 158.4h0M631.2 158.2h0M631.4 158.6h0M631.6 159.3h0M631.8 160.4h0M632.0 161.0h0M632.2 161.6h0M632.4 160.6h0M632.6 161.7h0M632.8 161.2h0M633.0 162.9h0M633.2 164.0h0M633.4 163.9h0M633.6 165.2h0M633.8 165.9h0M634.0 167.0h0M634.2 166.7h0M634.4 167.3h0M634.6 168.1h0M634.8 170.1h0M635.0 170.5h0M635.2 170.6h0M635.4 171.5h0M635.6 172.3h0M635.8 173.1h0M635.9 173.7h0M636.1 174.4h0M636.3 174.7h0M636.5 175.8h0M636.7 177.9h0M636.9 178.0h0M637.1 178.6h0M637.3 179.2h0M637.5 180.4h0M637.7 183.3h0M637.9 185.5h0M638.1 186.7h0M638.3 186.0h0M638.5 184.8h0M638.7 184.1h0M638.9 183.3h0M639.1 182.6h0M639.3 182.9h0M639.5 180.5h0M639.7 180.9h0M639.9 180.0h0M640.1 179.4h0M640.3 179.1h0M640.5 178.9h0M640.7 177.7h0M640.9 176.9h0M641.1 175.9h0M641.3 175.5h0M641.5 175.4h0M641.7 174.0h0M641.9 172.9h0M642.1 171.9h0M642.3 170.7h0M642.5 169.3h0M642.7 169.4h0M642.8 167.7h0M643.0 166.1h0M643.2 165.7h0M643.4 163.3h0M643.6 162.8h0M643.8 161.5h0M644.0 158.9h0M644.2 157.5h0M644.4 156.5h0M644.6 156.1h0M644.8 154.9h0M645.0 152.1h0M645.2 152.0h0M645.4 149.8h0M645.6 148.4h0M645.8 146.9h0M646.0 145.6h0M646.2 143.4h0M646.4 142.5h0M646.6 141.2h0M646.8 141.0h0M647.0 140.8h0M647.2 140.0h0M647.4 137.1h0M647.6 135.2h0M647.8 134.8h0M648.0 133.4h0M648.2 133.9h0M648.4 132.0h0M648.6 130.1h0M648.8 129.9h0M649.0 128.5h0M649.2 126.4h0M649.4 126.1h0M649.6 125.4h0M649.7 124.6h0M649.9 123.8h0M650.1 122.7h0M650.3 122.1h0M650.5 120.8h0M650.7 119.7h0M650.9 120.1h0M651.1 118.6h0M651.3 117.8h0M651.5 115.8h0M651.7 115.7h0M651.9 115.3h0M652.1 113.3h0M652.3 113.7h0M652.5 112.0h0M652.7 111.5h0M652.9 110.4h0M653.1 109.5h0M653.3 108.8h0M653.5 106.7h0M653.7 106.5h0M653.9 104.0h0M654.1 102.7h0M654.3 102.4h0M654.5 100.2h0M654.7 99.3h0M654.9 98.8h0M655.1 97.7h0M655.3 94.8h0M655.5 94.6h0M655.7 93.4h0M655.9 91.0h0M656.1 88.3h0M656.3 86.1h0M656.5 84.3h0M656.6 81.9h0M656.8 80.4h0M657.0 78.5h0M657.2 77.3h0M657.4 77.2h0M657.6 75.6h0M657.8 74.1h0M658.0 74.7h0M658.2 72.7h0M658.4 72.2h0M658.6 71.5h0M658.8 70.6h0M659.0 69.4h0M659.2 69.4h0M659.4 70.4h0M659.6 68.5h0M659.8 68.3h0M660.0 68.6h0M660.2 68.0h0M660.4 67.6h0M660.6 67.8h0M660.8 66.9h0M661.0 68.1h0M661.2 69.4h0M661.4 70.2h0M661.6 71.3h0M661.8 71.5h0M662.0 71.8h0M662.2 72.7h0M662.4 73.2h0M662.6 74.2h0M662.8 75.2h0M663.0 75.4h0M663.2 75.8h0M663.4 76.5h0M663.6 78.3h0M663.7 79.2h0M663.9 79.7h0M664.1 80.4h0M664.3 81.1h0M664.5 81.4h0M664.7 82.6h0M664.9 83.2h0M665.1 85.2h0M665.3 86.5h0M665.5 88.8h0M665.7 89.7h0M665.9 91.5h0M666.1 93.3h0M666.3 95.4h0M666.5 95.7h0M666.7 97.2h0M666.9 99.7h0M667.1 100.2h0M667.3 102.6h0M667.5 103.7h0M667.7 105.5h0M667.9 106.2h0M668.1 109.2h0M668.3 110.1h0M668.5 111.5h0M668.7 114.7h0M668.9 115.5h0M669.1 118.7h0M669.3 118.5h0M669.5 119.7h0M669.7 121.4h0M669.9 123.2h0M670.1 123.3h0M670.3 124.5h0M670.5 125.5h0M670.6 125.7h0M670.8 127.3h0M671.0 127.9h0M671.2 128.5h0M671.4 130.7h0M671.6 131.5h0M671.8 132.2h0M672.0 132.6h0M672.2 133.0h0M672.4 135.4h0M672.6 136.0h0M672.8 136.2h0M673.0 138.0h0M673.2 138.2h0M673.4 140.0h0M673.6 141.1h0M673.8 142.2h0M674.0 143.1h0M674.2 143.3h0M674.4 142.7h0M674.6 143.3h0M674.8 143.4h0M675.0 143.8h0M675.2 144.2h0M675.4 144.6h0M675.6 145.3h0M675.8 143.2h0M676.0 145.0h0M676.2 144.9h0M676.4 146.4h0M676.6 145.8h0M676.8 144.6h0M677.0 145.9h0M677.2 145.6h0M677.4 146.6h0M677.5 145.6h0M677.7 146.4h0M677.9 146.5h0M678.1 146.7h0M678.3 146.6h0M678.5 146.7h0M678.7 148.9h0M678.9 150.2h0M679.1 150.6h0M679.3 151.1h0M679.5 152.7h0M679.7 153.9h0M679.9 154.5h0M680.1 155.8h0M680.3 158.0h0M680.5 158.0h0M680.7 159.8h0M680.9 160.4h0M681.1 162.5h0M681.3 163.9h0M681.5 165.2h0M681.7 166.8h0M681.9 169.6h0M682.1 169.9h0M682.3 171.3h0M682.5 174.0h0M682.7 174.2h0M682.9 174.7h0M683.1 177.3h0M683.3 177.8h0M683.5 180.1h0M683.7 179.4h0M683.9 180.6h0M684.1 180.9h0M684.3 182.7h0M684.5 183.0h0M684.6 184.4h0M684.8 185.1h0M685.0 185.8h0M685.2 187.2h0M685.4 187.7h0M685.6 187.8h0M685.8 187.8h0M686.0 188.2h0M686.2 189.5h0M686.4 191.2h0M686.6 190.2h0M686.8 190.6h0M687.0 191.2h0M687.2 191.5h0M687.4 192.1h0M687.6 193.1h0M687.8 194.5h0M688.0 194.5h0M688.2 195.3h0M688.4 195.7h0M688.6 197.7h0M688.8 198.6h0M689.0 199.0h0M689.2 200.1h0M689.4 201.7h0M689.6 203.3h0M689.8 204.2h0M690.0 205.0h0M690.2 205.5h0M690.4 206.6h0M690.6 207.2h0M690.8 209.2h0M691.0 208.1h0M691.2 209.3h0M691.4 211.0h0M691.5 210.9h0M691.7 212.6h0M691.9 212.6h0M692.1 213.5h0M692.3 213.8h0M692.5 213.5h0M692.7 213.9h0M692.9 215.8h0M693.1 215.1h0M693.3 215.3h0M693.5 215.6h0M693.7 215.6h0M693.9 216.0h0M694.1 215.5h0M694.3 215.7h0M694.5 216.5h0M694.7 215.6h0M694.9 214.9h0M695.1 215.3h0M695.3 215.0h0M695.5 215.4h0M695.7 214.5h0M695.9 214.2h0M696.1 214.4h0M696.3 215.2h0M696.5 214.2h0M696.7 214.1h0M696.9 212.7h0M697.1 211.3h0M697.3 210.1h0M697.5 208.8h0M697.7 205.6h0M697.9 205.7h0M698.1 203.5h0M698.3 201.8h0M698.4 201.7h0M698.6 198.9h0M698.8 198.8h0M699.0 196.9h0M699.2 194.5h0M699.4 194.0h0M699.6 192.9h0M699.8 191.1h0M700.0 188.5h0M700.2 187.9h0M700.4 186.3h0M700.6 184.1h0M700.8 184.0h0M701.0 181.2h0M701.2 179.4h0M701.4 177.7h0M701.5 175.1h0M701.6 172.7h0M701.7 170.9h0M701.8 168.6h0M701.9 165.9h0M702.0 163.7h0M702.1 160.7h0M702.2 159.4h0M702.3 156.4h0M702.4 154.5h0M702.5 151.6h0M702.6 149.5h0M702.7 147.5h0M702.8 144.4h0M702.9 144.1h0M703.0 140.4h0M703.1 138.3h0M703.2 136.0h0M703.3 135.3h0M703.4 133.2h0M703.5 130.6h0M703.6 127.7h0M703.7 126.2h0M703.8 124.9h0M703.9 122.3h0M704.0 120.0h0M704.1 118.0h0M704.2 116.2h0M704.3 114.7h0M704.4 112.4h0M704.6 109.5h0M704.8 109.4h0M705.0 107.2h0M705.2 104.1h0M705.3 103.2h0M705.5 101.4h0M705.7 99.7h0M705.9 98.7h0M706.1 96.3h0M706.3 93.9h0M706.5 91.1h0M706.7 88.5h0M706.9 86.5h0M707.1 83.4h0M707.3 79.5h0M707.5 77.2h0M707.7 74.2h0M707.9 72.3h0M708.1 69.2h0M708.3 66.8h0M708.5 64.3h0M708.7 62.1h0M708.9 62.3h0M709.1 60.9h0M709.3 59.9h0M709.5 57.7h0M709.7 57.3h0M709.9 55.7h0M710.1 54.5h0M710.3 53.9h0M710.5 52.7h0M710.7 50.9h0M710.9 49.2h0M711.1 49.9h0M711.3 52.4h0M711.5 54.8h0M711.7 55.7h0M711.9 55.9h0M712.1 58.2h0M712.3 60.4h0M712.4 62.5h0M712.6 64.9h0M712.8 67.5h0M713.0 70.4h0M713.2 72.7h0M713.4 76.1h0M713.6 79.2h0M713.8 81.9h0M714.0 85.4h0M714.2 87.9h0M714.4 91.1h0M714.6 94.4h0M714.8 96.8h0M715.0 99.4h0M715.2 101.8h0M715.4 103.8h0M715.6 107.2h0M715.8 110.1h0M716.0 111.7h0M716.2 115.5h0M716.4 117.1h0M716.6 120.0h0M716.8 122.1h0M717.0 124.1h0M717.2 127.3h0M717.4 126.7h0M717.6 129.1h0M717.8 129.5h0M718.0 131.2h0M718.2 131.8h0M718.4 133.3h0M718.6 135.3h0M718.8 137.1h0M719.0 136.7h0M719.2 138.5h0M719.3 140.2h0M719.5 140.4h0M719.7 142.1h0M719.9 142.3h0M720.1 144.0h0M720.3 144.9h0M720.5 146.3h0M720.7 146.8h0M720.9 147.0h0M721.1 148.6h0M721.3 148.1h0M721.5 149.5h0M721.7 150.4h0M721.9 150.3h0M722.1 150.1h0M722.3 151.5h0M722.5 151.3h0M722.7 151.0h0M722.9 151.9h0M723.1 153.3h0M723.3 152.7h0M723.5 153.4h0M723.7 153.6h0M723.9 153.1h0M724.1 153.7h0M724.3 154.2h0M724.5 154.1h0M724.7 153.9h0M724.9 152.8h0M725.1 154.7h0M725.3 154.9h0M725.5 155.7h0M725.7 156.5h0M725.9 156.1h0M726.1 156.7h0M726.2 157.8h0M726.4 159.2h0M726.6 157.9h0M726.8 159.4h0M727.0 159.7h0M727.2 161.0h0M727.4 162.0h0M727.6 161.6h0M727.8 161.6h0M728.0 162.9h0M728.2 163.3h0M728.4 163.1h0M728.6 165.0h0M728.8 164.8h0M729.0 166.0h0M729.2 165.5h0M729.4 167.3h0M729.6 166.4h0M729.8 168.2h0M730.0 167.0h0M730.2 169.1h0M730.4 168.6h0M730.6 168.3h0M730.8 169.4h0M731.0 170.1h0M731.2 169.8h0M731.4 170.4h0M731.6 171.1h0M731.8 171.2h0M732.0 170.0h0M732.2 171.8h0M732.4 172.6h0M732.6 172.9h0M732.8 173.6h0M733.0 173.0h0M733.2 175.1h0M733.3 174.5h0M733.5 174.6h0M733.7 175.3h0M733.9 175.8h0M734.1 176.7h0M734.3 177.8h0M734.5 180.1h0M734.7 181.1h0M734.9 181.3h0M735.1 183.1h0M735.3 185.4h0M735.5 186.6h0M735.7 188.1h0M735.9 189.7h0M736.1 190.7h0M736.3 192.7h0M736.5 192.7h0M736.7 194.0h0M736.9 195.6h0M737.1 197.0h0M737.3 198.2h0M737.5 199.7h0M737.7 199.8h0M737.9 201.9h0M738.1 202.7h0M738.3 203.1h0M738.5 204.8h0M738.7 207.2h0M738.9 207.6h0M739.1 208.1h0M739.3 208.3h0M739.5 210.4h0M739.7 211.6h0M739.9 213.2h0M740.1 215.6h0M740.2 215.9h0M740.4 216.8h0M740.6 217.3h0M740.8 218.4h0M741.0 220.1h0M741.2 221.0h0M741.4 224.0h0M741.6 223.2h0M741.8 224.1h0M742.0 226.1h0M742.2 226.6h0M742.8 225.3h0M742.8 223.3h0M742.9 219.0h0M742.9 215.0h0M743.0 212.5h0M743.0 209.2h0M743.0 205.9h0M743.1 203.6h0M743.1 200.8h0M743.1 196.7h0M743.2 192.7h0M743.2 189.3h0M743.2 187.2h0M743.3 184.7h0M743.3 181.3h0M743.3 178.2h0M743.4 175.2h0M743.4 170.9h0M743.4 168.1h0M743.5 163.4h0M743.5 161.4h0M743.5 157.9h0M743.6 154.4h0M743.6 150.9h0M743.6 146.6h0M743.7 143.3h0M743.7 140.2h0M743.7 136.3h0M743.8 133.9h0M743.8 130.2h0M743.9 127.8h0M743.9 124.1h0M743.9 121.9h0M744.0 118.7h0M744.0 115.3h0M744.1 111.0h0M744.1 107.3h0M744.2 104.4h0M744.2 101.8h0M744.3 98.8h0M744.3 94.4h0M744.4 91.7h0M744.4 87.3h0M744.5 83.0h0M744.6 80.6h0M744.7 79.5h0M744.8 76.6h0M744.9 75.7h0M745.0 73.4h0M745.1 71.2h0M745.2 67.3h0M745.3 66.6h0M745.4 63.9h0M745.5 60.1h0M745.6 58.6h0M745.8 57.2h0M746.0 57.3h0M746.2 57.2h0M746.3 57.3h0M746.5 57.9h0M746.7 60.3h0M746.9 59.2h0M747.1 59.7h0M747.3 59.7h0M747.5 60.2h0M747.7 60.7h0M747.9 60.9h0M748.1 62.2h0M748.3 61.9h0M748.5 62.9h0M748.7 62.1h0M748.9 63.6h0M749.1 63.4h0M749.3 64.2h0M749.5 64.1h0M749.7 64.0h0M749.9 65.5h0M750.1 65.0h0M750.3 65.6h0M750.5 65.6h0M750.7 66.7h0M750.9 66.8h0M751.1 67.6h0M751.3 68.1h0M751.5 68.0h0M751.7 68.0h0M751.9 69.5h0M752.1 70.2h0M752.3 70.6h0M752.5 70.1h0M752.7 71.6h0M752.9 72.0h0M753.1 72.5h0M753.2 73.1h0M753.4 73.2h0M753.6 74.0h0M753.8 74.9h0M754.0 74.7h0M754.2 74.7h0M754.4 75.6h0M754.6 76.0h0M754.8 75.2h0M755.0 76.0h0M755.2 77.0h0M755.4 76.8h0M755.6 73.8h0M755.7 70.2h0M755.8 68.6h0M755.9 66.3h0M756.0 62.4h0M756.2 59.8h0M756.4 60.0h0M756.6 61.5h0M756.8 61.5h0M757.0 61.4h0M757.2 62.9h0M757.4 63.0h0M757.6 63.4h0M757.8 62.5h0M758.0 63.8h0M758.2 64.6h0M758.4 64.0h0M758.6 65.6h0M758.8 66.3h0M759.0 66.5h0M759.2 66.1h0M759.4 66.7h0M759.6 68.1h0M759.8 68.8h0M760.0 69.5h0M760.2 70.0h0M760.3 69.9h0M760.5 70.3h0M760.7 70.1h0M760.9 72.1h0M761.1 73.5h0M761.3 72.6h0M761.5 73.7h0M761.7 75.8h0M761.9 77.1h0M762.1 77.7h0M762.3 79.5h0M762.5 80.8h0M762.7 84.0h0M762.9 83.9h0M763.1 86.3h0M763.3 88.5h0M763.5 90.1h0M763.7 91.4h0M763.9 93.1h0M764.1 93.1h0M764.3 95.1h0M764.5 96.5h0M764.7 97.8h0M764.9 100.5h0M765.1 99.1h0M765.3 101.4h0M765.5 101.5h0M765.7 103.9h0M765.9 105.0h0M766.1 105.0h0M766.3 107.5h0M766.5 107.3h0M766.7 109.0h0M766.9 109.4h0M767.1 109.9h0M767.2 111.0h0M767.4 112.2h0M767.6 113.6h0M767.8 114.3h0M768.0 116.7h0M768.2 117.2h0M768.4 119.1h0M768.6 120.9h0M768.8 122.8h0M769.0 124.4h0M769.2 126.7h0M769.4 129.7h0M769.6 131.2h0M769.8 133.0h0M770.0 135.2h0M770.2 136.7h0M770.4 137.5h0M770.6 138.6h0M770.8 139.0h0M771.0 140.2h0M771.2 141.0h0M771.4 142.4h0M771.6 143.0h0M771.8 144.3h0M772.0 145.5h0M772.2 146.5h0M772.4 147.6h0M772.6 148.5h0M772.8 150.6h0M773.0 150.1h0M773.2 150.1h0M773.4 151.2h0M773.6 150.9h0M773.8 151.2h0M774.0 152.3h0M774.1 151.7h0M774.3 151.2h0M774.5 153.5h0M774.7 154.3h0M774.9 153.2h0M775.1 154.0h0M775.3 155.2h0M775.5 155.1h0M775.7 157.6h0M775.9 159.2h0M776.1 161.7h0M776.3 162.5h0M776.5 165.9h0M776.7 167.2h0M776.9 169.3h0M777.1 170.5h0M777.3 170.9h0M777.5 173.3h0M777.7 174.0h0M777.9 176.1h0M778.1 176.9h0M778.3 178.6h0M778.5 180.0h0M778.7 181.9h0M778.9 183.2h0M779.1 183.6h0M779.3 185.4h0M779.5 187.6h0M779.7 188.4h0M779.9 189.2h0M780.1 191.1h0M780.3 192.6h0M780.5 194.9h0M780.7 196.1h0M780.9 197.9h0M781.1 200.5h0M781.2 200.2h0M781.4 202.0h0M781.6 203.2h0M781.8 204.8h0M782.0 207.8h0M782.2 209.0h0M782.4 211.3h0M782.6 210.9h0M782.8 213.1h0M783.0 215.9h0M783.2 216.6h0M783.4 217.4h0M783.6 218.3h0M783.8 218.8h0M784.0 219.7h0M784.2 220.6h0M784.4 222.0h0M784.6 222.6h0M784.8 224.2h0M785.0 226.1h0M785.2 226.0h0M785.4 227.5h0M785.6 229.5h0M785.8 230.4h0M786.0 231.8h0M786.2 233.6h0M786.4 233.2h0M786.6 233.3h0M786.8 234.7h0M787.0 236.0h0M787.2 234.5h0M787.4 235.3h0M787.6 235.8h0M787.8 234.6h0M788.0 235.4h0M788.1 233.7h0M788.3 232.4h0M788.5 232.1h0M788.7 230.6h0M788.9 229.9h0M789.1 230.3h0M789.3 231.8h0M789.5 229.6h0M789.7 231.3h0M789.9 232.1h0M790.1 232.1h0M790.3 233.0h0M790.5 232.5h0M790.7 232.6h0M790.9 232.8h0M791.1 232.2h0M791.3 233.0h0M791.5 230.8h0M791.7 230.8h0M791.9 229.9h0M792.1 229.2h0M792.3 227.8h0M792.5 228.1h0M792.7 226.9h0M792.9 224.1h0M793.1 221.6h0M793.3 218.3h0M793.5 215.2h0M793.7 212.9h0M793.9 210.3h0M794.1 207.0h0M794.3 205.1h0M794.5 203.8h0M794.7 203.3h0M794.9 201.7h0M795.0 199.1h0M795.2 198.1h0M795.4 196.9h0M795.6 195.6h0M795.8 192.9h0M796.0 191.5h0M796.2 190.1h0M796.4 188.5h0M796.6 185.7h0M796.8 182.0h0M797.0 180.7h0M797.2 178.0h0M797.4 175.9h0M797.6 173.6h0M797.8 171.9h0M798.0 170.4h0M798.2 169.5h0M798.4 167.1h0M798.6 165.2h0M798.8 163.0h0M799.0 160.4h0M799.2 158.6h0M799.4 157.3h0M799.6 154.9h0M799.8 153.4h0M800.0 150.4h0M800.2 147.1h0M800.4 142.9h0M800.6 140.7h0M800.8 136.3h0M801.0 134.8h0M801.2 130.3h0M801.4 127.4h0M801.6 123.3h0M801.8 120.5h0M801.9 117.0h0M802.1 114.8h0M802.3 111.1h0M802.5 107.0h0M802.7 103.3h0M802.9 101.0h0M803.1 97.5h0M803.3 93.8h0M803.5 91.4h0M803.7 87.7h0M803.9 85.1h0M804.1 86.5h0M804.3 88.3h0M804.5 90.2h0M804.7 91.4h0M804.9 94.5h0M805.1 96.4h0M805.3 97.5h0M805.5 100.7h0M805.7 103.5h0M805.9 105.3h0M806.1 108.1h0M806.3 109.4h0M806.5 111.8h0M806.7 112.9h0M806.9 114.8h0M807.1 116.0h0M807.3 118.2h0M807.5 120.5h0M807.7 122.4h0M807.9 124.5h0M808.1 125.4h0M808.3 125.8h0M808.5 127.5h0M808.7 128.2h0M808.9 130.2h0M809.0 131.3h0M809.2 131.8h0M809.4 131.6h0M809.6 132.9h0M809.8 134.3h0M810.0 134.8h0M810.2 136.7h0M810.4 138.1h0M810.6 139.4h0M810.8 140.3h0M811.0 140.9h0M811.2 142.1h0M811.4 143.8h0M811.6 145.8h0M811.8 146.3h0M812.0 146.4h0M812.2 146.5h0M812.4 147.0h0M812.6 147.5h0M812.8 148.2h0M813.0 148.4h0M813.2 147.5h0M813.4 149.2h0M813.6 149.3h0M813.8 149.3h0M814.0 150.2h0M814.2 150.5h0M814.4 150.7h0M814.6 150.2h0M814.8 151.6h0M815.0 152.2h0M815.2 152.3h0M815.4 151.8h0M815.6 153.4h0M815.8 153.9h0M815.9 154.0h0M816.1 154.5h0M816.3 154.5h0M816.5 154.7h0M816.7 155.8h0M816.9 155.8h0M817.1 156.7h0M817.3 158.9h0M817.5 158.1h0M817.7 158.4h0M817.9 158.0h0M818.1 159.5h0M818.3 160.4h0M818.5 160.2h0M818.7 161.0h0M818.9 160.5h0M819.1 162.8h0M819.3 163.0h0M819.5 164.5h0M819.7 165.8h0M819.9 165.8h0M820.1 167.3h0M820.3 167.7h0M820.5 168.4h0M820.7 169.2h0M820.9 169.7h0M821.1 171.8h0M821.3 172.4h0M821.5 172.2h0M821.7 174.2h0M821.9 174.2h0M822.1 174.7h0M822.3 177.1h0M822.5 176.7h0M822.7 179.0h0M822.8 179.4h0M823.0 180.8h0M823.2 181.6h0M823.4 183.1h0M823.6 183.7h0M823.8 185.0h0M824.0 185.9h0M824.2 187.4h0M824.4 187.7h0M824.6 189.6h0M824.8 190.9h0M825.0 191.0h0M825.2 192.2h0M825.4 192.6h0M825.6 193.6h0M825.8 194.8h0M826.0 195.4h0M826.2 196.1h0M826.4 197.4h0M826.6 198.5h0M826.8 199.5h0M827.0 200.6h0M827.2 200.2h0M827.4 202.9h0M827.6 202.9h0M827.8 203.5h0M828.0 204.7h0M828.2 206.1h0M828.4 207.4h0M828.6 207.7h0M828.8 209.0h0M829.0 209.0h0M829.2 211.0h0M829.4 211.8h0M829.6 212.6h0M829.8 214.4h0M829.9 215.9h0M830.1 216.5h0M830.3 216.5h0M830.5 218.7h0M830.7 218.7h0M830.9 220.0h0M831.1 220.9h0M831.3 222.6h0M831.5 223.8h0M831.7 224.7h0M831.9 225.6h0M832.1 226.8h0M832.3 227.8h0M832.5 229.7h0M832.7 230.0h0M832.9 231.4h0M833.1 232.5h0M833.3 233.3h0M833.5 234.7h0M833.7 235.2h0M833.9 237.3h0M834.1 238.5h0M834.3 239.2h0M834.5 241.3h0M834.7 241.2h0M834.9 243.0h0M835.1 244.1h0M835.3 244.7h0M835.5 246.0h0M835.7 247.7h0M835.9 248.4h0M836.1 249.6h0M836.3 251.4h0M836.5 251.9h0M836.7 250.0h0M836.8 249.2h0M837.0 248.6h0M837.2 246.7h0M837.4 244.8h0M837.6 243.0h0M837.8 242.9h0M838.0 242.3h0M838.2 239.5h0M838.4 237.6h0M838.6 237.8h0M838.8 235.9h0M839.0 234.7h0M839.2 233.4h0M839.4 231.8h0M839.6 231.2h0M839.8 230.1h0M840.0 228.3h0M840.2 226.1h0M840.4 225.2h0M840.6 222.9h0M840.8 221.5h0M841.0 219.0h0M841.2 218.1h0M841.4 216.4h0M841.6 215.3h0M841.8 213.7h0M842.0 213.0h0M842.2 211.6h0M842.4 211.4h0M842.6 210.4h0M842.8 209.7h0M843.0 208.0h0M843.2 206.6h0M843.4 206.3h0M843.6 205.3h0M843.7 204.1h0M843.9 203.9h0M844.1 203.2h0M844.3 201.8h0M844.5 200.9h0M844.7 199.1h0M844.9 197.0h0M845.1 195.8h0M845.3 194.6h0M845.5 193.8h0M845.7 192.5h0M845.9 190.7h0M846.1 190.0h0M846.3 189.5h0M846.5 190.3h0M846.7 191.7h0M846.9 191.6h0M847.1 192.4h0M847.3 191.3h0M847.5 191.9h0M847.7 192.8h0M847.9 194.3h0M848.1 195.4h0M848.3 195.2h0M848.5 196.1h0M848.7 197.1h0M848.9 198.2h0M849.1 198.8h0M849.3 195.9h0M849.5 194.7h0M849.7 191.7h0M849.9 188.5h0M850.1 186.6h0M850.3 184.0h0M850.5 182.1h0M850.6 179.8h0M850.8 176.7h0M851.0 175.1h0M851.2 173.4h0M851.4 171.4h0M851.6 170.0h0M851.8 168.6h0M852.0 166.5h0M852.2 164.7h0M852.4 164.2h0M852.6 161.9h0M852.8 160.0h0M853.0 159.0h0M853.2 156.3h0M853.4 155.6h0M853.6 153.6h0M853.8 152.9h0M854.0 151.0h0M854.2 150.4h0M854.4 150.1h0M854.6 148.3h0M854.8 146.6h0M855.0 147.0h0M855.2 145.2h0M855.4 145.8h0M855.6 144.2h0M855.8 143.1h0M856.0 144.4h0M856.2 142.6h0M856.4 142.8h0M856.6 142.5h0M856.8 140.6h0M857.0 141.8h0M857.2 142.1h0M857.4 143.4h0M857.6 143.7h0M857.7 143.7h0M857.9 145.0h0M858.1 146.0h0M858.3 145.9h0M858.5 146.8h0M858.7 146.7h0M858.9 147.4h0M859.1 148.1h0M859.3 148.5h0M859.5 149.6h0M859.7 149.9h0M859.9 150.3h0M860.1 150.8h0M860.3 151.3h0M860.5 151.4h0M860.7 153.4h0M860.9 154.5h0M861.1 154.5h0M861.3 155.0h0M861.5 155.9h0M861.7 157.4h0M861.9 157.6h0M862.1 157.7h0M862.3 159.0h0M862.5 159.4h0M862.7 160.5h0M862.9 160.9h0M863.1 161.7h0M863.3 163.5h0M863.5 163.9h0M863.7 163.1h0M863.9 164.0h0M864.1 164.9h0M864.3 165.5h0M864.5 165.6h0M864.6 167.4h0M864.8 166.7h0M865.0 168.5h0M865.2 169.2h0M865.4 169.2h0M865.6 169.7h0M865.8 170.7h0M866.0 171.4h0M866.2 170.9h0M866.4 172.0h0M866.6 173.6h0M866.8 173.9h0M867.0 174.3h0M867.2 174.7h0M867.4 175.4h0M867.6 175.9h0M867.8 178.4h0M868.0 176.7h0M868.2 178.7h0M868.4 178.7h0M868.6 179.0h0M868.8 179.6h0M869.0 179.8h0M869.2 182.2h0M869.4 183.0h0M869.6 184.2h0M869.8 185.6h0M870.0 187.2h0M870.2 187.1h0M870.4 186.6h0M870.6 185.6h0M870.8 185.4h0M871.0 184.5h0M871.2 181.6h0M871.4 180.7h0M871.5 179.6h0M871.7 176.7h0M871.9 175.0h0M872.1 175.8h0M872.3 175.5h0M872.5 175.6h0M872.7 175.5h0M872.9 176.5h0M873.1 176.4h0M873.3 177.1h0M873.5 177.5h0M873.7 178.0h0M873.9 177.7h0M874.1 177.6h0M874.3 177.8h0M874.5 177.6h0M874.7 177.5h0M874.9 177.0h0M875.1 177.0h0M875.3 176.7h0M875.5 176.5h0M875.7 176.8h0M875.9 177.1h0M876.1 176.1h0M876.3 176.5h0M876.5 176.4h0M876.7 176.5h0M876.9 177.0h0M877.1 176.6h0M877.3 177.4h0M877.5 177.5h0M877.7 175.7h0M877.9 178.0h0M878.1 178.2h0M878.3 178.5h0M878.5 176.5h0M878.6 176.8h0M878.8 176.5h0M879.0 175.4h0M879.2 176.2h0M879.4 175.4h0M879.6 174.4h0M879.8 173.9h0M880.0 174.0h0M880.2 175.2h0M880.4 174.8h0M880.6 172.0h0M880.8 172.0h0M881.0 173.1h0M881.2 172.3h0M881.4 171.8h0M881.6 173.8h0M881.8 174.9h0M882.0 176.3h0M882.2 177.7h0M882.4 178.3h0M882.6 180.9h0M882.8 181.3h0M883.0 183.5h0M883.2 184.6h0M883.4 185.6h0M883.6 187.2h0M883.8 188.6h0M884.0 189.1h0M884.2 191.5h0M884.4 193.4h0M884.6 193.8h0M884.8 195.4h0M885.0 198.3h0M885.2 199.2h0M885.4 198.8h0M885.5 200.8h0M885.7 201.5h0M885.9 203.0h0M886.1 203.2h0M886.3 203.7h0M886.5 201.9h0M886.7 200.9h0M886.9 199.3h0M887.1 197.5h0M887.3 196.2h0M887.5 194.3h0M887.7 191.7h0M887.9 187.5h0M888.1 184.0h0M888.3 181.0h0M888.5 178.8h0M888.7 174.7h0M888.9 172.0h0M889.1 168.9h0M889.3 165.2h0M889.5 162.9h0M889.7 159.7h0M889.9 156.4h0M890.1 153.0h0M890.3 150.3h0M890.5 146.6h0M890.7 144.1h0M890.9 140.8h0M891.1 138.2h0M891.3 135.0h0M891.5 131.3h0M891.7 128.9h0M891.9 126.0h0M892.1 122.2h0M892.3 118.6h0M892.4 116.1h0M892.6 111.7h0M892.8 110.1h0M893.0 108.1h0M893.2 106.2h0M893.4 102.1h0M893.6 100.7h0M893.8 98.5h0M894.0 95.9h0M894.2 92.7h0M894.4 93.6h0M894.6 92.2h0M894.8 91.8h0M895.0 90.2h0M895.2 88.1h0M895.4 85.8h0M895.6 84.1h0M895.8 81.2h0M896.0 78.0h0M896.2 75.8h0M896.4 73.4h0M896.6 70.7h0M896.8 67.8h0M897.0 64.9h0M897.2 62.8h0M897.4 61.0h0M897.6 58.9h0M897.8 56.4h0M898.0 54.5h0M898.2 53.8h0M898.4 50.8h0M898.6 49.0h0M898.8 48.9h0M899.0 48.8h0M899.2 47.8h0M899.4 46.1h0M899.5 44.9h0M899.7 44.3h0M899.9 43.2h0M900.1 42.6h0M900.3 43.4h0M900.5 43.4h0M900.7 44.4h0M900.9 45.5h0M901.1 46.4h0M901.3 46.8h0M901.5 47.6h0M901.7 48.2h0M901.9 49.2h0M902.1 50.8h0M902.3 51.4h0M902.5 50.8h0M902.7 53.9h0M902.9 54.5h0M903.1 55.0h0M903.3 56.4h0M903.5 55.9h0M903.7 57.6h0M903.9 60.1h0M904.1 61.7h0M904.3 62.7h0M904.5 62.1h0M904.7 63.7h0M904.9 65.8h0M905.1 66.4h0M905.3 69.7h0M905.5 70.0h0M905.7 72.3h0M905.9 73.2h0M906.1 75.9h0M906.3 78.3h0M906.4 81.6h0M906.6 83.0h0M906.8 86.2h0M907.0 89.9h0M907.2 90.8h0M907.4 94.3h0M907.6 96.8h0M907.8 98.7h0M908.0 101.2h0M908.2 104.5h0M908.4 106.7h0M908.6 108.8h0M908.8 111.0h0M909.0 112.5h0M909.2 114.2h0M909.4 116.1h0M909.6 116.7h0M909.8 116.3h0M910.0 116.9h0M910.2 118.7h0M910.4 120.1h0M910.6 120.7h0M910.8 121.8h0M911.0 123.1h0M911.2 124.4h0M911.4 125.0h0M911.6 126.6h0M911.8 126.1h0M912.0 128.1h0M912.2 129.0h0M912.4 128.9h0M912.6 131.3h0M912.8 130.7h0M913.0 131.7h0M913.2 134.8h0M913.3 135.0h0M913.5 135.4h0M913.7 136.9h0M913.9 137.7h0M914.1 137.4h0M914.3 139.2h0M914.5 140.6h0M914.7 140.6h0M914.9 141.7h0M915.1 142.1h0M915.3 143.4h0M915.5 143.3h0M915.7 143.9h0M915.9 144.2h0M916.1 145.0h0M916.3 146.3h0M916.5 147.0h0M916.7 147.2h0M916.9 147.4h0M917.1 148.8h0M917.3 149.5h0M917.5 150.6h0M917.7 150.2h0M917.9 150.9h0M918.1 152.1h0M918.3 153.2h0M918.5 153.0h0M918.7 154.1h0M918.9 154.8h0M919.1 156.3h0M919.3 158.2h0M919.5 159.3h0M919.7 160.6h0M919.9 160.2h0M920.1 162.8h0M920.2 163.0h0M920.4 164.9h0M920.6 164.5h0M920.8 166.9h0M921.0 167.6h0M921.2 169.9h0M921.4 170.5h0M921.6 172.3h0M921.8 172.5h0M922.0 175.0h0M922.2 174.8h0M922.4 177.2h0M922.6 177.1h0M922.8 177.9h0M923.0 180.2h0M923.2 180.7h0M923.4 182.1h0M923.6 182.6h0M923.8 184.4h0M924.0 185.8h0M924.2 186.6h0M924.4 188.4h0M924.6 188.2h0M924.8 191.2h0M925.0 191.7h0M925.2 194.2h0M925.4 194.6h0M925.6 195.9h0M925.8 197.5h0M926.0 199.4h0M926.2 201.0h0M926.4 201.9h0M926.6 203.2h0M926.8 205.4h0M927.0 207.1h0M927.2 207.1h0M927.3 209.1h0M927.5 211.4h0M927.7 214.9h0M927.9 216.7h0M928.1 218.6h0M928.3 220.5h0M928.5 221.6h0M928.7 224.4h0M928.9 225.2h0M929.1 226.5h0M929.3 229.6h0M929.5 229.3h0M929.7 231.9h0M929.9 232.3h0M930.1 232.7h0M930.3 234.4h0M930.5 234.8h0M930.7 234.5h0M930.9 233.1h0M931.1 231.6h0M931.3 232.2h0M931.5 228.8h0M931.7 228.1h0M931.9 225.9h0M932.1 224.7h0M932.3 221.4h0M932.5 218.2h0M932.7 213.7h0M932.9 212.8h0M933.0 210.8h0M933.1 207.7h0M933.2 206.4h0M933.3 203.8h0M933.4 202.6h0M933.5 198.6h0M933.6 196.6h0M933.7 193.9h0M933.8 191.5h0M933.9 188.6h0M934.0 186.0h0M934.1 184.1h0M934.1 181.9h0M934.2 178.1h0M934.3 175.7h0M934.4 173.8h0M934.5 172.4h0M934.6 168.8h0M934.7 165.5h0M934.8 164.5h0M934.9 162.0h0M935.0 160.7h0M935.2 157.7h0M935.4 156.6h0M935.6 153.1h0M935.8 152.0h0M936.0 149.5h0M936.2 146.7h0M936.4 145.2h0M936.6 144.1h0M936.8 142.0h0M937.0 140.0h0M937.2 139.8h0M937.4 138.6h0M937.6 137.5h0M937.8 136.0h0M938.0 135.0h0M938.2 133.2h0M938.4 132.6h0M938.6 131.1h0M938.8 128.4h0M939.0 126.5h0M939.2 124.5h0M939.4 122.4h0M939.6 120.6h0M939.8 117.3h0M940.0 118.0h0M940.2 119.3h0M940.4 119.8h0M940.6 121.1h0M940.8 121.5h0M941.0 123.3h0M941.1 123.4h0M941.3 122.7h0M941.5 123.1h0M941.7 123.0h0M941.9 120.4h0M942.1 120.7h0M942.3 120.2h0M942.5 120.1h0M942.7 119.7h0M942.9 118.2h0M943.1 116.7h0M943.3 117.3h0M943.5 116.8h0M943.7 115.8h0M943.9 114.9h0M944.1 113.7h0M944.3 114.8h0M944.5 112.1h0M944.7 111.3h0M944.9 111.9h0M945.1 110.9h0M945.3 110.4h0M945.5 109.5h0M945.7 109.6h0M945.9 108.8h0M946.1 105.3h0M946.3 103.6h0M946.5 99.8h0M946.7 97.0h0M946.9 96.1h0M947.1 92.6h0M947.3 89.1h0M947.5 88.7h0M947.7 89.2h0M947.9 90.6h0M948.1 91.1h0M948.2 91.5h0M948.4 92.4h0M948.6 94.6h0M948.8 95.2h0M949.0 97.4h0M949.2 98.4h0M949.4 100.8h0M949.6 103.1h0M949.8 104.0h0M950.0 105.9h0M950.2 107.2h0M950.4 108.0h0M950.6 109.9h0M950.8 111.8h0M951.0 114.2h0M951.2 115.8h0M951.4 118.7h0M951.6 120.1h0M951.8 122.8h0M952.0 124.9h0M952.2 126.3h0M952.4 129.4h0M952.6 130.9h0M952.8 132.9h0M953.0 134.8h0M953.2 135.0h0M953.4 136.6h0M953.6 138.1h0M953.8 140.4h0M954.0 140.8h0M954.2 142.7h0M954.4 143.1h0M954.6 144.4h0M954.8 145.6h0M955.0 146.6h0M955.1 145.3h0M955.3 146.3h0M955.5 146.8h0M955.7 146.9h0M955.9 147.0h0M956.1 147.6h0M956.3 147.5h0M956.5 147.0h0M956.7 148.1h0M956.9 147.5h0M957.1 147.6h0M957.3 148.2h0M957.5 148.5h0M957.7 147.6h0M957.9 146.6h0M958.1 145.6h0M958.3 145.3h0M958.5 146.3h0M958.7 145.2h0M958.9 143.9h0M959.1 145.2h0M959.3 144.3h0M959.5 144.3h0M959.7 143.7h0M959.9 142.5h0M960.1 143.5h0M960.3 144.1h0M960.5 144.3h0M960.7 145.4h0M960.9 144.4h0M961.1 144.9h0M961.3 145.2h0M961.5 145.4h0M961.7 145.1h0M961.9 145.2h0M962.0 144.6h0M962.2 146.1h0M962.4 145.8h0M962.6 146.0h0M962.8 145.2h0M963.0 145.7h0M963.2 145.1h0M963.4 145.1h0M963.6 145.8h0M963.8 145.9h0M964.0 145.8h0M964.2 145.4h0M964.4 145.2h0M964.6 146.1h0M964.8 146.1h0M965.0 145.4h0M965.2 145.4h0M965.4 146.5h0M965.6 146.7h0M965.8 146.3h0M966.0 148.4h0M966.2 146.3h0M966.4 147.2h0M966.6 148.1h0M966.8 148.8h0M967.0 147.5h0M967.2 148.6h0M967.4 149.9h0M967.6 150.1h0M967.8 149.8h0M968.0 150.7h0M968.2 150.9h0M968.4 152.3h0M968.6 152.1h0M968.8 152.3h0M968.9 153.2h0M969.1 154.8h0M969.3 154.7h0M969.5 156.8h0M969.7 157.6h0M969.9 158.2h0M970.1 158.7h0M970.3 159.7h0M970.5 159.9h0M970.7 161.0h0M970.9 161.5h0M971.1 162.4h0M971.3 162.0h0M971.5 161.7h0M971.7 160.9h0M971.9 161.4h0M972.1 160.7h0M972.3 159.5h0M972.5 158.8h0M972.7 158.5h0M972.9 158.8h0M973.1 157.6h0M973.3 156.7h0M973.5 155.6h0M973.7 155.1h0M973.9 155.2h0M974.1 153.1h0M974.3 152.9h0M974.5 154.4h0M974.7 154.2h0M974.9 153.5h0M975.1 155.0h0M975.3 154.1h0M975.5 155.4h0M975.7 154.0h0M975.9 155.2h0M976.0 156.5h0M976.2 155.6h0M976.4 155.4h0M976.6 155.7h0M976.8 155.6h0M977.0 155.3h0M977.2 155.1h0M977.4 156.4h0M977.6 156.1h0M977.8 155.4h0M978.0 154.4h0M978.2 154.8h0M978.4 156.2h0M978.6 157.9h0M978.8 159.7h0M979.0 159.8h0M979.2 161.4h0M979.4 162.3h0M979.6 163.9h0M979.8 164.7h0M980.0 166.5h0M980.2 167.7h0M980.4 166.9h0M980.6 167.0h0M980.8 167.3h0M981.0 166.6h0M981.2 168.3h0M981.4 166.7h0M981.6 167.3h0M981.8 167.0h0M982.0 168.4h0M982.2 167.4h0M982.4 167.2h0M982.6 167.6h0M982.8 165.6h0M982.9 164.3h0M983.1 163.9h0M983.3 163.1h0M983.5 161.7h0M983.7 161.1h0M983.9 160.2h0M984.1 159.7h0M984.3 158.8h0M984.5 157.8h0M984.7 156.3h0M984.9 155.8h0M985.1 154.3h0M985.3 154.1h0M985.5 152.7h0M985.7 151.2h0M985.9 151.2h0M986.1 149.3h0M986.3 149.9h0M986.5 150.4h0M986.7 151.0h0M986.9 150.8h0M987.1 150.3h0M987.3 148.5h0M987.5 148.2h0M987.7 146.3h0M987.9 146.5h0M988.1 144.3h0M988.3 141.8h0M988.5 141.8h0M988.7 139.7h0M988.9 138.8h0M989.1 136.2h0M989.3 136.0h0M989.5 134.6h0M989.7 132.5h0M989.8 131.6h0M990.0 131.1h0M990.2 130.8h0M990.4 131.3h0M990.6 130.3h0M990.8 129.4h0M991.0 127.8h0M991.2 127.0h0M991.4 126.7h0M991.6 125.7h0M991.8 124.9h0M992.0 124.2h0M992.2 123.9h0M992.4 122.6h0M992.6 121.9h0M992.8 120.8h0M993.0 120.0h0M993.2 119.1h0M993.4 119.1h0M993.6 117.8h0M993.8 117.7h0M994.0 116.0h0M994.2 115.8h0M994.4 113.7h0M994.6 113.5h0M994.8 112.9h0M995.0 111.8h0M995.2 111.7h0M995.4 110.9h0M995.6 111.0h0M995.8 110.4h0M996.0 110.4h0M996.2 109.9h0M996.4 110.1h0M996.6 111.1h0M996.8 112.1h0M996.9 112.2h0M997.1 113.7h0M997.3 115.1h0M997.5 115.1h0M997.7 116.9h0M997.9 118.2h0M998.1 118.8h0M998.3 121.3h0M998.5 123.2h0M998.7 122.6h0M998.9 125.7h0M999.1 125.3h0M999.3 127.8h0M999.5 127.2h0M999.7 130.1h0M999.9 130.7h0M1000.1 131.2h0M1000.3 132.7h0M1000.5 133.8h0M1000.7 135.1h0M1000.9 137.0h0M1001.1 138.0h0M1001.3 137.9h0M1001.5 140.3h0M1001.7 142.0h0M1001.9 143.0h0M1002.1 145.1h0M1002.3 144.4h0M1002.5 146.8h0M1002.7 147.9h0M1002.9 149.5h0M1003.1 149.5h0M1003.3 150.3h0M1003.5 151.7h0M1003.7 152.7h0M1003.8 152.4h0M1004.0 154.4h0M1004.2 155.0h0M1004.4 156.2h0M1004.6 155.1h0M1004.8 157.6h0M1005.0 157.6h0M1005.2 158.5h0M1005.4 159.9h0M1005.6 161.1h0M1005.8 161.0h0M1006.0 161.5h0M1006.2 163.0h0M1006.4 162.4h0M1006.6 163.5h0M1006.8 164.0h0M1007.0 164.5h0M1007.2 166.2h0M1007.4 168.3h0M1007.6 168.3h0M1007.8 169.5h0M1008.0 170.3h0M1008.2 172.0h0" stroke="#ff0000" stroke-width="2.0" stroke-linecap="round" fill="none"/>
<path d="M614.30 113.10h0M618.90 133.60h0M623.50 131.40h0M628.10 150.10h0M632.70 163.30h0M637.30 178.40h0M641.90 172.90h0M646.50 143.40h0M651.10 118.90h0M655.70 94.30h0M660.30 67.50h0M664.90 82.30h0M669.50 121.40h0M674.10 143.40h0M678.70 147.20h0M683.30 178.40h0M687.90 193.80h0M692.50 216.50h0M697.10 214.30h0M701.70 179.50h0M706.30 96.50h0M710.90 52.10h0M715.50 108.30h0M720.10 141.70h0M724.70 153.80h0M729.30 167.00h0M733.90 175.10h0M738.50 205.20h0M743.10 123.30h0M747.70 61.10h0M752.30 69.80h0M756.90 64.20h0M761.50 72.80h0M766.10 105.50h0M775.30 149.20h0M779.90 189.00h0M784.50 222.40h0M793.70 208.20h0M798.30 163.80h0M802.90 89.90h0M807.50 124.80h0M816.70 155.60h0M821.30 172.90h0M825.90 197.00h0M830.50 218.70h0M835.10 246.30h0M839.70 229.00h0M844.30 201.90h0M848.90 199.40h0M853.50 155.60h0M858.10 145.70h0M862.70 161.90h0M867.30 175.60h0M871.90 175.10h0M876.50 176.10h0M881.10 172.10h0M885.70 204.10h0M890.30 143.90h0M894.90 89.90h0M899.50 52.10h0M904.10 63.10h0M908.70 113.10h0M917.90 153.10h0M922.50 179.00h0M927.10 209.20h0M931.70 223.40h0M936.30 141.40h0M940.90 123.80h0M945.50 108.10h0M950.10 111.60h0M954.70 145.80h0M959.30 144.50h0M963.90 145.50h0M968.50 154.50h0M973.10 153.10h0M977.70 155.00h0M982.30 167.70h0M986.90 151.60h0M991.50 125.20h0M996.10 109.50h0" stroke="#000" stroke-width="4.0" stroke-linecap="round" fill="none"/></g>
<rect x="576.40" y="26.00" width="432.10" height="244.30" fill="none" stroke="#a8a8a8" stroke-width="1.3"/>
<path d="M624.41 270.30v-4.3M624.41 26.00v4.3M672.42 270.30v-4.3M672.42 26.00v4.3M720.43 270.30v-4.3M720.43 26.00v4.3M768.44 270.30v-4.3M768.44 26.00v4.3M816.46 270.30v-4.3M816.46 26.00v4.3M864.47 270.30v-4.3M864.47 26.00v4.3M912.48 270.30v-4.3M912.48 26.00v4.3M960.49 270.30v-4.3M960.49 26.00v4.3M576.40 239.76h4.3M1008.50 239.76h-4.3M576.40 209.23h4.3M1008.50 209.23h-4.3M576.40 178.69h4.3M1008.50 178.69h-4.3M576.40 148.15h4.3M1008.50 148.15h-4.3M576.40 117.61h4.3M1008.50 117.61h-4.3M576.40 87.07h4.3M1008.50 87.07h-4.3M576.40 56.54h4.3M1008.50 56.54h-4.3" stroke="#8c8c8c" stroke-width="1" fill="none"/>
<text x="576.40" y="286.8" text-anchor="middle">2002</text>
<text x="624.41" y="286.8" text-anchor="middle">2003</text>
<text x="672.42" y="286.8" text-anchor="middle">2004</text>
<text x="720.43" y="286.8" text-anchor="middle">2005</text>
<text x="768.44" y="286.8" text-anchor="middle">2006</text>
<text x="816.46" y="286.8" text-anchor="middle">2007</text>
<text x="864.47" y="286.8" text-anchor="middle">2008</text>
<text x="912.48" y="286.8" text-anchor="middle">2009</text>
<text x="960.49" y="286.8" text-anchor="middle">2010</text>
<text x="1008.50" y="286.8" text-anchor="middle">2011</text>
<text x="574.20" y="275.77" text-anchor="end">-0.8</text>
<text x="574.20" y="245.23" text-anchor="end">-0.6</text>
<text x="574.20" y="214.70" text-anchor="end">-0.4</text>
<text x="574.20" y="184.16" text-anchor="end">-0.2</text>
<text x="574.20" y="153.62" text-anchor="end">0</text>
<text x="574.20" y="123.08" text-anchor="end">0.2</text>
<text x="574.20" y="92.54" text-anchor="end">0.4</text>
<text x="574.20" y="62.01" text-anchor="end">0.6</text>
<text x="574.20" y="31.47" text-anchor="end">0.8</text>
<text x="791.15" y="13.6" text-anchor="middle" font-size="13.8">Envisat P465 26.010N 80.609W</text>
<text x="792.45" y="302.5" text-anchor="middle">Year</text>
<text transform="translate(545.40 148.85) rotate(-90)" x="0" y="0" text-anchor="middle">Water Level Changes (m)</text>
</svg>
</body></html>
